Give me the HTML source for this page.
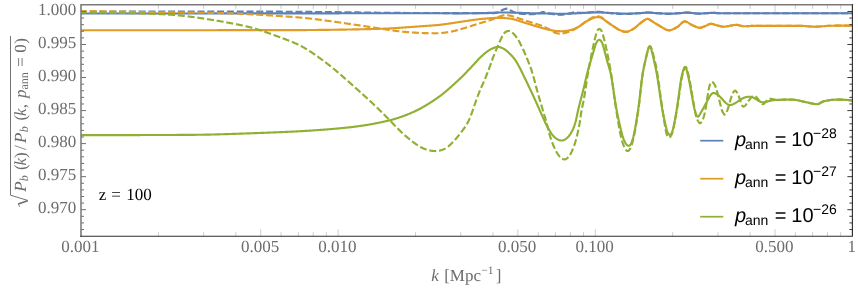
<!DOCTYPE html>
<html><head><meta charset="utf-8"><title>plot</title>
<style>html,body{margin:0;padding:0;background:#fff;}body{width:858px;height:288px;position:relative;overflow:hidden;font-family:"Liberation Sans",sans-serif;}</style>
</head><body>
<svg width="858" height="288" viewBox="0 0 858 288" style="position:absolute;left:0;top:0;will-change:transform;text-rendering:geometricPrecision">
<rect x="0" y="0" width="858" height="288" fill="#fff"/>
<defs><clipPath id="c"><rect x="81.0" y="4.75" width="771.4" height="231.55"/></clipPath></defs>
<g clip-path="url(#c)" fill="none" stroke-linejoin="round">
<path d="M81.00,13.45 L81.50,13.45 L82.00,13.45 L82.50,13.45 L83.00,13.45 L83.50,13.45 L84.00,13.45 L84.50,13.45 L85.00,13.45 L85.50,13.45 L86.00,13.45 L86.50,13.45 L87.00,13.45 L87.50,13.45 L88.00,13.45 L88.50,13.45 L89.00,13.45 L89.50,13.45 L90.00,13.45 L90.50,13.45 L91.00,13.45 L91.50,13.45 L92.00,13.46 L92.50,13.46 L93.00,13.46 L93.50,13.46 L94.00,13.46 L94.50,13.46 L95.00,13.46 L95.50,13.46 L96.00,13.46 L96.50,13.46 L97.00,13.46 L97.50,13.46 L98.00,13.46 L98.50,13.46 L99.00,13.46 L99.50,13.46 L100.00,13.46 L100.50,13.46 L101.00,13.46 L101.50,13.46 L102.00,13.46 L102.50,13.46 L103.00,13.46 L103.50,13.46 L104.00,13.46 L104.50,13.46 L105.00,13.46 L105.50,13.46 L106.00,13.46 L106.50,13.46 L107.00,13.46 L107.50,13.46 L108.00,13.46 L108.50,13.46 L109.00,13.46 L109.50,13.46 L110.00,13.46 L110.50,13.46 L111.00,13.46 L111.50,13.46 L112.00,13.46 L112.50,13.46 L113.00,13.46 L113.50,13.46 L114.00,13.46 L114.50,13.46 L115.00,13.46 L115.50,13.46 L116.00,13.46 L116.50,13.46 L117.00,13.46 L117.50,13.46 L118.00,13.46 L118.50,13.46 L119.00,13.46 L119.50,13.46 L120.00,13.46 L120.50,13.46 L121.00,13.46 L121.50,13.46 L122.00,13.46 L122.50,13.47 L123.00,13.47 L123.50,13.47 L124.00,13.47 L124.50,13.47 L125.00,13.47 L125.50,13.47 L126.00,13.47 L126.50,13.47 L127.00,13.47 L127.50,13.47 L128.00,13.47 L128.50,13.47 L129.00,13.47 L129.50,13.47 L130.00,13.47 L130.50,13.47 L131.00,13.47 L131.50,13.47 L132.00,13.47 L132.50,13.47 L133.00,13.47 L133.50,13.47 L134.00,13.47 L134.50,13.47 L135.00,13.47 L135.50,13.47 L136.00,13.47 L136.50,13.47 L137.00,13.47 L137.50,13.47 L138.00,13.47 L138.50,13.47 L139.00,13.47 L139.50,13.47 L140.00,13.47 L140.50,13.47 L141.00,13.47 L141.50,13.47 L142.00,13.47 L142.50,13.47 L143.00,13.47 L143.50,13.47 L144.00,13.47 L144.50,13.47 L145.00,13.47 L145.50,13.47 L146.00,13.47 L146.50,13.47 L147.00,13.47 L147.50,13.47 L148.00,13.47 L148.50,13.47 L149.00,13.47 L149.50,13.47 L150.00,13.47 L150.50,13.47 L151.00,13.47 L151.50,13.47 L152.00,13.47 L152.50,13.47 L153.00,13.47 L153.50,13.47 L154.00,13.47 L154.50,13.47 L155.00,13.47 L155.50,13.47 L156.00,13.47 L156.50,13.47 L157.00,13.47 L157.50,13.47 L158.00,13.47 L158.50,13.47 L159.00,13.47 L159.50,13.47 L160.00,13.47 L160.50,13.47 L161.00,13.47 L161.50,13.47 L162.00,13.47 L162.50,13.47 L163.00,13.47 L163.50,13.47 L164.00,13.47 L164.50,13.47 L165.00,13.47 L165.50,13.47 L166.00,13.47 L166.50,13.46 L167.00,13.46 L167.50,13.46 L168.00,13.46 L168.50,13.46 L169.00,13.46 L169.50,13.46 L170.00,13.46 L170.50,13.46 L171.00,13.46 L171.50,13.46 L172.00,13.46 L172.50,13.46 L173.00,13.46 L173.50,13.46 L174.00,13.46 L174.50,13.46 L175.00,13.46 L175.50,13.46 L176.00,13.46 L176.50,13.46 L177.00,13.46 L177.50,13.46 L178.00,13.46 L178.50,13.46 L179.00,13.46 L179.50,13.46 L180.00,13.46 L180.50,13.46 L181.00,13.46 L181.50,13.46 L182.00,13.46 L182.50,13.46 L183.00,13.46 L183.50,13.46 L184.00,13.46 L184.50,13.46 L185.00,13.46 L185.50,13.46 L186.00,13.46 L186.50,13.46 L187.00,13.46 L187.50,13.46 L188.00,13.46 L188.50,13.46 L189.00,13.46 L189.50,13.46 L190.00,13.46 L190.50,13.46 L191.00,13.46 L191.50,13.46 L192.00,13.45 L192.50,13.45 L193.00,13.45 L193.50,13.45 L194.00,13.45 L194.50,13.45 L195.00,13.45 L195.50,13.45 L196.00,13.45 L196.50,13.45 L197.00,13.45 L197.50,13.45 L198.00,13.45 L198.50,13.45 L199.00,13.45 L199.50,13.45 L200.00,13.45 L200.50,13.45 L201.00,13.45 L201.50,13.45 L202.00,13.45 L202.50,13.45 L203.00,13.45 L203.50,13.45 L204.00,13.45 L204.50,13.45 L205.00,13.45 L205.50,13.45 L206.00,13.45 L206.50,13.45 L207.00,13.45 L207.50,13.44 L208.00,13.44 L208.50,13.44 L209.00,13.44 L209.50,13.44 L210.00,13.44 L210.50,13.44 L211.00,13.44 L211.50,13.44 L212.00,13.44 L212.50,13.44 L213.00,13.44 L213.50,13.44 L214.00,13.44 L214.50,13.44 L215.00,13.44 L215.50,13.44 L216.00,13.44 L216.50,13.44 L217.00,13.44 L217.50,13.44 L218.00,13.44 L218.50,13.44 L219.00,13.44 L219.50,13.44 L220.00,13.43 L220.50,13.43 L221.00,13.43 L221.50,13.43 L222.00,13.43 L222.50,13.43 L223.00,13.43 L223.50,13.43 L224.00,13.43 L224.50,13.43 L225.00,13.43 L225.50,13.43 L226.00,13.43 L226.50,13.43 L227.00,13.43 L227.50,13.43 L228.00,13.43 L228.50,13.43 L229.00,13.43 L229.50,13.43 L230.00,13.43 L230.50,13.43 L231.00,13.42 L231.50,13.42 L232.00,13.42 L232.50,13.42 L233.00,13.42 L233.50,13.42 L234.00,13.42 L234.50,13.42 L235.00,13.42 L235.50,13.42 L236.00,13.42 L236.50,13.42 L237.00,13.42 L237.50,13.42 L238.00,13.42 L238.50,13.42 L239.00,13.42 L239.50,13.42 L240.00,13.42 L240.50,13.42 L241.00,13.41 L241.50,13.41 L242.00,13.41 L242.50,13.41 L243.00,13.41 L243.50,13.41 L244.00,13.41 L244.50,13.41 L245.00,13.41 L245.50,13.41 L246.00,13.41 L246.50,13.41 L247.00,13.41 L247.50,13.41 L248.00,13.41 L248.50,13.41 L249.00,13.41 L249.50,13.41 L250.00,13.41 L250.50,13.41 L251.00,13.40 L251.50,13.40 L252.00,13.40 L252.50,13.40 L253.00,13.40 L253.50,13.40 L254.00,13.40 L254.50,13.40 L255.00,13.40 L255.50,13.40 L256.00,13.40 L256.50,13.40 L257.00,13.40 L257.50,13.40 L258.00,13.40 L258.50,13.40 L259.00,13.40 L259.50,13.40 L260.00,13.39 L260.50,13.39 L261.00,13.39 L261.50,13.39 L262.00,13.39 L262.50,13.39 L263.00,13.39 L263.50,13.39 L264.00,13.39 L264.50,13.39 L265.00,13.39 L265.50,13.39 L266.00,13.39 L266.50,13.39 L267.00,13.39 L267.50,13.39 L268.00,13.39 L268.50,13.39 L269.00,13.38 L269.50,13.38 L270.00,13.38 L270.50,13.38 L271.00,13.38 L271.50,13.38 L272.00,13.38 L272.50,13.38 L273.00,13.38 L273.50,13.38 L274.00,13.38 L274.50,13.38 L275.00,13.38 L275.50,13.38 L276.00,13.38 L276.50,13.38 L277.00,13.38 L277.50,13.38 L278.00,13.37 L278.50,13.37 L279.00,13.37 L279.50,13.37 L280.00,13.37 L280.50,13.37 L281.00,13.37 L281.50,13.37 L282.00,13.37 L282.50,13.37 L283.00,13.37 L283.50,13.37 L284.00,13.37 L284.50,13.37 L285.00,13.37 L285.50,13.37 L286.00,13.37 L286.50,13.37 L287.00,13.36 L287.50,13.36 L288.00,13.36 L288.50,13.36 L289.00,13.36 L289.50,13.36 L290.00,13.36 L290.50,13.36 L291.00,13.36 L291.50,13.36 L292.00,13.36 L292.50,13.36 L293.00,13.36 L293.50,13.36 L294.00,13.36 L294.50,13.36 L295.00,13.36 L295.50,13.36 L296.00,13.35 L296.50,13.35 L297.00,13.35 L297.50,13.35 L298.00,13.35 L298.50,13.35 L299.00,13.35 L299.50,13.35 L300.00,13.35 L300.50,13.35 L301.00,13.35 L301.50,13.35 L302.00,13.35 L302.50,13.35 L303.00,13.35 L303.50,13.35 L304.00,13.35 L304.50,13.34 L305.00,13.34 L305.50,13.34 L306.00,13.34 L306.50,13.34 L307.00,13.34 L307.50,13.34 L308.00,13.34 L308.50,13.34 L309.00,13.34 L309.50,13.34 L310.00,13.34 L310.50,13.34 L311.00,13.34 L311.50,13.34 L312.00,13.34 L312.50,13.33 L313.00,13.33 L313.50,13.33 L314.00,13.33 L314.50,13.33 L315.00,13.33 L315.50,13.33 L316.00,13.33 L316.50,13.33 L317.00,13.33 L317.50,13.33 L318.00,13.33 L318.50,13.33 L319.00,13.33 L319.50,13.33 L320.00,13.32 L320.50,13.32 L321.00,13.32 L321.50,13.32 L322.00,13.32 L322.50,13.32 L323.00,13.32 L323.50,13.32 L324.00,13.32 L324.50,13.32 L325.00,13.32 L325.50,13.32 L326.00,13.32 L326.50,13.32 L327.00,13.31 L327.50,13.31 L328.00,13.31 L328.50,13.31 L329.00,13.31 L329.50,13.31 L330.00,13.31 L330.50,13.31 L331.00,13.31 L331.50,13.31 L332.00,13.31 L332.50,13.31 L333.00,13.31 L333.50,13.30 L334.00,13.30 L334.50,13.30 L335.00,13.30 L335.50,13.30 L336.00,13.30 L336.50,13.30 L337.00,13.30 L337.50,13.30 L338.00,13.30 L338.50,13.30 L339.00,13.30 L339.50,13.30 L340.00,13.29 L340.50,13.29 L341.00,13.29 L341.50,13.29 L342.00,13.29 L342.50,13.29 L343.00,13.29 L343.50,13.29 L344.00,13.29 L344.50,13.29 L345.00,13.29 L345.50,13.29 L346.00,13.28 L346.50,13.28 L347.00,13.28 L347.50,13.28 L348.00,13.28 L348.50,13.28 L349.00,13.28 L349.50,13.28 L350.00,13.28 L350.50,13.28 L351.00,13.28 L351.50,13.28 L352.00,13.28 L352.50,13.27 L353.00,13.27 L353.50,13.27 L354.00,13.27 L354.50,13.27 L355.00,13.27 L355.50,13.27 L356.00,13.27 L356.50,13.27 L357.00,13.27 L357.50,13.27 L358.00,13.27 L358.50,13.26 L359.00,13.26 L359.50,13.26 L360.00,13.26 L360.50,13.26 L361.00,13.26 L361.50,13.26 L362.00,13.26 L362.50,13.26 L363.00,13.26 L363.50,13.26 L364.00,13.26 L364.50,13.25 L365.00,13.25 L365.50,13.25 L366.00,13.25 L366.50,13.25 L367.00,13.25 L367.50,13.25 L368.00,13.25 L368.50,13.25 L369.00,13.25 L369.50,13.25 L370.00,13.25 L370.50,13.24 L371.00,13.24 L371.50,13.24 L372.00,13.24 L372.50,13.24 L373.00,13.24 L373.50,13.24 L374.00,13.24 L374.50,13.24 L375.00,13.24 L375.50,13.24 L376.00,13.24 L376.50,13.24 L377.00,13.23 L377.50,13.23 L378.00,13.23 L378.50,13.23 L379.00,13.23 L379.50,13.23 L380.00,13.23 L380.50,13.23 L381.00,13.23 L381.50,13.23 L382.00,13.23 L382.50,13.23 L383.00,13.23 L383.50,13.22 L384.00,13.22 L384.50,13.22 L385.00,13.22 L385.50,13.22 L386.00,13.22 L386.50,13.22 L387.00,13.22 L387.50,13.22 L388.00,13.22 L388.50,13.22 L389.00,13.22 L389.50,13.22 L390.00,13.21 L390.50,13.21 L391.00,13.21 L391.50,13.21 L392.00,13.21 L392.50,13.21 L393.00,13.21 L393.50,13.21 L394.00,13.21 L394.50,13.21 L395.00,13.21 L395.50,13.21 L396.00,13.21 L396.50,13.20 L397.00,13.20 L397.50,13.20 L398.00,13.20 L398.50,13.20 L399.00,13.20 L399.50,13.20 L400.00,13.20 L400.50,13.20 L401.00,13.20 L401.50,13.20 L402.00,13.20 L402.50,13.20 L403.00,13.20 L403.50,13.20 L404.00,13.20 L404.50,13.20 L405.00,13.20 L405.50,13.20 L406.00,13.20 L406.50,13.20 L407.00,13.20 L407.50,13.20 L408.00,13.20 L408.50,13.20 L409.00,13.20 L409.50,13.20 L410.00,13.20 L410.50,13.20 L411.00,13.20 L411.50,13.20 L412.00,13.20 L412.50,13.20 L413.00,13.20 L413.50,13.20 L414.00,13.20 L414.50,13.20 L415.00,13.20 L415.50,13.21 L416.00,13.21 L416.50,13.21 L417.00,13.21 L417.50,13.21 L418.00,13.21 L418.50,13.21 L419.00,13.21 L419.50,13.21 L420.00,13.21 L420.50,13.22 L421.00,13.22 L421.50,13.22 L422.00,13.22 L422.50,13.22 L423.00,13.22 L423.50,13.22 L424.00,13.22 L424.50,13.23 L425.00,13.23 L425.50,13.23 L426.00,13.23 L426.50,13.23 L427.00,13.23 L427.50,13.23 L428.00,13.23 L428.50,13.24 L429.00,13.24 L429.50,13.24 L430.00,13.24 L430.50,13.24 L431.00,13.24 L431.50,13.24 L432.00,13.25 L432.50,13.25 L433.00,13.25 L433.50,13.25 L434.00,13.25 L434.50,13.25 L435.00,13.25 L435.50,13.26 L436.00,13.26 L436.50,13.26 L437.00,13.26 L437.50,13.26 L438.00,13.26 L438.50,13.26 L439.00,13.27 L439.50,13.27 L440.00,13.27 L440.50,13.27 L441.00,13.27 L441.50,13.27 L442.00,13.27 L442.50,13.28 L443.00,13.28 L443.50,13.28 L444.00,13.28 L444.50,13.28 L445.00,13.28 L445.50,13.28 L446.00,13.28 L446.50,13.28 L447.00,13.29 L447.50,13.29 L448.00,13.29 L448.50,13.29 L449.00,13.29 L449.50,13.29 L450.00,13.29 L450.50,13.29 L451.00,13.29 L451.50,13.29 L452.00,13.29 L452.50,13.30 L453.00,13.30 L453.50,13.30 L454.00,13.30 L454.50,13.30 L455.00,13.30 L455.50,13.30 L456.00,13.30 L456.50,13.30 L457.00,13.30 L457.50,13.30 L458.00,13.30 L458.50,13.30 L459.00,13.30 L459.50,13.30 L460.00,13.30 L460.50,13.30 L461.00,13.30 L461.50,13.30 L462.00,13.30 L462.50,13.30 L463.00,13.29 L463.50,13.29 L464.00,13.29 L464.50,13.29 L465.00,13.28 L465.50,13.28 L466.00,13.28 L466.50,13.27 L467.00,13.27 L467.50,13.26 L468.00,13.26 L468.50,13.25 L469.00,13.25 L469.50,13.24 L470.00,13.24 L470.50,13.23 L471.00,13.22 L471.50,13.22 L472.00,13.21 L472.50,13.20 L473.00,13.20 L473.50,13.19 L474.00,13.18 L474.50,13.18 L475.00,13.17 L475.50,13.16 L476.00,13.15 L476.50,13.14 L477.00,13.14 L477.50,13.13 L478.00,13.12 L478.50,13.11 L479.00,13.10 L479.50,13.09 L480.00,13.09 L480.50,13.08 L481.00,13.07 L481.50,13.06 L482.00,13.05 L482.50,13.04 L483.00,13.03 L483.50,13.03 L484.00,13.02 L484.50,13.01 L485.00,13.00 L485.50,12.99 L486.00,12.98 L486.50,12.97 L487.00,12.95 L487.50,12.94 L488.00,12.92 L488.50,12.90 L489.00,12.89 L489.50,12.87 L490.00,12.85 L490.50,12.83 L491.00,12.81 L491.50,12.79 L492.00,12.77 L492.50,12.74 L493.00,12.72 L493.50,12.70 L494.00,12.68 L494.50,12.66 L495.00,12.64 L495.50,12.62 L496.00,12.60 L496.50,12.59 L497.00,12.57 L497.50,12.56 L498.00,12.54 L498.50,12.53 L499.00,12.52 L499.50,12.51 L500.00,12.50 L500.50,12.49 L501.00,12.49 L501.50,12.48 L502.00,12.48 L502.50,12.48 L503.00,12.48 L503.50,12.48 L504.00,12.48 L504.50,12.48 L505.00,12.48 L505.50,12.48 L506.00,12.49 L506.50,12.49 L507.00,12.50 L507.50,12.51 L508.00,12.51 L508.50,12.52 L509.00,12.53 L509.50,12.54 L510.00,12.55 L510.50,12.56 L511.00,12.57 L511.50,12.59 L512.00,12.60 L512.50,12.61 L513.00,12.63 L513.50,12.64 L514.00,12.66 L514.50,12.68 L515.00,12.69 L515.50,12.71 L516.00,12.73 L516.50,12.74 L517.00,12.76 L517.50,12.78 L518.00,12.80 L518.50,12.82 L519.00,12.84 L519.50,12.86 L520.00,12.87 L520.50,12.89 L521.00,12.91 L521.50,12.93 L522.00,12.95 L522.50,12.97 L523.00,12.99 L523.50,13.01 L524.00,13.02 L524.50,13.04 L525.00,13.06 L525.50,13.07 L526.00,13.09 L526.50,13.11 L527.00,13.12 L527.50,13.14 L528.00,13.15 L528.50,13.16 L529.00,13.18 L529.50,13.19 L530.00,13.20 L530.50,13.21 L531.00,13.22 L531.50,13.23 L532.00,13.24 L532.50,13.25 L533.00,13.26 L533.50,13.27 L534.00,13.28 L534.50,13.29 L535.00,13.31 L535.50,13.32 L536.00,13.33 L536.50,13.34 L537.00,13.35 L537.50,13.36 L538.00,13.37 L538.50,13.38 L539.00,13.39 L539.50,13.40 L540.00,13.41 L540.50,13.42 L541.00,13.43 L541.50,13.44 L542.00,13.45 L542.50,13.45 L543.00,13.46 L543.50,13.47 L544.00,13.48 L544.50,13.49 L545.00,13.50 L545.50,13.51 L546.00,13.52 L546.50,13.53 L547.00,13.54 L547.50,13.55 L548.00,13.56 L548.50,13.57 L549.00,13.58 L549.50,13.59 L550.00,13.60 L550.50,13.61 L551.00,13.62 L551.50,13.63 L552.00,13.64 L552.50,13.65 L553.00,13.66 L553.50,13.67 L554.00,13.68 L554.50,13.69 L555.00,13.70 L555.50,13.70 L556.00,13.71 L556.50,13.72 L557.00,13.73 L557.50,13.74 L558.00,13.75 L558.50,13.75 L559.00,13.76 L559.50,13.77 L560.00,13.78 L560.50,13.78 L561.00,13.79 L561.50,13.79 L562.00,13.80 L562.50,13.80 L563.00,13.81 L563.50,13.80 L564.00,13.80 L564.50,13.80 L565.00,13.79 L565.50,13.78 L566.00,13.77 L566.50,13.76 L567.00,13.74 L567.50,13.73 L568.00,13.71 L568.50,13.70 L569.00,13.68 L569.50,13.66 L570.00,13.64 L570.50,13.61 L571.00,13.59 L571.50,13.57 L572.00,13.55 L572.50,13.52 L573.00,13.50 L573.50,13.47 L574.00,13.45 L574.50,13.42 L575.00,13.40 L575.50,13.38 L576.00,13.35 L576.50,13.33 L577.00,13.30 L577.50,13.28 L578.00,13.25 L578.50,13.22 L579.00,13.20 L579.50,13.17 L580.00,13.14 L580.50,13.12 L581.00,13.09 L581.50,13.06 L582.00,13.04 L582.50,13.01 L583.00,12.98 L583.50,12.96 L584.00,12.93 L584.50,12.90 L585.00,12.88 L585.50,12.85 L586.00,12.82 L586.50,12.80 L587.00,12.77 L587.50,12.75 L588.00,12.72 L588.50,12.69 L589.00,12.67 L589.50,12.64 L590.00,12.61 L590.50,12.58 L591.00,12.55 L591.50,12.52 L592.00,12.49 L592.50,12.46 L593.00,12.44 L593.50,12.41 L594.00,12.39 L594.50,12.37 L595.00,12.35 L595.50,12.34 L596.00,12.32 L596.50,12.32 L597.00,12.32 L597.50,12.32 L598.00,12.32 L598.50,12.34 L599.00,12.35 L599.50,12.37 L600.00,12.39 L600.50,12.41 L601.00,12.44 L601.50,12.47 L602.00,12.50 L602.50,12.53 L603.00,12.56 L603.50,12.60 L604.00,12.63 L604.50,12.66 L605.00,12.70 L605.50,12.73 L606.00,12.76 L606.50,12.80 L607.00,12.83 L607.50,12.85 L608.00,12.88 L608.50,12.91 L609.00,12.93 L609.50,12.96 L610.00,12.98 L610.50,13.01 L611.00,13.04 L611.50,13.06 L612.00,13.09 L612.50,13.12 L613.00,13.14 L613.50,13.17 L614.00,13.20 L614.50,13.22 L615.00,13.25 L615.50,13.28 L616.00,13.30 L616.50,13.33 L617.00,13.35 L617.50,13.38 L618.00,13.40 L618.50,13.43 L619.00,13.45 L619.50,13.47 L620.00,13.50 L620.50,13.52 L621.00,13.54 L621.50,13.56 L622.00,13.58 L622.50,13.60 L623.00,13.61 L623.50,13.63 L624.00,13.64 L624.50,13.66 L625.00,13.67 L625.50,13.68 L626.00,13.69 L626.50,13.70 L627.00,13.70 L627.50,13.70 L628.00,13.69 L628.50,13.68 L629.00,13.67 L629.50,13.66 L630.00,13.64 L630.50,13.63 L631.00,13.61 L631.50,13.59 L632.00,13.56 L632.50,13.54 L633.00,13.51 L633.50,13.49 L634.00,13.46 L634.50,13.43 L635.00,13.40 L635.50,13.37 L636.00,13.34 L636.50,13.31 L637.00,13.28 L637.50,13.25 L638.00,13.22 L638.50,13.20 L639.00,13.17 L639.50,13.14 L640.00,13.12 L640.50,13.09 L641.00,13.06 L641.50,13.02 L642.00,12.98 L642.50,12.94 L643.00,12.89 L643.50,12.85 L644.00,12.81 L644.50,12.76 L645.00,12.73 L645.50,12.69 L646.00,12.67 L646.50,12.65 L647.00,12.64 L647.50,12.63 L648.00,12.64 L648.50,12.65 L649.00,12.67 L649.50,12.69 L650.00,12.72 L650.50,12.74 L651.00,12.77 L651.50,12.79 L652.00,12.82 L652.50,12.85 L653.00,12.88 L653.50,12.92 L654.00,12.95 L654.50,12.98 L655.00,13.01 L655.50,13.04 L656.00,13.07 L656.50,13.09 L657.00,13.12 L657.50,13.15 L658.00,13.17 L658.50,13.20 L659.00,13.23 L659.50,13.26 L660.00,13.28 L660.50,13.31 L661.00,13.34 L661.50,13.37 L662.00,13.40 L662.50,13.43 L663.00,13.45 L663.50,13.48 L664.00,13.51 L664.50,13.53 L665.00,13.55 L665.50,13.58 L666.00,13.60 L666.50,13.62 L667.00,13.63 L667.50,13.65 L668.00,13.66 L668.50,13.67 L669.00,13.68 L669.50,13.68 L670.00,13.68 L670.50,13.68 L671.00,13.67 L671.50,13.65 L672.00,13.63 L672.50,13.61 L673.00,13.59 L673.50,13.56 L674.00,13.53 L674.50,13.50 L675.00,13.46 L675.50,13.43 L676.00,13.39 L676.50,13.36 L677.00,13.32 L677.50,13.28 L678.00,13.25 L678.50,13.21 L679.00,13.18 L679.50,13.15 L680.00,13.12 L680.50,13.09 L681.00,13.05 L681.50,13.01 L682.00,12.96 L682.50,12.91 L683.00,12.86 L683.50,12.81 L684.00,12.77 L684.50,12.73 L685.00,12.69 L685.50,12.66 L686.00,12.64 L686.50,12.63 L687.00,12.63 L687.50,12.64 L688.00,12.66 L688.50,12.69 L689.00,12.73 L689.50,12.77 L690.00,12.81 L690.50,12.86 L691.00,12.91 L691.50,12.96 L692.00,13.01 L692.50,13.06 L693.00,13.11 L693.50,13.16 L694.00,13.20 L694.50,13.25 L695.00,13.30 L695.50,13.35 L696.00,13.40 L696.50,13.45 L697.00,13.50 L697.50,13.54 L698.00,13.57 L698.50,13.59 L699.00,13.60 L699.50,13.59 L700.00,13.58 L700.50,13.56 L701.00,13.54 L701.50,13.51 L702.00,13.48 L702.50,13.44 L703.00,13.41 L703.50,13.37 L704.00,13.33 L704.50,13.30 L705.00,13.26 L705.50,13.23 L706.00,13.20 L706.50,13.17 L707.00,13.14 L707.50,13.12 L708.00,13.09 L708.50,13.06 L709.00,13.03 L709.50,13.01 L710.00,12.98 L710.50,12.95 L711.00,12.93 L711.50,12.90 L712.00,12.88 L712.50,12.86 L713.00,12.86 L713.50,12.87 L714.00,12.89 L714.50,12.91 L715.00,12.94 L715.50,12.98 L716.00,13.02 L716.50,13.06 L717.00,13.10 L717.50,13.14 L718.00,13.18 L718.50,13.21 L719.00,13.23 L719.50,13.24 L720.00,13.25 L720.50,13.25 L721.00,13.25 L721.50,13.25 L722.00,13.25 L722.50,13.25 L723.00,13.25 L723.50,13.25 L724.00,13.25 L724.50,13.25 L725.00,13.25 L725.50,13.25 L726.00,13.25 L726.50,13.25 L727.00,13.25 L727.50,13.25 L728.00,13.25 L728.50,13.25 L729.00,13.25 L729.50,13.25 L730.00,13.25 L730.50,13.25 L731.00,13.25 L731.50,13.25 L732.00,13.25 L732.50,13.25 L733.00,13.25 L733.50,13.25 L734.00,13.25 L734.50,13.25 L735.00,13.25 L735.50,13.25 L736.00,13.25 L736.50,13.25 L737.00,13.25 L737.50,13.25 L738.00,13.25 L738.50,13.25 L739.00,13.25 L739.50,13.25 L740.00,13.25 L740.50,13.25 L741.00,13.25 L741.50,13.25 L742.00,13.25 L742.50,13.25 L743.00,13.25 L743.50,13.25 L744.00,13.25 L744.50,13.25 L745.00,13.25 L745.50,13.25 L746.00,13.25 L746.50,13.25 L747.00,13.25 L747.50,13.25 L748.00,13.25 L748.50,13.25 L749.00,13.25 L749.50,13.25 L750.00,13.25 L750.50,13.25 L751.00,13.25 L751.50,13.25 L752.00,13.25 L752.50,13.25 L753.00,13.25 L753.50,13.25 L754.00,13.25 L754.50,13.25 L755.00,13.25 L755.50,13.25 L756.00,13.25 L756.50,13.25 L757.00,13.25 L757.50,13.25 L758.00,13.25 L758.50,13.25 L759.00,13.25 L759.50,13.25 L760.00,13.25 L760.50,13.25 L761.00,13.25 L761.50,13.25 L762.00,13.25 L762.50,13.25 L763.00,13.25 L763.50,13.25 L764.00,13.25 L764.50,13.25 L765.00,13.25 L765.50,13.25 L766.00,13.25 L766.50,13.25 L767.00,13.25 L767.50,13.25 L768.00,13.25 L768.50,13.25 L769.00,13.25 L769.50,13.25 L770.00,13.25 L770.50,13.25 L771.00,13.25 L771.50,13.25 L772.00,13.25 L772.50,13.25 L773.00,13.25 L773.50,13.25 L774.00,13.25 L774.50,13.25 L775.00,13.25 L775.50,13.25 L776.00,13.25 L776.50,13.25 L777.00,13.25 L777.50,13.25 L778.00,13.25 L778.50,13.25 L779.00,13.25 L779.50,13.25 L780.00,13.25 L780.50,13.25 L781.00,13.25 L781.50,13.25 L782.00,13.25 L782.50,13.25 L783.00,13.25 L783.50,13.25 L784.00,13.25 L784.50,13.25 L785.00,13.25 L785.50,13.25 L786.00,13.25 L786.50,13.25 L787.00,13.25 L787.50,13.25 L788.00,13.25 L788.50,13.25 L789.00,13.25 L789.50,13.25 L790.00,13.25 L790.50,13.25 L791.00,13.25 L791.50,13.25 L792.00,13.25 L792.50,13.25 L793.00,13.25 L793.50,13.25 L794.00,13.25 L794.50,13.25 L795.00,13.25 L795.50,13.25 L796.00,13.25 L796.50,13.25 L797.00,13.25 L797.50,13.25 L798.00,13.25 L798.50,13.25 L799.00,13.25 L799.50,13.25 L800.00,13.25 L800.50,13.25 L801.00,13.25 L801.50,13.25 L802.00,13.25 L802.50,13.25 L803.00,13.25 L803.50,13.25 L804.00,13.25 L804.50,13.25 L805.00,13.25 L805.50,13.25 L806.00,13.25 L806.50,13.25 L807.00,13.25 L807.50,13.25 L808.00,13.25 L808.50,13.25 L809.00,13.25 L809.50,13.25 L810.00,13.25 L810.50,13.25 L811.00,13.25 L811.50,13.25 L812.00,13.25 L812.50,13.25 L813.00,13.25 L813.50,13.25 L814.00,13.25 L814.50,13.25 L815.00,13.25 L815.50,13.25 L816.00,13.25 L816.50,13.25 L817.00,13.25 L817.50,13.25 L818.00,13.25 L818.50,13.25 L819.00,13.25 L819.50,13.25 L820.00,13.25 L820.50,13.25 L821.00,13.25 L821.50,13.25 L822.00,13.25 L822.50,13.25 L823.00,13.25 L823.50,13.25 L824.00,13.25 L824.50,13.25 L825.00,13.25 L825.50,13.25 L826.00,13.25 L826.50,13.25 L827.00,13.25 L827.50,13.25 L828.00,13.25 L828.50,13.25 L829.00,13.25 L829.50,13.25 L830.00,13.25 L830.50,13.25 L831.00,13.25 L831.50,13.25 L832.00,13.25 L832.50,13.25 L833.00,13.25 L833.50,13.25 L834.00,13.25 L834.50,13.25 L835.00,13.25 L835.50,13.25 L836.00,13.25 L836.50,13.25 L837.00,13.25 L837.50,13.25 L838.00,13.25 L838.50,13.25 L839.00,13.25 L839.50,13.25 L840.00,13.25 L840.50,13.25 L841.00,13.25 L841.50,13.25 L842.00,13.25 L842.50,13.25 L843.00,13.25 L843.50,13.25 L844.00,13.25 L844.50,13.25 L845.00,13.25 L845.50,13.25 L846.00,13.25 L846.50,13.25 L847.00,13.25 L847.50,13.25 L848.00,13.25 L848.50,13.25 L849.00,13.25 L849.50,13.25 L850.00,13.25 L850.50,13.25 L851.00,13.25 L851.50,13.25 L852.00,13.25 L852.50,13.25" stroke="#5E81B5" stroke-width="2.15"/>
<path d="M81.00,30.20 L81.50,30.20 L82.00,30.20 L82.50,30.20 L83.00,30.20 L83.50,30.20 L84.00,30.20 L84.50,30.20 L85.00,30.20 L85.50,30.20 L86.00,30.20 L86.50,30.20 L87.00,30.20 L87.50,30.20 L88.00,30.20 L88.50,30.20 L89.00,30.20 L89.50,30.20 L90.00,30.20 L90.50,30.20 L91.00,30.20 L91.50,30.20 L92.00,30.20 L92.50,30.21 L93.00,30.21 L93.50,30.21 L94.00,30.21 L94.50,30.21 L95.00,30.21 L95.50,30.21 L96.00,30.21 L96.50,30.21 L97.00,30.21 L97.50,30.21 L98.00,30.21 L98.50,30.21 L99.00,30.21 L99.50,30.21 L100.00,30.21 L100.50,30.21 L101.00,30.21 L101.50,30.21 L102.00,30.21 L102.50,30.21 L103.00,30.21 L103.50,30.21 L104.00,30.21 L104.50,30.21 L105.00,30.21 L105.50,30.21 L106.00,30.21 L106.50,30.21 L107.00,30.21 L107.50,30.21 L108.00,30.21 L108.50,30.21 L109.00,30.21 L109.50,30.21 L110.00,30.21 L110.50,30.21 L111.00,30.21 L111.50,30.21 L112.00,30.21 L112.50,30.21 L113.00,30.21 L113.50,30.21 L114.00,30.21 L114.50,30.21 L115.00,30.21 L115.50,30.21 L116.00,30.21 L116.50,30.21 L117.00,30.21 L117.50,30.21 L118.00,30.21 L118.50,30.21 L119.00,30.21 L119.50,30.21 L120.00,30.21 L120.50,30.21 L121.00,30.21 L121.50,30.21 L122.00,30.21 L122.50,30.21 L123.00,30.21 L123.50,30.21 L124.00,30.21 L124.50,30.21 L125.00,30.21 L125.50,30.21 L126.00,30.21 L126.50,30.21 L127.00,30.21 L127.50,30.21 L128.00,30.21 L128.50,30.21 L129.00,30.21 L129.50,30.21 L130.00,30.21 L130.50,30.21 L131.00,30.21 L131.50,30.21 L132.00,30.21 L132.50,30.21 L133.00,30.21 L133.50,30.21 L134.00,30.21 L134.50,30.21 L135.00,30.21 L135.50,30.21 L136.00,30.21 L136.50,30.21 L137.00,30.21 L137.50,30.21 L138.00,30.21 L138.50,30.21 L139.00,30.21 L139.50,30.21 L140.00,30.21 L140.50,30.21 L141.00,30.21 L141.50,30.21 L142.00,30.21 L142.50,30.21 L143.00,30.21 L143.50,30.21 L144.00,30.21 L144.50,30.21 L145.00,30.21 L145.50,30.21 L146.00,30.21 L146.50,30.21 L147.00,30.21 L147.50,30.21 L148.00,30.21 L148.50,30.21 L149.00,30.21 L149.50,30.21 L150.00,30.21 L150.50,30.21 L151.00,30.21 L151.50,30.21 L152.00,30.21 L152.50,30.21 L153.00,30.21 L153.50,30.21 L154.00,30.21 L154.50,30.21 L155.00,30.21 L155.50,30.21 L156.00,30.21 L156.50,30.21 L157.00,30.21 L157.50,30.21 L158.00,30.21 L158.50,30.21 L159.00,30.21 L159.50,30.21 L160.00,30.21 L160.50,30.21 L161.00,30.21 L161.50,30.21 L162.00,30.21 L162.50,30.21 L163.00,30.21 L163.50,30.21 L164.00,30.21 L164.50,30.21 L165.00,30.21 L165.50,30.21 L166.00,30.21 L166.50,30.21 L167.00,30.21 L167.50,30.21 L168.00,30.21 L168.50,30.21 L169.00,30.21 L169.50,30.21 L170.00,30.21 L170.50,30.20 L171.00,30.20 L171.50,30.20 L172.00,30.20 L172.50,30.20 L173.00,30.20 L173.50,30.20 L174.00,30.20 L174.50,30.20 L175.00,30.20 L175.50,30.20 L176.00,30.20 L176.50,30.20 L177.00,30.20 L177.50,30.20 L178.00,30.20 L178.50,30.20 L179.00,30.20 L179.50,30.20 L180.00,30.20 L180.50,30.20 L181.00,30.20 L181.50,30.20 L182.00,30.20 L182.50,30.20 L183.00,30.20 L183.50,30.20 L184.00,30.20 L184.50,30.20 L185.00,30.20 L185.50,30.20 L186.00,30.20 L186.50,30.20 L187.00,30.20 L187.50,30.20 L188.00,30.20 L188.50,30.20 L189.00,30.20 L189.50,30.20 L190.00,30.20 L190.50,30.20 L191.00,30.20 L191.50,30.20 L192.00,30.20 L192.50,30.20 L193.00,30.20 L193.50,30.20 L194.00,30.20 L194.50,30.20 L195.00,30.20 L195.50,30.20 L196.00,30.20 L196.50,30.20 L197.00,30.20 L197.50,30.20 L198.00,30.20 L198.50,30.20 L199.00,30.20 L199.50,30.20 L200.00,30.20 L200.50,30.20 L201.00,30.20 L201.50,30.20 L202.00,30.20 L202.50,30.20 L203.00,30.20 L203.50,30.20 L204.00,30.20 L204.50,30.20 L205.00,30.20 L205.50,30.20 L206.00,30.20 L206.50,30.20 L207.00,30.20 L207.50,30.20 L208.00,30.20 L208.50,30.20 L209.00,30.20 L209.50,30.20 L210.00,30.20 L210.50,30.20 L211.00,30.20 L211.50,30.20 L212.00,30.20 L212.50,30.20 L213.00,30.20 L213.50,30.20 L214.00,30.20 L214.50,30.20 L215.00,30.20 L215.50,30.20 L216.00,30.20 L216.50,30.20 L217.00,30.20 L217.50,30.19 L218.00,30.19 L218.50,30.19 L219.00,30.19 L219.50,30.19 L220.00,30.19 L220.50,30.19 L221.00,30.19 L221.50,30.19 L222.00,30.19 L222.50,30.19 L223.00,30.19 L223.50,30.19 L224.00,30.19 L224.50,30.19 L225.00,30.19 L225.50,30.19 L226.00,30.19 L226.50,30.19 L227.00,30.19 L227.50,30.19 L228.00,30.19 L228.50,30.19 L229.00,30.19 L229.50,30.19 L230.00,30.19 L230.50,30.19 L231.00,30.19 L231.50,30.19 L232.00,30.19 L232.50,30.19 L233.00,30.19 L233.50,30.19 L234.00,30.18 L234.50,30.18 L235.00,30.18 L235.50,30.18 L236.00,30.18 L236.50,30.18 L237.00,30.18 L237.50,30.18 L238.00,30.18 L238.50,30.18 L239.00,30.18 L239.50,30.18 L240.00,30.18 L240.50,30.18 L241.00,30.18 L241.50,30.18 L242.00,30.18 L242.50,30.18 L243.00,30.18 L243.50,30.18 L244.00,30.18 L244.50,30.18 L245.00,30.18 L245.50,30.17 L246.00,30.17 L246.50,30.17 L247.00,30.17 L247.50,30.17 L248.00,30.17 L248.50,30.17 L249.00,30.17 L249.50,30.17 L250.00,30.17 L250.50,30.17 L251.00,30.17 L251.50,30.17 L252.00,30.17 L252.50,30.17 L253.00,30.17 L253.50,30.17 L254.00,30.17 L254.50,30.16 L255.00,30.16 L255.50,30.16 L256.00,30.16 L256.50,30.16 L257.00,30.16 L257.50,30.16 L258.00,30.16 L258.50,30.16 L259.00,30.16 L259.50,30.16 L260.00,30.16 L260.50,30.16 L261.00,30.16 L261.50,30.16 L262.00,30.16 L262.50,30.15 L263.00,30.15 L263.50,30.15 L264.00,30.15 L264.50,30.15 L265.00,30.15 L265.50,30.15 L266.00,30.15 L266.50,30.15 L267.00,30.15 L267.50,30.15 L268.00,30.15 L268.50,30.15 L269.00,30.15 L269.50,30.15 L270.00,30.14 L270.50,30.14 L271.00,30.14 L271.50,30.14 L272.00,30.14 L272.50,30.14 L273.00,30.14 L273.50,30.14 L274.00,30.14 L274.50,30.14 L275.00,30.14 L275.50,30.14 L276.00,30.14 L276.50,30.13 L277.00,30.13 L277.50,30.13 L278.00,30.13 L278.50,30.13 L279.00,30.13 L279.50,30.13 L280.00,30.13 L280.50,30.13 L281.00,30.13 L281.50,30.13 L282.00,30.13 L282.50,30.12 L283.00,30.12 L283.50,30.12 L284.00,30.12 L284.50,30.12 L285.00,30.12 L285.50,30.12 L286.00,30.12 L286.50,30.12 L287.00,30.12 L287.50,30.12 L288.00,30.12 L288.50,30.11 L289.00,30.11 L289.50,30.11 L290.00,30.11 L290.50,30.11 L291.00,30.11 L291.50,30.11 L292.00,30.11 L292.50,30.11 L293.00,30.11 L293.50,30.10 L294.00,30.10 L294.50,30.10 L295.00,30.10 L295.50,30.10 L296.00,30.10 L296.50,30.10 L297.00,30.10 L297.50,30.10 L298.00,30.09 L298.50,30.09 L299.00,30.09 L299.50,30.09 L300.00,30.09 L300.50,30.09 L301.00,30.08 L301.50,30.08 L302.00,30.08 L302.50,30.08 L303.00,30.07 L303.50,30.07 L304.00,30.07 L304.50,30.06 L305.00,30.06 L305.50,30.06 L306.00,30.05 L306.50,30.05 L307.00,30.05 L307.50,30.04 L308.00,30.04 L308.50,30.03 L309.00,30.03 L309.50,30.03 L310.00,30.02 L310.50,30.02 L311.00,30.01 L311.50,30.01 L312.00,30.00 L312.50,30.00 L313.00,29.99 L313.50,29.99 L314.00,29.98 L314.50,29.98 L315.00,29.97 L315.50,29.97 L316.00,29.96 L316.50,29.96 L317.00,29.95 L317.50,29.95 L318.00,29.94 L318.50,29.94 L319.00,29.93 L319.50,29.93 L320.00,29.92 L320.50,29.91 L321.00,29.91 L321.50,29.90 L322.00,29.90 L322.50,29.89 L323.00,29.89 L323.50,29.88 L324.00,29.87 L324.50,29.87 L325.00,29.86 L325.50,29.86 L326.00,29.85 L326.50,29.84 L327.00,29.84 L327.50,29.83 L328.00,29.82 L328.50,29.82 L329.00,29.81 L329.50,29.81 L330.00,29.80 L330.50,29.79 L331.00,29.79 L331.50,29.78 L332.00,29.77 L332.50,29.77 L333.00,29.76 L333.50,29.75 L334.00,29.75 L334.50,29.74 L335.00,29.73 L335.50,29.73 L336.00,29.72 L336.50,29.71 L337.00,29.70 L337.50,29.70 L338.00,29.69 L338.50,29.68 L339.00,29.67 L339.50,29.67 L340.00,29.66 L340.50,29.65 L341.00,29.64 L341.50,29.63 L342.00,29.63 L342.50,29.62 L343.00,29.61 L343.50,29.60 L344.00,29.59 L344.50,29.58 L345.00,29.57 L345.50,29.57 L346.00,29.56 L346.50,29.55 L347.00,29.54 L347.50,29.53 L348.00,29.52 L348.50,29.51 L349.00,29.50 L349.50,29.50 L350.00,29.49 L350.50,29.48 L351.00,29.47 L351.50,29.46 L352.00,29.45 L352.50,29.44 L353.00,29.43 L353.50,29.42 L354.00,29.41 L354.50,29.40 L355.00,29.39 L355.50,29.39 L356.00,29.38 L356.50,29.37 L357.00,29.36 L357.50,29.35 L358.00,29.34 L358.50,29.33 L359.00,29.32 L359.50,29.31 L360.00,29.30 L360.50,29.29 L361.00,29.28 L361.50,29.27 L362.00,29.26 L362.50,29.25 L363.00,29.24 L363.50,29.23 L364.00,29.22 L364.50,29.21 L365.00,29.20 L365.50,29.19 L366.00,29.18 L366.50,29.16 L367.00,29.15 L367.50,29.14 L368.00,29.13 L368.50,29.12 L369.00,29.10 L369.50,29.09 L370.00,29.08 L370.50,29.07 L371.00,29.05 L371.50,29.04 L372.00,29.03 L372.50,29.01 L373.00,29.00 L373.50,28.99 L374.00,28.97 L374.50,28.96 L375.00,28.95 L375.50,28.93 L376.00,28.92 L376.50,28.90 L377.00,28.89 L377.50,28.87 L378.00,28.86 L378.50,28.84 L379.00,28.83 L379.50,28.81 L380.00,28.80 L380.50,28.78 L381.00,28.77 L381.50,28.75 L382.00,28.73 L382.50,28.72 L383.00,28.70 L383.50,28.68 L384.00,28.67 L384.50,28.65 L385.00,28.63 L385.50,28.61 L386.00,28.59 L386.50,28.57 L387.00,28.55 L387.50,28.53 L388.00,28.50 L388.50,28.48 L389.00,28.46 L389.50,28.43 L390.00,28.41 L390.50,28.39 L391.00,28.36 L391.50,28.33 L392.00,28.31 L392.50,28.28 L393.00,28.25 L393.50,28.22 L394.00,28.19 L394.50,28.16 L395.00,28.13 L395.50,28.10 L396.00,28.07 L396.50,28.03 L397.00,28.00 L397.50,27.97 L398.00,27.93 L398.50,27.90 L399.00,27.86 L399.50,27.83 L400.00,27.79 L400.50,27.76 L401.00,27.72 L401.50,27.69 L402.00,27.65 L402.50,27.62 L403.00,27.58 L403.50,27.55 L404.00,27.51 L404.50,27.48 L405.00,27.44 L405.50,27.41 L406.00,27.37 L406.50,27.33 L407.00,27.30 L407.50,27.26 L408.00,27.23 L408.50,27.19 L409.00,27.15 L409.50,27.12 L410.00,27.08 L410.50,27.05 L411.00,27.01 L411.50,26.97 L412.00,26.94 L412.50,26.90 L413.00,26.86 L413.50,26.83 L414.00,26.79 L414.50,26.75 L415.00,26.72 L415.50,26.68 L416.00,26.64 L416.50,26.60 L417.00,26.57 L417.50,26.53 L418.00,26.49 L418.50,26.46 L419.00,26.42 L419.50,26.38 L420.00,26.35 L420.50,26.31 L421.00,26.27 L421.50,26.24 L422.00,26.20 L422.50,26.16 L423.00,26.13 L423.50,26.09 L424.00,26.06 L424.50,26.02 L425.00,25.99 L425.50,25.96 L426.00,25.92 L426.50,25.89 L427.00,25.85 L427.50,25.82 L428.00,25.79 L428.50,25.75 L429.00,25.72 L429.50,25.69 L430.00,25.65 L430.50,25.62 L431.00,25.58 L431.50,25.55 L432.00,25.51 L432.50,25.47 L433.00,25.44 L433.50,25.40 L434.00,25.36 L434.50,25.32 L435.00,25.28 L435.50,25.23 L436.00,25.19 L436.50,25.15 L437.00,25.10 L437.50,25.06 L438.00,25.01 L438.50,24.96 L439.00,24.91 L439.50,24.85 L440.00,24.80 L440.50,24.74 L441.00,24.69 L441.50,24.63 L442.00,24.57 L442.50,24.50 L443.00,24.44 L443.50,24.37 L444.00,24.31 L444.50,24.24 L445.00,24.17 L445.50,24.10 L446.00,24.03 L446.50,23.96 L447.00,23.88 L447.50,23.81 L448.00,23.74 L448.50,23.66 L449.00,23.59 L449.50,23.51 L450.00,23.43 L450.50,23.36 L451.00,23.28 L451.50,23.20 L452.00,23.13 L452.50,23.05 L453.00,22.97 L453.50,22.90 L454.00,22.82 L454.50,22.74 L455.00,22.67 L455.50,22.59 L456.00,22.52 L456.50,22.44 L457.00,22.37 L457.50,22.30 L458.00,22.22 L458.50,22.15 L459.00,22.08 L459.50,22.00 L460.00,21.93 L460.50,21.85 L461.00,21.78 L461.50,21.70 L462.00,21.63 L462.50,21.55 L463.00,21.48 L463.50,21.40 L464.00,21.33 L464.50,21.25 L465.00,21.18 L465.50,21.10 L466.00,21.02 L466.50,20.95 L467.00,20.87 L467.50,20.80 L468.00,20.72 L468.50,20.65 L469.00,20.58 L469.50,20.50 L470.00,20.43 L470.50,20.35 L471.00,20.28 L471.50,20.21 L472.00,20.13 L472.50,20.06 L473.00,19.99 L473.50,19.91 L474.00,19.84 L474.50,19.77 L475.00,19.71 L475.50,19.64 L476.00,19.58 L476.50,19.51 L477.00,19.45 L477.50,19.40 L478.00,19.34 L478.50,19.28 L479.00,19.23 L479.50,19.17 L480.00,19.12 L480.50,19.07 L481.00,19.02 L481.50,18.97 L482.00,18.93 L482.50,18.88 L483.00,18.83 L483.50,18.79 L484.00,18.74 L484.50,18.70 L485.00,18.66 L485.50,18.61 L486.00,18.57 L486.50,18.53 L487.00,18.49 L487.50,18.44 L488.00,18.40 L488.50,18.36 L489.00,18.32 L489.50,18.28 L490.00,18.23 L490.50,18.19 L491.00,18.15 L491.50,18.11 L492.00,18.07 L492.50,18.04 L493.00,18.01 L493.50,17.98 L494.00,17.95 L494.50,17.92 L495.00,17.90 L495.50,17.88 L496.00,17.86 L496.50,17.84 L497.00,17.83 L497.50,17.82 L498.00,17.81 L498.50,17.80 L499.00,17.80 L499.50,17.80 L500.00,17.81 L500.50,17.82 L501.00,17.84 L501.50,17.86 L502.00,17.89 L502.50,17.92 L503.00,17.96 L503.50,17.99 L504.00,18.03 L504.50,18.07 L505.00,18.12 L505.50,18.16 L506.00,18.21 L506.50,18.25 L507.00,18.30 L507.50,18.35 L508.00,18.39 L508.50,18.43 L509.00,18.48 L509.50,18.53 L510.00,18.58 L510.50,18.64 L511.00,18.71 L511.50,18.79 L512.00,18.87 L512.50,18.97 L513.00,19.09 L513.50,19.21 L514.00,19.36 L514.50,19.51 L515.00,19.66 L515.50,19.81 L516.00,19.97 L516.50,20.12 L517.00,20.28 L517.50,20.44 L518.00,20.60 L518.50,20.76 L519.00,20.92 L519.50,21.09 L520.00,21.25 L520.50,21.41 L521.00,21.57 L521.50,21.74 L522.00,21.90 L522.50,22.06 L523.00,22.22 L523.50,22.39 L524.00,22.55 L524.50,22.71 L525.00,22.86 L525.50,23.02 L526.00,23.18 L526.50,23.33 L527.00,23.48 L527.50,23.64 L528.00,23.79 L528.50,23.94 L529.00,24.10 L529.50,24.25 L530.00,24.40 L530.50,24.56 L531.00,24.71 L531.50,24.86 L532.00,25.01 L532.50,25.17 L533.00,25.32 L533.50,25.47 L534.00,25.62 L534.50,25.77 L535.00,25.92 L535.50,26.08 L536.00,26.23 L536.50,26.38 L537.00,26.53 L537.50,26.68 L538.00,26.83 L538.50,26.98 L539.00,27.13 L539.50,27.28 L540.00,27.42 L540.50,27.57 L541.00,27.71 L541.50,27.85 L542.00,27.98 L542.50,28.12 L543.00,28.25 L543.50,28.38 L544.00,28.51 L544.50,28.64 L545.00,28.77 L545.50,28.89 L546.00,29.02 L546.50,29.14 L547.00,29.26 L547.50,29.38 L548.00,29.50 L548.50,29.61 L549.00,29.73 L549.50,29.85 L550.00,29.96 L550.50,30.07 L551.00,30.19 L551.50,30.30 L552.00,30.41 L552.50,30.51 L553.00,30.60 L553.50,30.68 L554.00,30.75 L554.50,30.81 L555.00,30.87 L555.50,30.93 L556.00,30.97 L556.50,31.01 L557.00,31.05 L557.50,31.08 L558.00,31.11 L558.50,31.14 L559.00,31.16 L559.50,31.18 L560.00,31.20 L560.50,31.21 L561.00,31.22 L561.50,31.22 L562.00,31.21 L562.50,31.20 L563.00,31.18 L563.50,31.15 L564.00,31.11 L564.50,31.07 L565.00,31.02 L565.50,30.97 L566.00,30.91 L566.50,30.84 L567.00,30.77 L567.50,30.69 L568.00,30.60 L568.50,30.51 L569.00,30.41 L569.50,30.31 L570.00,30.20 L570.50,30.08 L571.00,29.96 L571.50,29.82 L572.00,29.68 L572.50,29.52 L573.00,29.36 L573.50,29.19 L574.00,29.00 L574.50,28.80 L575.00,28.60 L575.50,28.38 L576.00,28.15 L576.50,27.91 L577.00,27.66 L577.50,27.40 L578.00,27.13 L578.50,26.84 L579.00,26.54 L579.50,26.23 L580.00,25.90 L580.50,25.56 L581.00,25.22 L581.50,24.86 L582.00,24.50 L582.50,24.14 L583.00,23.78 L583.50,23.42 L584.00,23.06 L584.50,22.71 L585.00,22.36 L585.50,22.02 L586.00,21.70 L586.50,21.38 L587.00,21.08 L587.50,20.79 L588.00,20.51 L588.50,20.23 L589.00,19.97 L589.50,19.71 L590.00,19.46 L590.50,19.21 L591.00,18.97 L591.50,18.73 L592.00,18.50 L592.50,18.28 L593.00,18.08 L593.50,17.90 L594.00,17.73 L594.50,17.59 L595.00,17.46 L595.50,17.35 L596.00,17.26 L596.50,17.19 L597.00,17.14 L597.50,17.11 L598.00,17.10 L598.50,17.11 L599.00,17.17 L599.50,17.25 L600.00,17.37 L600.50,17.52 L601.00,17.70 L601.50,17.92 L602.00,18.18 L602.50,18.47 L603.00,18.80 L603.50,19.16 L604.00,19.54 L604.50,19.94 L605.00,20.34 L605.50,20.74 L606.00,21.13 L606.50,21.51 L607.00,21.87 L607.50,22.22 L608.00,22.57 L608.50,22.92 L609.00,23.26 L609.50,23.60 L610.00,23.94 L610.50,24.28 L611.00,24.62 L611.50,24.95 L612.00,25.28 L612.50,25.61 L613.00,25.94 L613.50,26.27 L614.00,26.59 L614.50,26.91 L615.00,27.23 L615.50,27.55 L616.00,27.87 L616.50,28.19 L617.00,28.50 L617.50,28.81 L618.00,29.10 L618.50,29.38 L619.00,29.65 L619.50,29.90 L620.00,30.13 L620.50,30.35 L621.00,30.56 L621.50,30.75 L622.00,30.92 L622.50,31.07 L623.00,31.21 L623.50,31.33 L624.00,31.43 L624.50,31.51 L625.00,31.57 L625.50,31.61 L626.00,31.62 L626.50,31.59 L627.00,31.54 L627.50,31.45 L628.00,31.33 L628.50,31.19 L629.00,31.03 L629.50,30.84 L630.00,30.62 L630.50,30.39 L631.00,30.14 L631.50,29.88 L632.00,29.60 L632.50,29.31 L633.00,29.00 L633.50,28.69 L634.00,28.37 L634.50,28.03 L635.00,27.66 L635.50,27.28 L636.00,26.88 L636.50,26.47 L637.00,26.04 L637.50,25.61 L638.00,25.18 L638.50,24.75 L639.00,24.31 L639.50,23.89 L640.00,23.47 L640.50,23.06 L641.00,22.67 L641.50,22.29 L642.00,21.94 L642.50,21.59 L643.00,21.24 L643.50,20.87 L644.00,20.51 L644.50,20.16 L645.00,19.84 L645.50,19.55 L646.00,19.30 L646.50,19.11 L647.00,18.99 L647.50,18.94 L648.00,18.98 L648.50,19.11 L649.00,19.36 L649.50,19.64 L650.00,19.94 L650.50,20.25 L651.00,20.56 L651.50,20.88 L652.00,21.20 L652.50,21.52 L653.00,21.85 L653.50,22.18 L654.00,22.50 L654.50,22.82 L655.00,23.13 L655.50,23.44 L656.00,23.74 L656.50,24.04 L657.00,24.34 L657.50,24.64 L658.00,24.94 L658.50,25.24 L659.00,25.54 L659.50,25.84 L660.00,26.14 L660.50,26.44 L661.00,26.74 L661.50,27.03 L662.00,27.33 L662.50,27.62 L663.00,27.92 L663.50,28.21 L664.00,28.50 L664.50,28.78 L665.00,29.05 L665.50,29.29 L666.00,29.51 L666.50,29.70 L667.00,29.87 L667.50,30.01 L668.00,30.11 L668.50,30.19 L669.00,30.23 L669.50,30.23 L670.00,30.19 L670.50,30.11 L671.00,30.00 L671.50,29.86 L672.00,29.69 L672.50,29.49 L673.00,29.28 L673.50,29.04 L674.00,28.79 L674.50,28.52 L675.00,28.25 L675.50,27.97 L676.00,27.68 L676.50,27.40 L677.00,27.12 L677.50,26.84 L678.00,26.52 L678.50,26.14 L679.00,25.71 L679.50,25.24 L680.00,24.75 L680.50,24.26 L681.00,23.76 L681.50,23.28 L682.00,22.84 L682.50,22.43 L683.00,22.08 L683.50,21.80 L684.00,21.60 L684.50,21.50 L685.00,21.50 L685.50,21.59 L686.00,21.72 L686.50,21.90 L687.00,22.12 L687.50,22.37 L688.00,22.64 L688.50,22.93 L689.00,23.23 L689.50,23.54 L690.00,23.85 L690.50,24.15 L691.00,24.45 L691.50,24.72 L692.00,24.98 L692.50,25.20 L693.00,25.41 L693.50,25.64 L694.00,25.88 L694.50,26.12 L695.00,26.35 L695.50,26.59 L696.00,26.81 L696.50,27.02 L697.00,27.21 L697.50,27.37 L698.00,27.51 L698.50,27.62 L699.00,27.68 L699.50,27.71 L700.00,27.69 L700.50,27.63 L701.00,27.53 L701.50,27.41 L702.00,27.26 L702.50,27.09 L703.00,26.92 L703.50,26.73 L704.00,26.55 L704.50,26.37 L705.00,26.20 L705.50,26.02 L706.00,25.80 L706.50,25.56 L707.00,25.30 L707.50,25.04 L708.00,24.78 L708.50,24.54 L709.00,24.32 L709.50,24.13 L710.00,24.00 L710.50,23.92 L711.00,23.90 L711.50,23.94 L712.00,24.00 L712.50,24.09 L713.00,24.20 L713.50,24.32 L714.00,24.46 L714.50,24.61 L715.00,24.76 L715.50,24.92 L716.00,25.07 L716.50,25.22 L717.00,25.36 L717.50,25.49 L718.00,25.60 L718.50,25.71 L719.00,25.83 L719.50,25.95 L720.00,26.08 L720.50,26.21 L721.00,26.33 L721.50,26.44 L722.00,26.54 L722.50,26.62 L723.00,26.67 L723.50,26.70 L724.00,26.70 L724.50,26.67 L725.00,26.63 L725.50,26.57 L726.00,26.51 L726.50,26.43 L727.00,26.35 L727.50,26.26 L728.00,26.16 L728.50,26.07 L729.00,25.98 L729.50,25.89 L730.00,25.80 L730.50,25.71 L731.00,25.62 L731.50,25.53 L732.00,25.43 L732.50,25.33 L733.00,25.24 L733.50,25.14 L734.00,25.05 L734.50,24.97 L735.00,24.90 L735.50,24.85 L736.00,24.84 L736.50,24.86 L737.00,24.91 L737.50,24.98 L738.00,25.08 L738.50,25.19 L739.00,25.31 L739.50,25.44 L740.00,25.58 L740.50,25.71 L741.00,25.84 L741.50,25.96 L742.00,26.07 L742.50,26.16 L743.00,26.24 L743.50,26.28 L744.00,26.30 L744.50,26.29 L745.00,26.28 L745.50,26.26 L746.00,26.24 L746.50,26.21 L747.00,26.18 L747.50,26.15 L748.00,26.12 L748.50,26.09 L749.00,26.06 L749.50,26.03 L750.00,25.99 L750.50,25.96 L751.00,25.93 L751.50,25.91 L752.00,25.88 L752.50,25.86 L753.00,25.84 L753.50,25.82 L754.00,25.81 L754.50,25.80 L755.00,25.80 L755.50,25.80 L756.00,25.80 L756.50,25.80 L757.00,25.80 L757.50,25.80 L758.00,25.80 L758.50,25.80 L759.00,25.80 L759.50,25.80 L760.00,25.80 L760.50,25.80 L761.00,25.80 L761.50,25.80 L762.00,25.80 L762.50,25.80 L763.00,25.80 L763.50,25.80 L764.00,25.80 L764.50,25.80 L765.00,25.80 L765.50,25.80 L766.00,25.80 L766.50,25.80 L767.00,25.80 L767.50,25.80 L768.00,25.80 L768.50,25.80 L769.00,25.80 L769.50,25.80 L770.00,25.80 L770.50,25.80 L771.00,25.80 L771.50,25.80 L772.00,25.80 L772.50,25.80 L773.00,25.80 L773.50,25.80 L774.00,25.80 L774.50,25.80 L775.00,25.80 L775.50,25.80 L776.00,25.80 L776.50,25.80 L777.00,25.80 L777.50,25.80 L778.00,25.80 L778.50,25.80 L779.00,25.80 L779.50,25.80 L780.00,25.80 L780.50,25.80 L781.00,25.80 L781.50,25.80 L782.00,25.80 L782.50,25.80 L783.00,25.80 L783.50,25.80 L784.00,25.80 L784.50,25.80 L785.00,25.80 L785.50,25.80 L786.00,25.80 L786.50,25.80 L787.00,25.80 L787.50,25.80 L788.00,25.80 L788.50,25.80 L789.00,25.80 L789.50,25.80 L790.00,25.80 L790.50,25.80 L791.00,25.80 L791.50,25.80 L792.00,25.80 L792.50,25.80 L793.00,25.80 L793.50,25.80 L794.00,25.80 L794.50,25.80 L795.00,25.80 L795.50,25.80 L796.00,25.80 L796.50,25.80 L797.00,25.80 L797.50,25.80 L798.00,25.80 L798.50,25.80 L799.00,25.80 L799.50,25.80 L800.00,25.80 L800.50,25.80 L801.00,25.81 L801.50,25.83 L802.00,25.84 L802.50,25.87 L803.00,25.90 L803.50,25.93 L804.00,25.96 L804.50,26.00 L805.00,26.04 L805.50,26.08 L806.00,26.12 L806.50,26.17 L807.00,26.21 L807.50,26.26 L808.00,26.30 L808.50,26.35 L809.00,26.39 L809.50,26.44 L810.00,26.48 L810.50,26.52 L811.00,26.55 L811.50,26.59 L812.00,26.62 L812.50,26.64 L813.00,26.66 L813.50,26.68 L814.00,26.69 L814.50,26.70 L815.00,26.70 L815.50,26.70 L816.00,26.69 L816.50,26.67 L817.00,26.65 L817.50,26.63 L818.00,26.61 L818.50,26.58 L819.00,26.55 L819.50,26.52 L820.00,26.48 L820.50,26.45 L821.00,26.41 L821.50,26.37 L822.00,26.33 L822.50,26.29 L823.00,26.24 L823.50,26.20 L824.00,26.16 L824.50,26.12 L825.00,26.08 L825.50,26.04 L826.00,26.01 L826.50,25.97 L827.00,25.94 L827.50,25.91 L828.00,25.88 L828.50,25.85 L829.00,25.83 L829.50,25.81 L830.00,25.80 L830.50,25.79 L831.00,25.78 L831.50,25.76 L832.00,25.75 L832.50,25.74 L833.00,25.73 L833.50,25.72 L834.00,25.71 L834.50,25.70 L835.00,25.69 L835.50,25.68 L836.00,25.67 L836.50,25.66 L837.00,25.65 L837.50,25.64 L838.00,25.63 L838.50,25.62 L839.00,25.62 L839.50,25.61 L840.00,25.60 L840.50,25.59 L841.00,25.59 L841.50,25.58 L842.00,25.58 L842.50,25.57 L843.00,25.57 L843.50,25.56 L844.00,25.56 L844.50,25.56 L845.00,25.56 L845.50,25.55 L846.00,25.55 L846.50,25.55 L847.00,25.55 L847.50,25.55 L848.00,25.56 L848.50,25.56 L849.00,25.56 L849.50,25.56 L850.00,25.57 L850.50,25.57 L851.00,25.58 L851.50,25.58 L852.00,25.59 L852.50,25.60" stroke="#E19C24" stroke-width="2.15"/>
<path d="M81.00,135.10 L81.50,135.10 L82.00,135.10 L82.50,135.10 L83.00,135.10 L83.50,135.10 L84.00,135.10 L84.50,135.10 L85.00,135.10 L85.50,135.10 L86.00,135.10 L86.50,135.11 L87.00,135.11 L87.50,135.11 L88.00,135.11 L88.50,135.11 L89.00,135.11 L89.50,135.11 L90.00,135.11 L90.50,135.11 L91.00,135.11 L91.50,135.11 L92.00,135.11 L92.50,135.11 L93.00,135.11 L93.50,135.11 L94.00,135.11 L94.50,135.11 L95.00,135.11 L95.50,135.11 L96.00,135.11 L96.50,135.11 L97.00,135.11 L97.50,135.11 L98.00,135.11 L98.50,135.11 L99.00,135.11 L99.50,135.11 L100.00,135.11 L100.50,135.11 L101.00,135.11 L101.50,135.11 L102.00,135.11 L102.50,135.11 L103.00,135.10 L103.50,135.10 L104.00,135.10 L104.50,135.10 L105.00,135.10 L105.50,135.10 L106.00,135.10 L106.50,135.10 L107.00,135.10 L107.50,135.10 L108.00,135.10 L108.50,135.10 L109.00,135.10 L109.50,135.10 L110.00,135.10 L110.50,135.10 L111.00,135.10 L111.50,135.10 L112.00,135.10 L112.50,135.10 L113.00,135.10 L113.50,135.09 L114.00,135.09 L114.50,135.09 L115.00,135.09 L115.50,135.09 L116.00,135.09 L116.50,135.09 L117.00,135.09 L117.50,135.09 L118.00,135.09 L118.50,135.09 L119.00,135.09 L119.50,135.09 L120.00,135.08 L120.50,135.08 L121.00,135.08 L121.50,135.08 L122.00,135.08 L122.50,135.08 L123.00,135.08 L123.50,135.08 L124.00,135.08 L124.50,135.08 L125.00,135.08 L125.50,135.08 L126.00,135.07 L126.50,135.07 L127.00,135.07 L127.50,135.07 L128.00,135.07 L128.50,135.07 L129.00,135.07 L129.50,135.07 L130.00,135.07 L130.50,135.07 L131.00,135.06 L131.50,135.06 L132.00,135.06 L132.50,135.06 L133.00,135.06 L133.50,135.06 L134.00,135.06 L134.50,135.06 L135.00,135.06 L135.50,135.06 L136.00,135.05 L136.50,135.05 L137.00,135.05 L137.50,135.05 L138.00,135.05 L138.50,135.05 L139.00,135.05 L139.50,135.05 L140.00,135.05 L140.50,135.04 L141.00,135.04 L141.50,135.04 L142.00,135.04 L142.50,135.04 L143.00,135.04 L143.50,135.04 L144.00,135.04 L144.50,135.04 L145.00,135.03 L145.50,135.03 L146.00,135.03 L146.50,135.03 L147.00,135.03 L147.50,135.03 L148.00,135.03 L148.50,135.03 L149.00,135.02 L149.50,135.02 L150.00,135.02 L150.50,135.02 L151.00,135.02 L151.50,135.02 L152.00,135.02 L152.50,135.02 L153.00,135.02 L153.50,135.01 L154.00,135.01 L154.50,135.01 L155.00,135.01 L155.50,135.01 L156.00,135.01 L156.50,135.01 L157.00,135.01 L157.50,135.01 L158.00,135.00 L158.50,135.00 L159.00,135.00 L159.50,135.00 L160.00,135.00 L160.50,135.00 L161.00,135.00 L161.50,135.00 L162.00,135.00 L162.50,134.99 L163.00,134.99 L163.50,134.99 L164.00,134.99 L164.50,134.99 L165.00,134.99 L165.50,134.99 L166.00,134.99 L166.50,134.98 L167.00,134.98 L167.50,134.98 L168.00,134.98 L168.50,134.98 L169.00,134.98 L169.50,134.97 L170.00,134.97 L170.50,134.97 L171.00,134.97 L171.50,134.97 L172.00,134.97 L172.50,134.96 L173.00,134.96 L173.50,134.96 L174.00,134.96 L174.50,134.96 L175.00,134.95 L175.50,134.95 L176.00,134.95 L176.50,134.95 L177.00,134.94 L177.50,134.94 L178.00,134.94 L178.50,134.94 L179.00,134.93 L179.50,134.93 L180.00,134.93 L180.50,134.93 L181.00,134.92 L181.50,134.92 L182.00,134.92 L182.50,134.91 L183.00,134.91 L183.50,134.91 L184.00,134.90 L184.50,134.90 L185.00,134.90 L185.50,134.89 L186.00,134.89 L186.50,134.89 L187.00,134.88 L187.50,134.88 L188.00,134.87 L188.50,134.87 L189.00,134.87 L189.50,134.86 L190.00,134.86 L190.50,134.85 L191.00,134.85 L191.50,134.84 L192.00,134.84 L192.50,134.83 L193.00,134.83 L193.50,134.82 L194.00,134.82 L194.50,134.81 L195.00,134.81 L195.50,134.80 L196.00,134.80 L196.50,134.79 L197.00,134.79 L197.50,134.78 L198.00,134.77 L198.50,134.77 L199.00,134.76 L199.50,134.76 L200.00,134.75 L200.50,134.74 L201.00,134.74 L201.50,134.73 L202.00,134.72 L202.50,134.71 L203.00,134.71 L203.50,134.70 L204.00,134.69 L204.50,134.68 L205.00,134.67 L205.50,134.66 L206.00,134.65 L206.50,134.65 L207.00,134.64 L207.50,134.63 L208.00,134.62 L208.50,134.60 L209.00,134.59 L209.50,134.58 L210.00,134.57 L210.50,134.56 L211.00,134.55 L211.50,134.54 L212.00,134.53 L212.50,134.52 L213.00,134.50 L213.50,134.49 L214.00,134.48 L214.50,134.47 L215.00,134.45 L215.50,134.44 L216.00,134.43 L216.50,134.41 L217.00,134.40 L217.50,134.39 L218.00,134.37 L218.50,134.36 L219.00,134.34 L219.50,134.33 L220.00,134.32 L220.50,134.30 L221.00,134.29 L221.50,134.27 L222.00,134.26 L222.50,134.24 L223.00,134.23 L223.50,134.21 L224.00,134.20 L224.50,134.18 L225.00,134.17 L225.50,134.15 L226.00,134.14 L226.50,134.12 L227.00,134.10 L227.50,134.09 L228.00,134.07 L228.50,134.06 L229.00,134.04 L229.50,134.02 L230.00,134.01 L230.50,133.99 L231.00,133.97 L231.50,133.96 L232.00,133.94 L232.50,133.92 L233.00,133.91 L233.50,133.89 L234.00,133.87 L234.50,133.86 L235.00,133.84 L235.50,133.82 L236.00,133.81 L236.50,133.79 L237.00,133.77 L237.50,133.75 L238.00,133.74 L238.50,133.72 L239.00,133.70 L239.50,133.69 L240.00,133.67 L240.50,133.65 L241.00,133.63 L241.50,133.62 L242.00,133.60 L242.50,133.58 L243.00,133.57 L243.50,133.55 L244.00,133.53 L244.50,133.51 L245.00,133.50 L245.50,133.48 L246.00,133.46 L246.50,133.44 L247.00,133.43 L247.50,133.41 L248.00,133.39 L248.50,133.37 L249.00,133.36 L249.50,133.34 L250.00,133.32 L250.50,133.30 L251.00,133.28 L251.50,133.27 L252.00,133.25 L252.50,133.23 L253.00,133.21 L253.50,133.19 L254.00,133.18 L254.50,133.16 L255.00,133.14 L255.50,133.12 L256.00,133.10 L256.50,133.08 L257.00,133.07 L257.50,133.05 L258.00,133.03 L258.50,133.01 L259.00,132.99 L259.50,132.97 L260.00,132.95 L260.50,132.94 L261.00,132.92 L261.50,132.90 L262.00,132.88 L262.50,132.86 L263.00,132.84 L263.50,132.82 L264.00,132.80 L264.50,132.78 L265.00,132.76 L265.50,132.74 L266.00,132.73 L266.50,132.71 L267.00,132.69 L267.50,132.67 L268.00,132.65 L268.50,132.63 L269.00,132.61 L269.50,132.59 L270.00,132.57 L270.50,132.55 L271.00,132.53 L271.50,132.51 L272.00,132.49 L272.50,132.47 L273.00,132.45 L273.50,132.43 L274.00,132.41 L274.50,132.39 L275.00,132.37 L275.50,132.35 L276.00,132.33 L276.50,132.31 L277.00,132.29 L277.50,132.27 L278.00,132.25 L278.50,132.23 L279.00,132.21 L279.50,132.18 L280.00,132.16 L280.50,132.14 L281.00,132.12 L281.50,132.10 L282.00,132.08 L282.50,132.06 L283.00,132.04 L283.50,132.02 L284.00,132.00 L284.50,131.97 L285.00,131.95 L285.50,131.93 L286.00,131.91 L286.50,131.89 L287.00,131.86 L287.50,131.84 L288.00,131.82 L288.50,131.80 L289.00,131.77 L289.50,131.75 L290.00,131.73 L290.50,131.70 L291.00,131.68 L291.50,131.66 L292.00,131.63 L292.50,131.61 L293.00,131.58 L293.50,131.56 L294.00,131.53 L294.50,131.51 L295.00,131.48 L295.50,131.46 L296.00,131.43 L296.50,131.41 L297.00,131.38 L297.50,131.35 L298.00,131.33 L298.50,131.30 L299.00,131.27 L299.50,131.25 L300.00,131.22 L300.50,131.19 L301.00,131.17 L301.50,131.14 L302.00,131.11 L302.50,131.08 L303.00,131.06 L303.50,131.03 L304.00,131.00 L304.50,130.97 L305.00,130.94 L305.50,130.92 L306.00,130.89 L306.50,130.86 L307.00,130.83 L307.50,130.80 L308.00,130.77 L308.50,130.74 L309.00,130.70 L309.50,130.67 L310.00,130.64 L310.50,130.61 L311.00,130.58 L311.50,130.54 L312.00,130.51 L312.50,130.48 L313.00,130.44 L313.50,130.41 L314.00,130.37 L314.50,130.34 L315.00,130.30 L315.50,130.27 L316.00,130.23 L316.50,130.20 L317.00,130.16 L317.50,130.13 L318.00,130.09 L318.50,130.05 L319.00,130.02 L319.50,129.98 L320.00,129.94 L320.50,129.91 L321.00,129.87 L321.50,129.83 L322.00,129.80 L322.50,129.76 L323.00,129.72 L323.50,129.68 L324.00,129.64 L324.50,129.61 L325.00,129.57 L325.50,129.53 L326.00,129.49 L326.50,129.45 L327.00,129.42 L327.50,129.38 L328.00,129.34 L328.50,129.30 L329.00,129.26 L329.50,129.21 L330.00,129.17 L330.50,129.13 L331.00,129.09 L331.50,129.05 L332.00,129.00 L332.50,128.96 L333.00,128.92 L333.50,128.87 L334.00,128.83 L334.50,128.79 L335.00,128.74 L335.50,128.70 L336.00,128.65 L336.50,128.60 L337.00,128.56 L337.50,128.51 L338.00,128.46 L338.50,128.42 L339.00,128.37 L339.50,128.32 L340.00,128.27 L340.50,128.23 L341.00,128.18 L341.50,128.13 L342.00,128.08 L342.50,128.03 L343.00,127.98 L343.50,127.93 L344.00,127.88 L344.50,127.83 L345.00,127.78 L345.50,127.73 L346.00,127.68 L346.50,127.63 L347.00,127.58 L347.50,127.53 L348.00,127.48 L348.50,127.42 L349.00,127.37 L349.50,127.31 L350.00,127.26 L350.50,127.20 L351.00,127.14 L351.50,127.09 L352.00,127.03 L352.50,126.97 L353.00,126.91 L353.50,126.85 L354.00,126.79 L354.50,126.72 L355.00,126.66 L355.50,126.60 L356.00,126.53 L356.50,126.47 L357.00,126.40 L357.50,126.34 L358.00,126.27 L358.50,126.20 L359.00,126.13 L359.50,126.06 L360.00,125.99 L360.50,125.92 L361.00,125.85 L361.50,125.78 L362.00,125.71 L362.50,125.63 L363.00,125.56 L363.50,125.48 L364.00,125.41 L364.50,125.33 L365.00,125.26 L365.50,125.18 L366.00,125.10 L366.50,125.02 L367.00,124.94 L367.50,124.86 L368.00,124.78 L368.50,124.69 L369.00,124.61 L369.50,124.52 L370.00,124.43 L370.50,124.34 L371.00,124.25 L371.50,124.16 L372.00,124.07 L372.50,123.98 L373.00,123.88 L373.50,123.79 L374.00,123.69 L374.50,123.60 L375.00,123.50 L375.50,123.40 L376.00,123.30 L376.50,123.21 L377.00,123.11 L377.50,123.01 L378.00,122.91 L378.50,122.80 L379.00,122.70 L379.50,122.60 L380.00,122.50 L380.50,122.40 L381.00,122.29 L381.50,122.19 L382.00,122.08 L382.50,121.97 L383.00,121.87 L383.50,121.76 L384.00,121.64 L384.50,121.53 L385.00,121.42 L385.50,121.30 L386.00,121.19 L386.50,121.07 L387.00,120.95 L387.50,120.84 L388.00,120.72 L388.50,120.59 L389.00,120.47 L389.50,120.35 L390.00,120.23 L390.50,120.10 L391.00,119.97 L391.50,119.84 L392.00,119.71 L392.50,119.57 L393.00,119.44 L393.50,119.30 L394.00,119.15 L394.50,119.01 L395.00,118.86 L395.50,118.71 L396.00,118.56 L396.50,118.40 L397.00,118.25 L397.50,118.09 L398.00,117.93 L398.50,117.77 L399.00,117.60 L399.50,117.44 L400.00,117.27 L400.50,117.10 L401.00,116.93 L401.50,116.76 L402.00,116.58 L402.50,116.41 L403.00,116.22 L403.50,116.04 L404.00,115.86 L404.50,115.67 L405.00,115.48 L405.50,115.28 L406.00,115.09 L406.50,114.89 L407.00,114.69 L407.50,114.49 L408.00,114.28 L408.50,114.08 L409.00,113.87 L409.50,113.66 L410.00,113.45 L410.50,113.23 L411.00,113.02 L411.50,112.80 L412.00,112.58 L412.50,112.36 L413.00,112.13 L413.50,111.91 L414.00,111.68 L414.50,111.45 L415.00,111.21 L415.50,110.97 L416.00,110.73 L416.50,110.49 L417.00,110.24 L417.50,109.99 L418.00,109.74 L418.50,109.49 L419.00,109.23 L419.50,108.97 L420.00,108.71 L420.50,108.45 L421.00,108.18 L421.50,107.91 L422.00,107.64 L422.50,107.36 L423.00,107.08 L423.50,106.80 L424.00,106.51 L424.50,106.22 L425.00,105.93 L425.50,105.63 L426.00,105.33 L426.50,105.03 L427.00,104.73 L427.50,104.42 L428.00,104.11 L428.50,103.80 L429.00,103.49 L429.50,103.17 L430.00,102.86 L430.50,102.54 L431.00,102.21 L431.50,101.89 L432.00,101.57 L432.50,101.24 L433.00,100.91 L433.50,100.58 L434.00,100.25 L434.50,99.91 L435.00,99.57 L435.50,99.23 L436.00,98.89 L436.50,98.54 L437.00,98.19 L437.50,97.84 L438.00,97.48 L438.50,97.12 L439.00,96.76 L439.50,96.39 L440.00,96.02 L440.50,95.64 L441.00,95.27 L441.50,94.88 L442.00,94.49 L442.50,94.10 L443.00,93.70 L443.50,93.30 L444.00,92.90 L444.50,92.49 L445.00,92.08 L445.50,91.66 L446.00,91.24 L446.50,90.82 L447.00,90.40 L447.50,89.97 L448.00,89.54 L448.50,89.11 L449.00,88.67 L449.50,88.24 L450.00,87.80 L450.50,87.35 L451.00,86.91 L451.50,86.46 L452.00,86.01 L452.50,85.56 L453.00,85.11 L453.50,84.66 L454.00,84.20 L454.50,83.75 L455.00,83.29 L455.50,82.83 L456.00,82.37 L456.50,81.91 L457.00,81.45 L457.50,80.99 L458.00,80.52 L458.50,80.05 L459.00,79.58 L459.50,79.11 L460.00,78.63 L460.50,78.15 L461.00,77.67 L461.50,77.18 L462.00,76.69 L462.50,76.20 L463.00,75.70 L463.50,75.20 L464.00,74.69 L464.50,74.19 L465.00,73.68 L465.50,73.17 L466.00,72.65 L466.50,72.13 L467.00,71.62 L467.50,71.10 L468.00,70.57 L468.50,70.05 L469.00,69.52 L469.50,69.00 L470.00,68.47 L470.50,67.94 L471.00,67.41 L471.50,66.88 L472.00,66.35 L472.50,65.81 L473.00,65.28 L473.50,64.74 L474.00,64.19 L474.50,63.63 L475.00,63.08 L475.50,62.52 L476.00,61.97 L476.50,61.41 L477.00,60.86 L477.50,60.32 L478.00,59.79 L478.50,59.27 L479.00,58.75 L479.50,58.25 L480.00,57.76 L480.50,57.28 L481.00,56.80 L481.50,56.34 L482.00,55.88 L482.50,55.42 L483.00,54.97 L483.50,54.53 L484.00,54.09 L484.50,53.65 L485.00,53.23 L485.50,52.83 L486.00,52.44 L486.50,52.06 L487.00,51.69 L487.50,51.33 L488.00,50.98 L488.50,50.64 L489.00,50.30 L489.50,49.99 L490.00,49.69 L490.50,49.41 L491.00,49.15 L491.50,48.90 L492.00,48.66 L492.50,48.42 L493.00,48.20 L493.50,47.99 L494.00,47.79 L494.50,47.62 L495.00,47.46 L495.50,47.33 L496.00,47.22 L496.50,47.13 L497.00,47.06 L497.50,47.02 L498.00,47.00 L498.50,47.01 L499.00,47.05 L499.50,47.12 L500.00,47.23 L500.50,47.36 L501.00,47.52 L501.50,47.70 L502.00,47.91 L502.50,48.14 L503.00,48.40 L503.50,48.67 L504.00,48.96 L504.50,49.27 L505.00,49.60 L505.50,49.96 L506.00,50.34 L506.50,50.75 L507.00,51.18 L507.50,51.62 L508.00,52.08 L508.50,52.54 L509.00,53.02 L509.50,53.51 L510.00,54.00 L510.50,54.50 L511.00,55.00 L511.50,55.51 L512.00,56.04 L512.50,56.59 L513.00,57.16 L513.50,57.75 L514.00,58.37 L514.50,59.03 L515.00,59.71 L515.50,60.44 L516.00,61.20 L516.50,62.00 L517.00,62.82 L517.50,63.68 L518.00,64.56 L518.50,65.46 L519.00,66.39 L519.50,67.34 L520.00,68.31 L520.50,69.29 L521.00,70.28 L521.50,71.29 L522.00,72.31 L522.50,73.33 L523.00,74.35 L523.50,75.37 L524.00,76.40 L524.50,77.43 L525.00,78.46 L525.50,79.49 L526.00,80.52 L526.50,81.56 L527.00,82.60 L527.50,83.64 L528.00,84.69 L528.50,85.74 L529.00,86.79 L529.50,87.84 L530.00,88.90 L530.50,89.96 L531.00,91.02 L531.50,92.09 L532.00,93.16 L532.50,94.23 L533.00,95.31 L533.50,96.40 L534.00,97.50 L534.50,98.60 L535.00,99.71 L535.50,100.82 L536.00,101.93 L536.50,103.05 L537.00,104.18 L537.50,105.30 L538.00,106.43 L538.50,107.55 L539.00,108.68 L539.50,109.81 L540.00,110.93 L540.50,112.05 L541.00,113.17 L541.50,114.29 L542.00,115.40 L542.50,116.51 L543.00,117.61 L543.50,118.71 L544.00,119.80 L544.50,120.87 L545.00,121.92 L545.50,122.95 L546.00,123.96 L546.50,124.94 L547.00,125.91 L547.50,126.85 L548.00,127.77 L548.50,128.68 L549.00,129.56 L549.50,130.43 L550.00,131.28 L550.50,132.11 L551.00,132.92 L551.50,133.67 L552.00,134.37 L552.50,135.00 L553.00,135.58 L553.50,136.12 L554.00,136.62 L554.50,137.08 L555.00,137.51 L555.50,137.91 L556.00,138.30 L556.50,138.66 L557.00,138.99 L557.50,139.29 L558.00,139.55 L558.50,139.78 L559.00,139.98 L559.50,140.15 L560.00,140.28 L560.50,140.38 L561.00,140.45 L561.50,140.49 L562.00,140.50 L562.50,140.44 L563.00,140.33 L563.50,140.18 L564.00,139.97 L564.50,139.73 L565.00,139.44 L565.50,139.12 L566.00,138.77 L566.50,138.40 L567.00,138.00 L567.50,137.56 L568.00,137.06 L568.50,136.51 L569.00,135.90 L569.50,135.24 L570.00,134.52 L570.50,133.75 L571.00,132.93 L571.50,132.07 L572.00,131.16 L572.50,130.20 L573.00,129.17 L573.50,128.02 L574.00,126.73 L574.50,125.29 L575.00,123.70 L575.50,121.94 L576.00,120.00 L576.50,117.83 L577.00,115.45 L577.50,113.00 L578.00,110.61 L578.50,108.41 L579.00,106.41 L579.50,104.45 L580.00,102.53 L580.50,100.62 L581.00,98.72 L581.50,96.82 L582.00,94.92 L582.50,93.01 L583.00,91.07 L583.50,89.11 L584.00,87.10 L584.50,85.01 L585.00,82.83 L585.50,80.60 L586.00,78.37 L586.50,76.19 L587.00,74.11 L587.50,72.17 L588.00,70.36 L588.50,68.60 L589.00,66.86 L589.50,65.13 L590.00,63.42 L590.50,61.72 L591.00,60.00 L591.50,58.28 L592.00,56.58 L592.50,54.88 L593.00,53.19 L593.50,51.51 L594.00,49.83 L594.50,48.16 L595.00,46.50 L595.50,44.96 L596.00,43.64 L596.50,42.55 L597.00,41.66 L597.50,40.96 L598.00,40.45 L598.50,40.11 L599.00,39.93 L599.50,39.91 L600.00,40.05 L600.50,40.39 L601.00,40.94 L601.50,41.70 L602.00,42.67 L602.50,43.88 L603.00,45.32 L603.50,47.00 L604.00,48.85 L604.50,50.75 L605.00,52.70 L605.50,54.65 L606.00,56.60 L606.50,58.51 L607.00,60.36 L607.50,62.12 L608.00,63.80 L608.50,65.45 L609.00,67.11 L609.50,68.83 L610.00,70.64 L610.50,72.62 L611.00,74.96 L611.50,77.63 L612.00,80.59 L612.50,83.76 L613.00,87.08 L613.50,90.50 L614.00,93.94 L614.50,97.34 L615.00,100.65 L615.50,103.79 L616.00,106.71 L616.50,109.39 L617.00,111.97 L617.50,114.48 L618.00,116.93 L618.50,119.30 L619.00,121.60 L619.50,123.84 L620.00,126.00 L620.50,128.10 L621.00,130.14 L621.50,132.10 L622.00,134.00 L622.50,135.78 L623.00,137.41 L623.50,138.87 L624.00,140.18 L624.50,141.34 L625.00,142.35 L625.50,143.23 L626.00,143.97 L626.50,144.58 L627.00,145.06 L627.50,145.41 L628.00,145.65 L628.50,145.78 L629.00,145.78 L629.50,145.59 L630.00,145.19 L630.50,144.58 L631.00,143.75 L631.50,142.71 L632.00,141.44 L632.50,139.94 L633.00,138.20 L633.50,136.22 L634.00,134.00 L634.50,131.58 L635.00,129.00 L635.50,126.28 L636.00,123.43 L636.50,120.44 L637.00,117.33 L637.50,114.10 L638.00,110.75 L638.50,107.29 L639.00,103.52 L639.50,99.42 L640.00,95.11 L640.50,90.73 L641.00,86.38 L641.50,82.19 L642.00,78.29 L642.50,74.78 L643.00,71.80 L643.50,69.21 L644.00,66.78 L644.50,64.46 L645.00,62.21 L645.50,60.00 L646.00,57.81 L646.50,55.66 L647.00,53.56 L647.50,51.50 L648.00,49.54 L648.50,47.99 L649.00,46.95 L649.50,46.45 L650.00,46.50 L650.50,47.12 L651.00,48.26 L651.50,49.91 L652.00,51.91 L652.50,53.96 L653.00,56.06 L653.50,58.22 L654.00,60.45 L654.50,62.71 L655.00,65.01 L655.50,67.36 L656.00,69.79 L656.50,72.32 L657.00,75.07 L657.50,78.05 L658.00,81.22 L658.50,84.53 L659.00,87.94 L659.50,91.40 L660.00,94.86 L660.50,98.27 L661.00,101.60 L661.50,104.79 L662.00,107.80 L662.50,110.63 L663.00,113.31 L663.50,115.86 L664.00,118.29 L664.50,120.61 L665.00,122.82 L665.50,124.95 L666.00,127.00 L666.50,128.88 L667.00,130.50 L667.50,131.87 L668.00,132.98 L668.50,133.83 L669.00,134.43 L669.50,134.79 L670.00,134.90 L670.50,134.73 L671.00,134.24 L671.50,133.44 L672.00,132.32 L672.50,130.88 L673.00,129.11 L673.50,127.00 L674.00,124.66 L674.50,122.19 L675.00,119.60 L675.50,116.88 L676.00,114.04 L676.50,111.08 L677.00,108.00 L677.50,104.71 L678.00,101.20 L678.50,97.53 L679.00,93.80 L679.50,90.10 L680.00,86.51 L680.50,83.11 L681.00,80.00 L681.50,77.30 L682.00,75.02 L682.50,73.05 L683.00,71.28 L683.50,69.64 L684.00,68.27 L684.50,67.34 L685.00,67.00 L685.50,67.30 L686.00,68.16 L686.50,69.54 L687.00,71.37 L687.50,73.37 L688.00,75.49 L688.50,77.70 L689.00,80.00 L689.50,82.44 L690.00,85.05 L690.50,87.79 L691.00,90.61 L691.50,93.47 L692.00,96.32 L692.50,99.14 L693.00,101.87 L693.50,104.46 L694.00,106.89 L694.50,109.10 L695.00,111.06 L695.50,112.76 L696.00,114.18 L696.50,115.30 L697.00,116.10 L697.50,116.57 L698.00,116.69 L698.50,116.44 L699.00,115.80 L699.50,114.96 L700.00,114.11 L700.50,113.26 L701.00,112.39 L701.50,111.52 L702.00,110.63 L702.50,109.74 L703.00,108.85 L703.50,107.94 L704.00,107.03 L704.50,106.12 L705.00,105.19 L705.50,104.26 L706.00,103.32 L706.50,102.38 L707.00,101.44 L707.50,100.50 L708.00,99.57 L708.50,98.64 L709.00,97.72 L709.50,96.82 L710.00,95.99 L710.50,95.24 L711.00,94.60 L711.50,94.06 L712.00,93.62 L712.50,93.29 L713.00,93.08 L713.50,92.98 L714.00,93.00 L714.50,93.11 L715.00,93.26 L715.50,93.46 L716.00,93.70 L716.50,93.97 L717.00,94.28 L717.50,94.62 L718.00,94.99 L718.50,95.39 L719.00,95.81 L719.50,96.26 L720.00,96.72 L720.50,97.19 L721.00,97.71 L721.50,98.25 L722.00,98.81 L722.50,99.39 L723.00,99.96 L723.50,100.54 L724.00,101.09 L724.50,101.63 L725.00,102.13 L725.50,102.59 L726.00,103.02 L726.50,103.43 L727.00,103.81 L727.50,104.15 L728.00,104.45 L728.50,104.69 L729.00,104.87 L729.50,104.99 L730.00,105.03 L730.50,104.99 L731.00,104.89 L731.50,104.77 L732.00,104.62 L732.50,104.45 L733.00,104.25 L733.50,104.03 L734.00,103.79 L734.50,103.53 L735.00,103.26 L735.50,102.98 L736.00,102.68 L736.50,102.38 L737.00,102.05 L737.50,101.71 L738.00,101.35 L738.50,100.99 L739.00,100.63 L739.50,100.28 L740.00,99.93 L740.50,99.59 L741.00,99.28 L741.50,98.99 L742.00,98.71 L742.50,98.46 L743.00,98.22 L743.50,97.99 L744.00,97.79 L744.50,97.60 L745.00,97.43 L745.50,97.28 L746.00,97.15 L746.50,97.03 L747.00,96.93 L747.50,96.86 L748.00,96.80 L748.50,96.76 L749.00,96.75 L749.50,96.77 L750.00,96.80 L750.50,96.86 L751.00,96.95 L751.50,97.05 L752.00,97.19 L752.50,97.34 L753.00,97.52 L753.50,97.72 L754.00,97.95 L754.50,98.19 L755.00,98.47 L755.50,98.78 L756.00,99.13 L756.50,99.49 L757.00,99.85 L757.50,100.19 L758.00,100.52 L758.50,100.80 L759.00,101.05 L759.50,101.29 L760.00,101.51 L760.50,101.72 L761.00,101.90 L761.50,102.06 L762.00,102.19 L762.50,102.27 L763.00,102.30 L763.50,102.29 L764.00,102.26 L764.50,102.20 L765.00,102.11 L765.50,102.00 L766.00,101.87 L766.50,101.74 L767.00,101.60 L767.50,101.46 L768.00,101.33 L768.50,101.20 L769.00,101.08 L769.50,100.95 L770.00,100.83 L770.50,100.72 L771.00,100.60 L771.50,100.50 L772.00,100.40 L772.50,100.31 L773.00,100.24 L773.50,100.18 L774.00,100.12 L774.50,100.08 L775.00,100.04 L775.50,100.01 L776.00,99.98 L776.50,99.96 L777.00,99.94 L777.50,99.92 L778.00,99.90 L778.50,99.88 L779.00,99.86 L779.50,99.83 L780.00,99.81 L780.50,99.79 L781.00,99.76 L781.50,99.74 L782.00,99.72 L782.50,99.70 L783.00,99.67 L783.50,99.65 L784.00,99.63 L784.50,99.62 L785.00,99.60 L785.50,99.59 L786.00,99.57 L786.50,99.56 L787.00,99.56 L787.50,99.55 L788.00,99.55 L788.50,99.55 L789.00,99.55 L789.50,99.56 L790.00,99.57 L790.50,99.58 L791.00,99.60 L791.50,99.62 L792.00,99.65 L792.50,99.68 L793.00,99.71 L793.50,99.75 L794.00,99.80 L794.50,99.85 L795.00,99.90 L795.50,99.97 L796.00,100.03 L796.50,100.10 L797.00,100.18 L797.50,100.27 L798.00,100.36 L798.50,100.45 L799.00,100.55 L799.50,100.66 L800.00,100.77 L800.50,100.88 L801.00,100.99 L801.50,101.11 L802.00,101.23 L802.50,101.35 L803.00,101.47 L803.50,101.59 L804.00,101.71 L804.50,101.83 L805.00,101.96 L805.50,102.08 L806.00,102.19 L806.50,102.31 L807.00,102.42 L807.50,102.54 L808.00,102.64 L808.50,102.75 L809.00,102.86 L809.50,102.97 L810.00,103.08 L810.50,103.18 L811.00,103.29 L811.50,103.39 L812.00,103.49 L812.50,103.59 L813.00,103.69 L813.50,103.78 L814.00,103.86 L814.50,103.95 L815.00,104.02 L815.50,104.09 L816.00,104.15 L816.50,104.21 L817.00,104.21 L817.50,104.14 L818.00,104.01 L818.50,103.82 L819.00,103.60 L819.50,103.35 L820.00,103.07 L820.50,102.78 L821.00,102.49 L821.50,102.21 L822.00,101.94 L822.50,101.71 L823.00,101.50 L823.50,101.35 L824.00,101.24 L824.50,101.13 L825.00,101.03 L825.50,100.92 L826.00,100.82 L826.50,100.73 L827.00,100.63 L827.50,100.54 L828.00,100.45 L828.50,100.36 L829.00,100.28 L829.50,100.20 L830.00,100.12 L830.50,100.05 L831.00,99.99 L831.50,99.93 L832.00,99.87 L832.50,99.82 L833.00,99.78 L833.50,99.75 L834.00,99.72 L834.50,99.70 L835.00,99.68 L835.50,99.66 L836.00,99.65 L836.50,99.64 L837.00,99.63 L837.50,99.62 L838.00,99.62 L838.50,99.61 L839.00,99.61 L839.50,99.62 L840.00,99.62 L840.50,99.63 L841.00,99.64 L841.50,99.65 L842.00,99.67 L842.50,99.68 L843.00,99.70 L843.50,99.73 L844.00,99.75 L844.50,99.78 L845.00,99.81 L845.50,99.84 L846.00,99.88 L846.50,99.92 L847.00,99.96 L847.50,100.00 L848.00,100.05 L848.50,100.10 L849.00,100.15 L849.50,100.21 L850.00,100.26 L850.50,100.33 L851.00,100.39 L851.50,100.46 L852.00,100.53 L852.50,100.60" stroke="#8FB032" stroke-width="2.15"/>
<path d="M81.00,11.45 L81.50,11.45 L82.00,11.45 L82.50,11.45 L83.00,11.45 L83.50,11.45 L84.00,11.45 L84.50,11.45 L85.00,11.45 L85.50,11.45 L86.00,11.45 L86.50,11.45 L87.00,11.45 L87.50,11.45 L88.00,11.45 L88.50,11.45 L89.00,11.46 L89.50,11.46 L90.00,11.46 L90.50,11.46 L91.00,11.46 L91.50,11.46 L92.00,11.46 L92.50,11.46 L93.00,11.46 L93.50,11.46 L94.00,11.46 L94.50,11.46 L95.00,11.46 L95.50,11.46 L96.00,11.46 L96.50,11.46 L97.00,11.46 L97.50,11.46 L98.00,11.46 L98.50,11.46 L99.00,11.46 L99.50,11.46 L100.00,11.46 L100.50,11.46 L101.00,11.46 L101.50,11.46 L102.00,11.46 L102.50,11.46 L103.00,11.46 L103.50,11.46 L104.00,11.47 L104.50,11.47 L105.00,11.47 L105.50,11.47 L106.00,11.47 L106.50,11.47 L107.00,11.47 L107.50,11.47 L108.00,11.47 L108.50,11.47 L109.00,11.47 L109.50,11.47 L110.00,11.47 L110.50,11.47 L111.00,11.47 L111.50,11.47 L112.00,11.47 L112.50,11.47 L113.00,11.47 L113.50,11.47 L114.00,11.47 L114.50,11.47 L115.00,11.47 L115.50,11.47 L116.00,11.47 L116.50,11.47 L117.00,11.47 L117.50,11.47 L118.00,11.47 L118.50,11.47 L119.00,11.47 L119.50,11.47 L120.00,11.48 L120.50,11.48 L121.00,11.48 L121.50,11.48 L122.00,11.48 L122.50,11.48 L123.00,11.48 L123.50,11.48 L124.00,11.48 L124.50,11.48 L125.00,11.48 L125.50,11.48 L126.00,11.48 L126.50,11.48 L127.00,11.48 L127.50,11.48 L128.00,11.48 L128.50,11.48 L129.00,11.48 L129.50,11.48 L130.00,11.48 L130.50,11.48 L131.00,11.48 L131.50,11.48 L132.00,11.48 L132.50,11.48 L133.00,11.48 L133.50,11.48 L134.00,11.48 L134.50,11.48 L135.00,11.48 L135.50,11.48 L136.00,11.49 L136.50,11.49 L137.00,11.49 L137.50,11.49 L138.00,11.49 L138.50,11.49 L139.00,11.49 L139.50,11.49 L140.00,11.49 L140.50,11.49 L141.00,11.49 L141.50,11.49 L142.00,11.49 L142.50,11.49 L143.00,11.49 L143.50,11.49 L144.00,11.49 L144.50,11.49 L145.00,11.49 L145.50,11.49 L146.00,11.49 L146.50,11.49 L147.00,11.49 L147.50,11.49 L148.00,11.49 L148.50,11.49 L149.00,11.49 L149.50,11.49 L150.00,11.49 L150.50,11.49 L151.00,11.49 L151.50,11.49 L152.00,11.49 L152.50,11.50 L153.00,11.50 L153.50,11.50 L154.00,11.50 L154.50,11.50 L155.00,11.50 L155.50,11.50 L156.00,11.50 L156.50,11.50 L157.00,11.50 L157.50,11.50 L158.00,11.50 L158.50,11.50 L159.00,11.50 L159.50,11.50 L160.00,11.50 L160.50,11.50 L161.00,11.50 L161.50,11.50 L162.00,11.50 L162.50,11.50 L163.00,11.50 L163.50,11.50 L164.00,11.50 L164.50,11.50 L165.00,11.50 L165.50,11.50 L166.00,11.50 L166.50,11.50 L167.00,11.50 L167.50,11.50 L168.00,11.50 L168.50,11.51 L169.00,11.51 L169.50,11.51 L170.00,11.51 L170.50,11.51 L171.00,11.51 L171.50,11.51 L172.00,11.51 L172.50,11.51 L173.00,11.51 L173.50,11.51 L174.00,11.51 L174.50,11.51 L175.00,11.51 L175.50,11.51 L176.00,11.51 L176.50,11.51 L177.00,11.51 L177.50,11.51 L178.00,11.51 L178.50,11.51 L179.00,11.51 L179.50,11.51 L180.00,11.51 L180.50,11.51 L181.00,11.51 L181.50,11.51 L182.00,11.51 L182.50,11.51 L183.00,11.51 L183.50,11.51 L184.00,11.51 L184.50,11.51 L185.00,11.51 L185.50,11.51 L186.00,11.51 L186.50,11.52 L187.00,11.52 L187.50,11.52 L188.00,11.52 L188.50,11.52 L189.00,11.52 L189.50,11.52 L190.00,11.52 L190.50,11.52 L191.00,11.52 L191.50,11.52 L192.00,11.52 L192.50,11.52 L193.00,11.52 L193.50,11.52 L194.00,11.52 L194.50,11.52 L195.00,11.52 L195.50,11.52 L196.00,11.52 L196.50,11.52 L197.00,11.52 L197.50,11.52 L198.00,11.52 L198.50,11.52 L199.00,11.52 L199.50,11.52 L200.00,11.52 L200.50,11.52 L201.00,11.52 L201.50,11.52 L202.00,11.52 L202.50,11.52 L203.00,11.52 L203.50,11.52 L204.00,11.52 L204.50,11.52 L205.00,11.52 L205.50,11.52 L206.00,11.53 L206.50,11.53 L207.00,11.53 L207.50,11.53 L208.00,11.53 L208.50,11.53 L209.00,11.53 L209.50,11.53 L210.00,11.53 L210.50,11.53 L211.00,11.53 L211.50,11.53 L212.00,11.53 L212.50,11.53 L213.00,11.53 L213.50,11.53 L214.00,11.53 L214.50,11.53 L215.00,11.53 L215.50,11.53 L216.00,11.53 L216.50,11.53 L217.00,11.53 L217.50,11.53 L218.00,11.53 L218.50,11.53 L219.00,11.53 L219.50,11.53 L220.00,11.53 L220.50,11.53 L221.00,11.53 L221.50,11.53 L222.00,11.53 L222.50,11.53 L223.00,11.53 L223.50,11.53 L224.00,11.53 L224.50,11.53 L225.00,11.54 L225.50,11.54 L226.00,11.54 L226.50,11.54 L227.00,11.54 L227.50,11.54 L228.00,11.54 L228.50,11.54 L229.00,11.54 L229.50,11.54 L230.00,11.54 L230.50,11.54 L231.00,11.54 L231.50,11.54 L232.00,11.54 L232.50,11.54 L233.00,11.54 L233.50,11.54 L234.00,11.54 L234.50,11.54 L235.00,11.54 L235.50,11.54 L236.00,11.54 L236.50,11.54 L237.00,11.54 L237.50,11.54 L238.00,11.54 L238.50,11.54 L239.00,11.54 L239.50,11.54 L240.00,11.54 L240.50,11.54 L241.00,11.54 L241.50,11.54 L242.00,11.54 L242.50,11.55 L243.00,11.55 L243.50,11.55 L244.00,11.55 L244.50,11.55 L245.00,11.55 L245.50,11.55 L246.00,11.55 L246.50,11.55 L247.00,11.55 L247.50,11.55 L248.00,11.55 L248.50,11.55 L249.00,11.55 L249.50,11.55 L250.00,11.55 L250.50,11.55 L251.00,11.55 L251.50,11.55 L252.00,11.55 L252.50,11.55 L253.00,11.55 L253.50,11.55 L254.00,11.56 L254.50,11.56 L255.00,11.56 L255.50,11.56 L256.00,11.56 L256.50,11.56 L257.00,11.56 L257.50,11.56 L258.00,11.56 L258.50,11.57 L259.00,11.57 L259.50,11.57 L260.00,11.57 L260.50,11.57 L261.00,11.58 L261.50,11.58 L262.00,11.58 L262.50,11.58 L263.00,11.58 L263.50,11.59 L264.00,11.59 L264.50,11.59 L265.00,11.59 L265.50,11.59 L266.00,11.60 L266.50,11.60 L267.00,11.60 L267.50,11.60 L268.00,11.61 L268.50,11.61 L269.00,11.61 L269.50,11.61 L270.00,11.62 L270.50,11.62 L271.00,11.62 L271.50,11.63 L272.00,11.63 L272.50,11.63 L273.00,11.64 L273.50,11.64 L274.00,11.64 L274.50,11.64 L275.00,11.65 L275.50,11.65 L276.00,11.65 L276.50,11.66 L277.00,11.66 L277.50,11.66 L278.00,11.67 L278.50,11.67 L279.00,11.67 L279.50,11.68 L280.00,11.68 L280.50,11.68 L281.00,11.69 L281.50,11.69 L282.00,11.70 L282.50,11.70 L283.00,11.70 L283.50,11.71 L284.00,11.71 L284.50,11.71 L285.00,11.72 L285.50,11.72 L286.00,11.72 L286.50,11.73 L287.00,11.73 L287.50,11.74 L288.00,11.74 L288.50,11.74 L289.00,11.75 L289.50,11.75 L290.00,11.75 L290.50,11.76 L291.00,11.76 L291.50,11.77 L292.00,11.77 L292.50,11.77 L293.00,11.78 L293.50,11.78 L294.00,11.78 L294.50,11.79 L295.00,11.79 L295.50,11.80 L296.00,11.80 L296.50,11.80 L297.00,11.81 L297.50,11.81 L298.00,11.82 L298.50,11.82 L299.00,11.82 L299.50,11.83 L300.00,11.83 L300.50,11.84 L301.00,11.84 L301.50,11.84 L302.00,11.85 L302.50,11.85 L303.00,11.86 L303.50,11.86 L304.00,11.86 L304.50,11.87 L305.00,11.87 L305.50,11.88 L306.00,11.88 L306.50,11.88 L307.00,11.89 L307.50,11.89 L308.00,11.90 L308.50,11.90 L309.00,11.91 L309.50,11.91 L310.00,11.91 L310.50,11.92 L311.00,11.92 L311.50,11.93 L312.00,11.93 L312.50,11.94 L313.00,11.94 L313.50,11.95 L314.00,11.95 L314.50,11.95 L315.00,11.96 L315.50,11.96 L316.00,11.97 L316.50,11.97 L317.00,11.98 L317.50,11.98 L318.00,11.99 L318.50,11.99 L319.00,12.00 L319.50,12.00 L320.00,12.00 L320.50,12.01 L321.00,12.01 L321.50,12.02 L322.00,12.02 L322.50,12.03 L323.00,12.03 L323.50,12.04 L324.00,12.04 L324.50,12.05 L325.00,12.05 L325.50,12.06 L326.00,12.06 L326.50,12.07 L327.00,12.07 L327.50,12.08 L328.00,12.08 L328.50,12.09 L329.00,12.09 L329.50,12.10 L330.00,12.10 L330.50,12.11 L331.00,12.11 L331.50,12.12 L332.00,12.12 L332.50,12.13 L333.00,12.13 L333.50,12.14 L334.00,12.14 L334.50,12.14 L335.00,12.15 L335.50,12.15 L336.00,12.16 L336.50,12.16 L337.00,12.17 L337.50,12.17 L338.00,12.18 L338.50,12.18 L339.00,12.19 L339.50,12.19 L340.00,12.20 L340.50,12.21 L341.00,12.21 L341.50,12.22 L342.00,12.22 L342.50,12.23 L343.00,12.23 L343.50,12.24 L344.00,12.24 L344.50,12.25 L345.00,12.25 L345.50,12.26 L346.00,12.27 L346.50,12.27 L347.00,12.28 L347.50,12.29 L348.00,12.29 L348.50,12.30 L349.00,12.30 L349.50,12.31 L350.00,12.32 L350.50,12.32 L351.00,12.33 L351.50,12.34 L352.00,12.34 L352.50,12.35 L353.00,12.36 L353.50,12.37 L354.00,12.37 L354.50,12.38 L355.00,12.39 L355.50,12.39 L356.00,12.40 L356.50,12.41 L357.00,12.41 L357.50,12.42 L358.00,12.43 L358.50,12.44 L359.00,12.44 L359.50,12.45 L360.00,12.46 L360.50,12.47 L361.00,12.47 L361.50,12.48 L362.00,12.49 L362.50,12.50 L363.00,12.50 L363.50,12.51 L364.00,12.52 L364.50,12.52 L365.00,12.53 L365.50,12.54 L366.00,12.55 L366.50,12.55 L367.00,12.56 L367.50,12.57 L368.00,12.58 L368.50,12.58 L369.00,12.59 L369.50,12.60 L370.00,12.61 L370.50,12.61 L371.00,12.62 L371.50,12.63 L372.00,12.63 L372.50,12.64 L373.00,12.65 L373.50,12.66 L374.00,12.66 L374.50,12.67 L375.00,12.68 L375.50,12.68 L376.00,12.69 L376.50,12.70 L377.00,12.70 L377.50,12.71 L378.00,12.72 L378.50,12.72 L379.00,12.73 L379.50,12.74 L380.00,12.74 L380.50,12.75 L381.00,12.76 L381.50,12.76 L382.00,12.77 L382.50,12.77 L383.00,12.78 L383.50,12.79 L384.00,12.79 L384.50,12.80 L385.00,12.80 L385.50,12.81 L386.00,12.81 L386.50,12.82 L387.00,12.82 L387.50,12.83 L388.00,12.83 L388.50,12.84 L389.00,12.84 L389.50,12.85 L390.00,12.85 L390.50,12.86 L391.00,12.86 L391.50,12.87 L392.00,12.87 L392.50,12.87 L393.00,12.88 L393.50,12.88 L394.00,12.89 L394.50,12.89 L395.00,12.89 L395.50,12.90 L396.00,12.90 L396.50,12.90 L397.00,12.91 L397.50,12.91 L398.00,12.91 L398.50,12.91 L399.00,12.92 L399.50,12.92 L400.00,12.92 L400.50,12.93 L401.00,12.93 L401.50,12.93 L402.00,12.93 L402.50,12.93 L403.00,12.94 L403.50,12.94 L404.00,12.94 L404.50,12.94 L405.00,12.95 L405.50,12.95 L406.00,12.95 L406.50,12.95 L407.00,12.95 L407.50,12.96 L408.00,12.96 L408.50,12.96 L409.00,12.96 L409.50,12.96 L410.00,12.96 L410.50,12.96 L411.00,12.97 L411.50,12.97 L412.00,12.97 L412.50,12.97 L413.00,12.97 L413.50,12.97 L414.00,12.98 L414.50,12.98 L415.00,12.98 L415.50,12.98 L416.00,12.98 L416.50,12.98 L417.00,12.98 L417.50,12.98 L418.00,12.99 L418.50,12.99 L419.00,12.99 L419.50,12.99 L420.00,12.99 L420.50,12.99 L421.00,12.99 L421.50,12.99 L422.00,12.99 L422.50,13.00 L423.00,13.00 L423.50,13.00 L424.00,13.00 L424.50,13.00 L425.00,13.00 L425.50,13.00 L426.00,13.00 L426.50,13.01 L427.00,13.01 L427.50,13.01 L428.00,13.01 L428.50,13.01 L429.00,13.01 L429.50,13.01 L430.00,13.01 L430.50,13.02 L431.00,13.02 L431.50,13.02 L432.00,13.02 L432.50,13.02 L433.00,13.02 L433.50,13.03 L434.00,13.03 L434.50,13.03 L435.00,13.03 L435.50,13.03 L436.00,13.03 L436.50,13.04 L437.00,13.04 L437.50,13.04 L438.00,13.04 L438.50,13.04 L439.00,13.05 L439.50,13.05 L440.00,13.05 L440.50,13.05 L441.00,13.05 L441.50,13.06 L442.00,13.06 L442.50,13.06 L443.00,13.06 L443.50,13.07 L444.00,13.07 L444.50,13.07 L445.00,13.07 L445.50,13.08 L446.00,13.08 L446.50,13.08 L447.00,13.08 L447.50,13.09 L448.00,13.09 L448.50,13.09 L449.00,13.09 L449.50,13.10 L450.00,13.10 L450.50,13.10 L451.00,13.10 L451.50,13.11 L452.00,13.11 L452.50,13.11 L453.00,13.11 L453.50,13.12 L454.00,13.12 L454.50,13.12 L455.00,13.12 L455.50,13.13 L456.00,13.13 L456.50,13.13 L457.00,13.13 L457.50,13.14 L458.00,13.14 L458.50,13.14 L459.00,13.14 L459.50,13.15 L460.00,13.15 L460.50,13.15 L461.00,13.15 L461.50,13.16 L462.00,13.16 L462.50,13.16 L463.00,13.16 L463.50,13.17 L464.00,13.17 L464.50,13.17 L465.00,13.17 L465.50,13.18 L466.00,13.18 L466.50,13.18 L467.00,13.19 L467.50,13.19 L468.00,13.19 L468.50,13.19 L469.00,13.20 L469.50,13.20 L470.00,13.20 L470.50,13.20 L471.00,13.20 L471.50,13.21 L472.00,13.21 L472.50,13.21 L473.00,13.21 L473.50,13.21 L474.00,13.21 L474.50,13.21 L475.00,13.21 L475.50,13.22 L476.00,13.22 L476.50,13.22 L477.00,13.22 L477.50,13.22 L478.00,13.22 L478.50,13.22 L479.00,13.22 L479.50,13.22 L480.00,13.22 L480.50,13.21 L481.00,13.21 L481.50,13.21 L482.00,13.21 L482.50,13.21 L483.00,13.21 L483.50,13.21 L484.00,13.21 L484.50,13.21 L485.00,13.21 L485.50,13.21 L486.00,13.21 L486.50,13.21 L487.00,13.20 L487.50,13.20 L488.00,13.20 L488.50,13.20 L489.00,13.20 L489.50,13.20 L490.00,13.20 L490.50,13.20 L491.00,13.21 L491.50,13.21 L492.00,13.21 L492.50,13.21 L493.00,13.20 L493.50,13.18 L494.00,13.15 L494.50,13.11 L495.00,13.05 L495.50,12.97 L496.00,12.87 L496.50,12.75 L497.00,12.60 L497.50,12.42 L498.00,12.22 L498.50,11.99 L499.00,11.76 L499.50,11.51 L500.00,11.27 L500.50,11.03 L501.00,10.80 L501.50,10.57 L502.00,10.33 L502.50,10.08 L503.00,9.83 L503.50,9.59 L504.00,9.36 L504.50,9.16 L505.00,8.98 L505.50,8.83 L506.00,8.73 L506.50,8.68 L507.00,8.72 L507.50,8.84 L508.00,9.03 L508.50,9.26 L509.00,9.52 L509.50,9.80 L510.00,10.08 L510.50,10.35 L511.00,10.60 L511.50,10.84 L512.00,11.09 L512.50,11.35 L513.00,11.62 L513.50,11.89 L514.00,12.15 L514.50,12.39 L515.00,12.62 L515.50,12.83 L516.00,13.00 L516.50,13.15 L517.00,13.27 L517.50,13.38 L518.00,13.48 L518.50,13.56 L519.00,13.62 L519.50,13.67 L520.00,13.72 L520.50,13.75 L521.00,13.78 L521.50,13.81 L522.00,13.83 L522.50,13.84 L523.00,13.86 L523.50,13.88 L524.00,13.90 L524.50,13.92 L525.00,13.95 L525.50,13.97 L526.00,14.00 L526.50,14.02 L527.00,14.04 L527.50,14.06 L528.00,14.08 L528.50,14.10 L529.00,14.11 L529.50,14.13 L530.00,14.14 L530.50,14.14 L531.00,14.15 L531.50,14.15 L532.00,14.14 L532.50,14.13 L533.00,14.12 L533.50,14.10 L534.00,14.07 L534.50,14.04 L535.00,14.00 L535.50,13.95 L536.00,13.88 L536.50,13.80 L537.00,13.70 L537.50,13.60 L538.00,13.48 L538.50,13.36 L539.00,13.24 L539.50,13.12 L540.00,13.00 L540.50,12.84 L541.00,12.61 L541.50,12.37 L542.00,12.15 L542.50,12.02 L543.00,12.00 L543.50,12.08 L544.00,12.19 L544.50,12.32 L545.00,12.45 L545.50,12.59 L546.00,12.70 L546.50,12.80 L547.00,12.91 L547.50,13.01 L548.00,13.11 L548.50,13.21 L549.00,13.31 L549.50,13.42 L550.00,13.51 L550.50,13.61 L551.00,13.71 L551.50,13.81 L552.00,13.90 L552.50,13.99 L553.00,14.08 L553.50,14.17 L554.00,14.25 L554.50,14.33 L555.00,14.41 L555.50,14.48 L556.00,14.55 L556.50,14.60 L557.00,14.66 L557.50,14.70 L558.00,14.74 L558.50,14.77 L559.00,14.79 L559.50,14.80 L560.00,14.80 L560.50,14.80 L561.00,14.78 L561.50,14.74 L562.00,14.70 L562.50,14.65 L563.00,14.58 L563.50,14.52 L564.00,14.44 L564.50,14.36 L565.00,14.28 L565.50,14.19 L566.00,14.10 L566.50,14.00 L567.00,13.90 L567.50,13.80 L568.00,13.70 L568.50,13.60 L569.00,13.50 L569.50,13.40 L570.00,13.30 L570.50,13.19 L571.00,13.07 L571.50,12.95 L572.00,12.82 L572.50,12.70 L573.00,12.58 L573.50,12.48 L574.00,12.40 L574.50,12.35 L575.00,12.34 L575.50,12.37 L576.00,12.42 L576.50,12.50 L577.00,12.58 L577.50,12.67 L578.00,12.75 L578.50,12.82 L579.00,12.88 L579.50,12.90 L580.00,12.90 L580.50,12.88 L581.00,12.85 L581.50,12.83 L582.00,12.80 L582.50,12.78 L583.00,12.75 L583.50,12.73 L584.00,12.70 L584.50,12.68 L585.00,12.65 L585.50,12.62 L586.00,12.59 L586.50,12.57 L587.00,12.54 L587.50,12.51 L588.00,12.48 L588.50,12.45 L589.00,12.42 L589.50,12.38 L590.00,12.35 L590.50,12.31 L591.00,12.27 L591.50,12.23 L592.00,12.19 L592.50,12.15 L593.00,12.11 L593.50,12.07 L594.00,12.04 L594.50,12.00 L595.00,11.97 L595.50,11.94 L596.00,11.91 L596.50,11.89 L597.00,11.86 L597.50,11.85 L598.00,11.83 L598.50,11.84 L599.00,11.85 L599.50,11.88 L600.00,11.91 L600.50,11.96 L601.00,12.01 L601.50,12.07 L602.00,12.14 L602.50,12.21 L603.00,12.28 L603.50,12.36 L604.00,12.44 L604.50,12.52 L605.00,12.59 L605.50,12.67 L606.00,12.74 L606.50,12.80 L607.00,12.86 L607.50,12.92 L608.00,12.96 L608.50,13.00 L609.00,13.04 L609.50,13.08 L610.00,13.13 L610.50,13.17 L611.00,13.22 L611.50,13.26 L612.00,13.31 L612.50,13.35 L613.00,13.40 L613.50,13.44 L614.00,13.49 L614.50,13.53 L615.00,13.57 L615.50,13.61 L616.00,13.65 L616.50,13.69 L617.00,13.73 L617.50,13.77 L618.00,13.80 L618.50,13.84 L619.00,13.87 L619.50,13.89 L620.00,13.92 L620.50,13.94 L621.00,13.96 L621.50,13.98 L622.00,14.00 L622.50,14.01 L623.00,14.01 L623.50,14.02 L624.00,14.02 L624.50,14.02 L625.00,14.01 L625.50,14.00 L626.00,13.98 L626.50,13.97 L627.00,13.95 L627.50,13.93 L628.00,13.91 L628.50,13.88 L629.00,13.86 L629.50,13.83 L630.00,13.81 L630.50,13.78 L631.00,13.75 L631.50,13.72 L632.00,13.68 L632.50,13.65 L633.00,13.62 L633.50,13.58 L634.00,13.55 L634.50,13.51 L635.00,13.48 L635.50,13.44 L636.00,13.41 L636.50,13.37 L637.00,13.33 L637.50,13.30 L638.00,13.26 L638.50,13.23 L639.00,13.19 L639.50,13.15 L640.00,13.12 L640.50,13.08 L641.00,13.04 L641.50,13.00 L642.00,12.95 L642.50,12.90 L643.00,12.85 L643.50,12.79 L644.00,12.74 L644.50,12.69 L645.00,12.65 L645.50,12.61 L646.00,12.57 L646.50,12.54 L647.00,12.51 L647.50,12.49 L648.00,12.48 L648.50,12.48 L649.00,12.49 L649.50,12.51 L650.00,12.53 L650.50,12.57 L651.00,12.61 L651.50,12.65 L652.00,12.70 L652.50,12.75 L653.00,12.81 L653.50,12.86 L654.00,12.92 L654.50,12.97 L655.00,13.03 L655.50,13.08 L656.00,13.12 L656.50,13.16 L657.00,13.20 L657.50,13.23 L658.00,13.27 L658.50,13.31 L659.00,13.35 L659.50,13.39 L660.00,13.43 L660.50,13.47 L661.00,13.51 L661.50,13.55 L662.00,13.59 L662.50,13.63 L663.00,13.67 L663.50,13.70 L664.00,13.74 L664.50,13.77 L665.00,13.79 L665.50,13.82 L666.00,13.84 L666.50,13.85 L667.00,13.86 L667.50,13.86 L668.00,13.86 L668.50,13.85 L669.00,13.84 L669.50,13.82 L670.00,13.80 L670.50,13.78 L671.00,13.75 L671.50,13.72 L672.00,13.69 L672.50,13.66 L673.00,13.63 L673.50,13.60 L674.00,13.56 L674.50,13.53 L675.00,13.49 L675.50,13.45 L676.00,13.42 L676.50,13.38 L677.00,13.34 L677.50,13.30 L678.00,13.27 L678.50,13.23 L679.00,13.19 L679.50,13.16 L680.00,13.12 L680.50,13.08 L681.00,13.03 L681.50,12.98 L682.00,12.92 L682.50,12.86 L683.00,12.80 L683.50,12.75 L684.00,12.69 L684.50,12.64 L685.00,12.60 L685.50,12.56 L686.00,12.54 L686.50,12.53 L687.00,12.54 L687.50,12.56 L688.00,12.59 L688.50,12.63 L689.00,12.68 L689.50,12.72 L690.00,12.77 L690.50,12.82 L691.00,12.88 L691.50,12.93 L692.00,12.99 L692.50,13.04 L693.00,13.10 L693.50,13.15 L694.00,13.20 L694.50,13.25 L695.00,13.31 L695.50,13.37 L696.00,13.44 L696.50,13.50 L697.00,13.56 L697.50,13.60 L698.00,13.64 L698.50,13.67 L699.00,13.68 L699.50,13.68 L700.00,13.66 L700.50,13.64 L701.00,13.62 L701.50,13.58 L702.00,13.54 L702.50,13.50 L703.00,13.46 L703.50,13.41 L704.00,13.37 L704.50,13.32 L705.00,13.28 L705.50,13.24 L706.00,13.20 L706.50,13.17 L707.00,13.13 L707.50,13.10 L708.00,13.06 L708.50,13.03 L709.00,13.00 L709.50,12.96 L710.00,12.93 L710.50,12.90 L711.00,12.86 L711.50,12.83 L712.00,12.80 L712.50,12.78 L713.00,12.77 L713.50,12.78 L714.00,12.80 L714.50,12.83 L715.00,12.87 L715.50,12.91 L716.00,12.96 L716.50,13.01 L717.00,13.06 L717.50,13.11 L718.00,13.16 L718.50,13.19 L719.00,13.22 L719.50,13.24 L720.00,13.25 L720.50,13.25 L721.00,13.25 L721.50,13.25 L722.00,13.25 L722.50,13.25 L723.00,13.25 L723.50,13.25 L724.00,13.25 L724.50,13.25 L725.00,13.25 L725.50,13.25 L726.00,13.25 L726.50,13.25 L727.00,13.25 L727.50,13.25 L728.00,13.25 L728.50,13.25 L729.00,13.25 L729.50,13.25 L730.00,13.25 L730.50,13.25 L731.00,13.25 L731.50,13.25 L732.00,13.25 L732.50,13.25 L733.00,13.25 L733.50,13.25 L734.00,13.25 L734.50,13.25 L735.00,13.25 L735.50,13.25 L736.00,13.25 L736.50,13.25 L737.00,13.25 L737.50,13.25 L738.00,13.25 L738.50,13.25 L739.00,13.25 L739.50,13.25 L740.00,13.25 L740.50,13.25 L741.00,13.25 L741.50,13.25 L742.00,13.25 L742.50,13.25 L743.00,13.25 L743.50,13.25 L744.00,13.25 L744.50,13.25 L745.00,13.25 L745.50,13.25 L746.00,13.25 L746.50,13.25 L747.00,13.25 L747.50,13.25 L748.00,13.25 L748.50,13.25 L749.00,13.25 L749.50,13.25 L750.00,13.25 L750.50,13.25 L751.00,13.25 L751.50,13.25 L752.00,13.25 L752.50,13.25 L753.00,13.25 L753.50,13.25 L754.00,13.25 L754.50,13.25 L755.00,13.25 L755.50,13.25 L756.00,13.25 L756.50,13.25 L757.00,13.25 L757.50,13.25 L758.00,13.25 L758.50,13.25 L759.00,13.25 L759.50,13.25 L760.00,13.25 L760.50,13.25 L761.00,13.25 L761.50,13.25 L762.00,13.25 L762.50,13.25 L763.00,13.25 L763.50,13.25 L764.00,13.25 L764.50,13.25 L765.00,13.25 L765.50,13.25 L766.00,13.25 L766.50,13.25 L767.00,13.25 L767.50,13.25 L768.00,13.25 L768.50,13.25 L769.00,13.25 L769.50,13.25 L770.00,13.25 L770.50,13.25 L771.00,13.25 L771.50,13.25 L772.00,13.25 L772.50,13.25 L773.00,13.25 L773.50,13.25 L774.00,13.25 L774.50,13.25 L775.00,13.25 L775.50,13.25 L776.00,13.25 L776.50,13.25 L777.00,13.25 L777.50,13.25 L778.00,13.25 L778.50,13.25 L779.00,13.25 L779.50,13.25 L780.00,13.25 L780.50,13.25 L781.00,13.25 L781.50,13.25 L782.00,13.25 L782.50,13.25 L783.00,13.25 L783.50,13.25 L784.00,13.25 L784.50,13.25 L785.00,13.25 L785.50,13.25 L786.00,13.25 L786.50,13.25 L787.00,13.25 L787.50,13.25 L788.00,13.25 L788.50,13.25 L789.00,13.25 L789.50,13.25 L790.00,13.25 L790.50,13.25 L791.00,13.25 L791.50,13.25 L792.00,13.25 L792.50,13.25 L793.00,13.25 L793.50,13.25 L794.00,13.25 L794.50,13.25 L795.00,13.25 L795.50,13.25 L796.00,13.25 L796.50,13.25 L797.00,13.25 L797.50,13.25 L798.00,13.25 L798.50,13.25 L799.00,13.25 L799.50,13.25 L800.00,13.25 L800.50,13.25 L801.00,13.25 L801.50,13.25 L802.00,13.25 L802.50,13.25 L803.00,13.25 L803.50,13.25 L804.00,13.25 L804.50,13.25 L805.00,13.25 L805.50,13.25 L806.00,13.25 L806.50,13.25 L807.00,13.25 L807.50,13.25 L808.00,13.25 L808.50,13.25 L809.00,13.25 L809.50,13.25 L810.00,13.25 L810.50,13.25 L811.00,13.25 L811.50,13.25 L812.00,13.25 L812.50,13.25 L813.00,13.25 L813.50,13.25 L814.00,13.25 L814.50,13.25 L815.00,13.25 L815.50,13.25 L816.00,13.25 L816.50,13.25 L817.00,13.25 L817.50,13.25 L818.00,13.25 L818.50,13.25 L819.00,13.25 L819.50,13.25 L820.00,13.25 L820.50,13.25 L821.00,13.25 L821.50,13.25 L822.00,13.25 L822.50,13.25 L823.00,13.25 L823.50,13.25 L824.00,13.25 L824.50,13.25 L825.00,13.25 L825.50,13.25 L826.00,13.25 L826.50,13.25 L827.00,13.25 L827.50,13.25 L828.00,13.25 L828.50,13.25 L829.00,13.25 L829.50,13.25 L830.00,13.25 L830.50,13.25 L831.00,13.25 L831.50,13.25 L832.00,13.25 L832.50,13.25 L833.00,13.25 L833.50,13.25 L834.00,13.25 L834.50,13.25 L835.00,13.25 L835.50,13.25 L836.00,13.25 L836.50,13.25 L837.00,13.25 L837.50,13.25 L838.00,13.25 L838.50,13.25 L839.00,13.25 L839.50,13.25 L840.00,13.25 L840.50,13.25 L841.00,13.25 L841.50,13.25 L842.00,13.25 L842.50,13.25 L843.00,13.25 L843.50,13.25 L844.00,13.25 L844.50,13.25 L845.00,13.25 L845.50,13.25 L846.00,13.25 L846.50,13.25 L847.00,13.25 L847.50,13.25 L848.00,13.25 L848.50,13.25 L849.00,13.25 L849.50,13.25 L850.00,13.25 L850.50,13.25 L851.00,13.25 L851.50,13.25 L852.00,13.25 L852.50,13.25" stroke="#5E81B5" stroke-width="2.15" stroke-dasharray="7 2.8" stroke-dashoffset="1.1"/>
<path d="M81.00,11.40 L81.50,11.40 L82.00,11.40 L82.50,11.40 L83.00,11.40 L83.50,11.40 L84.00,11.40 L84.50,11.40 L85.00,11.40 L85.50,11.40 L86.00,11.40 L86.50,11.40 L87.00,11.40 L87.50,11.40 L88.00,11.40 L88.50,11.40 L89.00,11.40 L89.50,11.40 L90.00,11.40 L90.50,11.40 L91.00,11.40 L91.50,11.40 L92.00,11.40 L92.50,11.41 L93.00,11.41 L93.50,11.41 L94.00,11.41 L94.50,11.41 L95.00,11.41 L95.50,11.41 L96.00,11.41 L96.50,11.42 L97.00,11.42 L97.50,11.42 L98.00,11.42 L98.50,11.42 L99.00,11.43 L99.50,11.43 L100.00,11.43 L100.50,11.43 L101.00,11.43 L101.50,11.44 L102.00,11.44 L102.50,11.44 L103.00,11.45 L103.50,11.45 L104.00,11.45 L104.50,11.45 L105.00,11.46 L105.50,11.46 L106.00,11.46 L106.50,11.47 L107.00,11.47 L107.50,11.47 L108.00,11.48 L108.50,11.48 L109.00,11.49 L109.50,11.49 L110.00,11.49 L110.50,11.50 L111.00,11.50 L111.50,11.51 L112.00,11.51 L112.50,11.52 L113.00,11.52 L113.50,11.53 L114.00,11.53 L114.50,11.54 L115.00,11.54 L115.50,11.55 L116.00,11.55 L116.50,11.56 L117.00,11.56 L117.50,11.57 L118.00,11.58 L118.50,11.58 L119.00,11.59 L119.50,11.59 L120.00,11.60 L120.50,11.61 L121.00,11.61 L121.50,11.62 L122.00,11.63 L122.50,11.63 L123.00,11.64 L123.50,11.65 L124.00,11.66 L124.50,11.66 L125.00,11.67 L125.50,11.68 L126.00,11.69 L126.50,11.70 L127.00,11.70 L127.50,11.71 L128.00,11.72 L128.50,11.73 L129.00,11.74 L129.50,11.75 L130.00,11.76 L130.50,11.76 L131.00,11.77 L131.50,11.78 L132.00,11.79 L132.50,11.80 L133.00,11.81 L133.50,11.82 L134.00,11.83 L134.50,11.84 L135.00,11.85 L135.50,11.86 L136.00,11.87 L136.50,11.88 L137.00,11.89 L137.50,11.90 L138.00,11.91 L138.50,11.92 L139.00,11.93 L139.50,11.94 L140.00,11.95 L140.50,11.96 L141.00,11.96 L141.50,11.97 L142.00,11.98 L142.50,11.99 L143.00,12.00 L143.50,12.01 L144.00,12.02 L144.50,12.03 L145.00,12.04 L145.50,12.05 L146.00,12.06 L146.50,12.07 L147.00,12.08 L147.50,12.09 L148.00,12.10 L148.50,12.11 L149.00,12.12 L149.50,12.13 L150.00,12.14 L150.50,12.15 L151.00,12.16 L151.50,12.16 L152.00,12.17 L152.50,12.18 L153.00,12.19 L153.50,12.20 L154.00,12.21 L154.50,12.22 L155.00,12.22 L155.50,12.23 L156.00,12.24 L156.50,12.25 L157.00,12.26 L157.50,12.26 L158.00,12.27 L158.50,12.28 L159.00,12.29 L159.50,12.29 L160.00,12.30 L160.50,12.31 L161.00,12.31 L161.50,12.32 L162.00,12.33 L162.50,12.33 L163.00,12.34 L163.50,12.35 L164.00,12.35 L164.50,12.36 L165.00,12.36 L165.50,12.37 L166.00,12.37 L166.50,12.38 L167.00,12.39 L167.50,12.39 L168.00,12.40 L168.50,12.40 L169.00,12.41 L169.50,12.41 L170.00,12.42 L170.50,12.42 L171.00,12.43 L171.50,12.43 L172.00,12.44 L172.50,12.44 L173.00,12.44 L173.50,12.45 L174.00,12.45 L174.50,12.46 L175.00,12.46 L175.50,12.47 L176.00,12.47 L176.50,12.48 L177.00,12.48 L177.50,12.48 L178.00,12.49 L178.50,12.49 L179.00,12.50 L179.50,12.50 L180.00,12.50 L180.50,12.51 L181.00,12.51 L181.50,12.52 L182.00,12.52 L182.50,12.53 L183.00,12.53 L183.50,12.53 L184.00,12.54 L184.50,12.54 L185.00,12.55 L185.50,12.55 L186.00,12.56 L186.50,12.56 L187.00,12.56 L187.50,12.57 L188.00,12.57 L188.50,12.58 L189.00,12.58 L189.50,12.59 L190.00,12.59 L190.50,12.60 L191.00,12.60 L191.50,12.61 L192.00,12.61 L192.50,12.62 L193.00,12.62 L193.50,12.63 L194.00,12.63 L194.50,12.64 L195.00,12.64 L195.50,12.65 L196.00,12.65 L196.50,12.66 L197.00,12.66 L197.50,12.67 L198.00,12.68 L198.50,12.68 L199.00,12.69 L199.50,12.69 L200.00,12.70 L200.50,12.71 L201.00,12.71 L201.50,12.72 L202.00,12.73 L202.50,12.73 L203.00,12.74 L203.50,12.75 L204.00,12.75 L204.50,12.76 L205.00,12.77 L205.50,12.78 L206.00,12.79 L206.50,12.79 L207.00,12.80 L207.50,12.81 L208.00,12.82 L208.50,12.83 L209.00,12.84 L209.50,12.84 L210.00,12.85 L210.50,12.86 L211.00,12.87 L211.50,12.88 L212.00,12.89 L212.50,12.90 L213.00,12.91 L213.50,12.92 L214.00,12.93 L214.50,12.94 L215.00,12.95 L215.50,12.96 L216.00,12.97 L216.50,12.98 L217.00,13.00 L217.50,13.01 L218.00,13.02 L218.50,13.03 L219.00,13.04 L219.50,13.06 L220.00,13.07 L220.50,13.08 L221.00,13.09 L221.50,13.11 L222.00,13.12 L222.50,13.13 L223.00,13.15 L223.50,13.16 L224.00,13.18 L224.50,13.19 L225.00,13.20 L225.50,13.22 L226.00,13.23 L226.50,13.25 L227.00,13.27 L227.50,13.28 L228.00,13.30 L228.50,13.31 L229.00,13.33 L229.50,13.35 L230.00,13.36 L230.50,13.38 L231.00,13.40 L231.50,13.42 L232.00,13.44 L232.50,13.45 L233.00,13.47 L233.50,13.49 L234.00,13.51 L234.50,13.53 L235.00,13.55 L235.50,13.57 L236.00,13.59 L236.50,13.61 L237.00,13.64 L237.50,13.66 L238.00,13.68 L238.50,13.70 L239.00,13.72 L239.50,13.75 L240.00,13.77 L240.50,13.79 L241.00,13.81 L241.50,13.84 L242.00,13.86 L242.50,13.89 L243.00,13.91 L243.50,13.93 L244.00,13.96 L244.50,13.98 L245.00,14.01 L245.50,14.03 L246.00,14.06 L246.50,14.08 L247.00,14.11 L247.50,14.14 L248.00,14.16 L248.50,14.19 L249.00,14.22 L249.50,14.24 L250.00,14.27 L250.50,14.30 L251.00,14.32 L251.50,14.35 L252.00,14.38 L252.50,14.40 L253.00,14.43 L253.50,14.46 L254.00,14.49 L254.50,14.52 L255.00,14.54 L255.50,14.57 L256.00,14.60 L256.50,14.63 L257.00,14.66 L257.50,14.69 L258.00,14.71 L258.50,14.74 L259.00,14.77 L259.50,14.80 L260.00,14.83 L260.50,14.86 L261.00,14.89 L261.50,14.92 L262.00,14.95 L262.50,14.98 L263.00,15.01 L263.50,15.04 L264.00,15.07 L264.50,15.10 L265.00,15.13 L265.50,15.16 L266.00,15.19 L266.50,15.22 L267.00,15.25 L267.50,15.28 L268.00,15.31 L268.50,15.34 L269.00,15.37 L269.50,15.40 L270.00,15.43 L270.50,15.46 L271.00,15.49 L271.50,15.52 L272.00,15.55 L272.50,15.58 L273.00,15.61 L273.50,15.64 L274.00,15.68 L274.50,15.71 L275.00,15.74 L275.50,15.77 L276.00,15.80 L276.50,15.83 L277.00,15.86 L277.50,15.89 L278.00,15.93 L278.50,15.96 L279.00,15.99 L279.50,16.02 L280.00,16.05 L280.50,16.09 L281.00,16.12 L281.50,16.15 L282.00,16.19 L282.50,16.22 L283.00,16.25 L283.50,16.29 L284.00,16.32 L284.50,16.35 L285.00,16.39 L285.50,16.42 L286.00,16.46 L286.50,16.49 L287.00,16.53 L287.50,16.56 L288.00,16.60 L288.50,16.64 L289.00,16.67 L289.50,16.71 L290.00,16.74 L290.50,16.78 L291.00,16.82 L291.50,16.85 L292.00,16.89 L292.50,16.93 L293.00,16.97 L293.50,17.01 L294.00,17.04 L294.50,17.08 L295.00,17.12 L295.50,17.16 L296.00,17.20 L296.50,17.24 L297.00,17.28 L297.50,17.32 L298.00,17.36 L298.50,17.41 L299.00,17.45 L299.50,17.49 L300.00,17.54 L300.50,17.58 L301.00,17.63 L301.50,17.67 L302.00,17.72 L302.50,17.77 L303.00,17.81 L303.50,17.86 L304.00,17.91 L304.50,17.96 L305.00,18.01 L305.50,18.06 L306.00,18.11 L306.50,18.17 L307.00,18.22 L307.50,18.27 L308.00,18.32 L308.50,18.38 L309.00,18.43 L309.50,18.49 L310.00,18.54 L310.50,18.60 L311.00,18.66 L311.50,18.71 L312.00,18.77 L312.50,18.83 L313.00,18.89 L313.50,18.95 L314.00,19.01 L314.50,19.07 L315.00,19.13 L315.50,19.19 L316.00,19.25 L316.50,19.32 L317.00,19.38 L317.50,19.44 L318.00,19.51 L318.50,19.57 L319.00,19.64 L319.50,19.70 L320.00,19.77 L320.50,19.83 L321.00,19.90 L321.50,19.97 L322.00,20.03 L322.50,20.10 L323.00,20.17 L323.50,20.24 L324.00,20.30 L324.50,20.37 L325.00,20.44 L325.50,20.51 L326.00,20.57 L326.50,20.64 L327.00,20.71 L327.50,20.78 L328.00,20.85 L328.50,20.92 L329.00,20.98 L329.50,21.05 L330.00,21.12 L330.50,21.19 L331.00,21.26 L331.50,21.33 L332.00,21.40 L332.50,21.47 L333.00,21.54 L333.50,21.61 L334.00,21.68 L334.50,21.75 L335.00,21.82 L335.50,21.89 L336.00,21.96 L336.50,22.03 L337.00,22.10 L337.50,22.17 L338.00,22.24 L338.50,22.31 L339.00,22.38 L339.50,22.46 L340.00,22.53 L340.50,22.60 L341.00,22.67 L341.50,22.74 L342.00,22.82 L342.50,22.89 L343.00,22.96 L343.50,23.03 L344.00,23.11 L344.50,23.18 L345.00,23.25 L345.50,23.33 L346.00,23.40 L346.50,23.47 L347.00,23.55 L347.50,23.62 L348.00,23.69 L348.50,23.77 L349.00,23.84 L349.50,23.92 L350.00,23.99 L350.50,24.06 L351.00,24.14 L351.50,24.21 L352.00,24.28 L352.50,24.36 L353.00,24.43 L353.50,24.51 L354.00,24.58 L354.50,24.65 L355.00,24.73 L355.50,24.80 L356.00,24.88 L356.50,24.95 L357.00,25.02 L357.50,25.10 L358.00,25.17 L358.50,25.25 L359.00,25.32 L359.50,25.40 L360.00,25.47 L360.50,25.54 L361.00,25.62 L361.50,25.69 L362.00,25.77 L362.50,25.84 L363.00,25.92 L363.50,25.99 L364.00,26.07 L364.50,26.14 L365.00,26.22 L365.50,26.29 L366.00,26.37 L366.50,26.44 L367.00,26.52 L367.50,26.59 L368.00,26.67 L368.50,26.74 L369.00,26.82 L369.50,26.90 L370.00,26.97 L370.50,27.05 L371.00,27.12 L371.50,27.20 L372.00,27.28 L372.50,27.35 L373.00,27.43 L373.50,27.51 L374.00,27.59 L374.50,27.66 L375.00,27.74 L375.50,27.82 L376.00,27.90 L376.50,27.98 L377.00,28.06 L377.50,28.14 L378.00,28.21 L378.50,28.29 L379.00,28.37 L379.50,28.45 L380.00,28.53 L380.50,28.61 L381.00,28.69 L381.50,28.77 L382.00,28.84 L382.50,28.92 L383.00,29.00 L383.50,29.08 L384.00,29.15 L384.50,29.23 L385.00,29.31 L385.50,29.38 L386.00,29.46 L386.50,29.54 L387.00,29.61 L387.50,29.69 L388.00,29.76 L388.50,29.83 L389.00,29.91 L389.50,29.98 L390.00,30.06 L390.50,30.13 L391.00,30.20 L391.50,30.27 L392.00,30.34 L392.50,30.42 L393.00,30.49 L393.50,30.56 L394.00,30.63 L394.50,30.70 L395.00,30.77 L395.50,30.84 L396.00,30.90 L396.50,30.97 L397.00,31.04 L397.50,31.11 L398.00,31.17 L398.50,31.23 L399.00,31.29 L399.50,31.35 L400.00,31.41 L400.50,31.46 L401.00,31.52 L401.50,31.57 L402.00,31.62 L402.50,31.67 L403.00,31.72 L403.50,31.76 L404.00,31.81 L404.50,31.86 L405.00,31.90 L405.50,31.94 L406.00,31.99 L406.50,32.03 L407.00,32.07 L407.50,32.11 L408.00,32.15 L408.50,32.19 L409.00,32.22 L409.50,32.26 L410.00,32.30 L410.50,32.34 L411.00,32.37 L411.50,32.41 L412.00,32.44 L412.50,32.48 L413.00,32.51 L413.50,32.54 L414.00,32.57 L414.50,32.60 L415.00,32.63 L415.50,32.66 L416.00,32.69 L416.50,32.72 L417.00,32.75 L417.50,32.78 L418.00,32.80 L418.50,32.83 L419.00,32.86 L419.50,32.88 L420.00,32.91 L420.50,32.93 L421.00,32.96 L421.50,32.98 L422.00,33.00 L422.50,33.03 L423.00,33.05 L423.50,33.07 L424.00,33.09 L424.50,33.11 L425.00,33.13 L425.50,33.14 L426.00,33.16 L426.50,33.18 L427.00,33.19 L427.50,33.20 L428.00,33.21 L428.50,33.23 L429.00,33.24 L429.50,33.25 L430.00,33.25 L430.50,33.26 L431.00,33.27 L431.50,33.28 L432.00,33.28 L432.50,33.29 L433.00,33.29 L433.50,33.29 L434.00,33.30 L434.50,33.30 L435.00,33.30 L435.50,33.30 L436.00,33.29 L436.50,33.28 L437.00,33.26 L437.50,33.25 L438.00,33.23 L438.50,33.20 L439.00,33.17 L439.50,33.14 L440.00,33.11 L440.50,33.07 L441.00,33.03 L441.50,32.98 L442.00,32.94 L442.50,32.89 L443.00,32.84 L443.50,32.78 L444.00,32.72 L444.50,32.66 L445.00,32.60 L445.50,32.53 L446.00,32.47 L446.50,32.40 L447.00,32.33 L447.50,32.25 L448.00,32.17 L448.50,32.09 L449.00,32.01 L449.50,31.93 L450.00,31.84 L450.50,31.75 L451.00,31.65 L451.50,31.56 L452.00,31.45 L452.50,31.35 L453.00,31.24 L453.50,31.13 L454.00,31.02 L454.50,30.90 L455.00,30.77 L455.50,30.65 L456.00,30.52 L456.50,30.38 L457.00,30.24 L457.50,30.10 L458.00,29.96 L458.50,29.82 L459.00,29.68 L459.50,29.54 L460.00,29.40 L460.50,29.25 L461.00,29.11 L461.50,28.96 L462.00,28.81 L462.50,28.66 L463.00,28.51 L463.50,28.36 L464.00,28.21 L464.50,28.06 L465.00,27.90 L465.50,27.74 L466.00,27.59 L466.50,27.43 L467.00,27.27 L467.50,27.11 L468.00,26.96 L468.50,26.80 L469.00,26.64 L469.50,26.48 L470.00,26.33 L470.50,26.17 L471.00,26.01 L471.50,25.86 L472.00,25.70 L472.50,25.54 L473.00,25.39 L473.50,25.23 L474.00,25.08 L474.50,24.92 L475.00,24.77 L475.50,24.61 L476.00,24.45 L476.50,24.30 L477.00,24.15 L477.50,23.99 L478.00,23.84 L478.50,23.68 L479.00,23.53 L479.50,23.37 L480.00,23.22 L480.50,23.06 L481.00,22.91 L481.50,22.75 L482.00,22.60 L482.50,22.45 L483.00,22.29 L483.50,22.14 L484.00,21.99 L484.50,21.85 L485.00,21.70 L485.50,21.55 L486.00,21.40 L486.50,21.26 L487.00,21.11 L487.50,20.96 L488.00,20.82 L488.50,20.67 L489.00,20.52 L489.50,20.37 L490.00,20.22 L490.50,20.07 L491.00,19.91 L491.50,19.74 L492.00,19.55 L492.50,19.36 L493.00,19.16 L493.50,18.96 L494.00,18.75 L494.50,18.53 L495.00,18.32 L495.50,18.10 L496.00,17.89 L496.50,17.68 L497.00,17.47 L497.50,17.26 L498.00,17.06 L498.50,16.87 L499.00,16.69 L499.50,16.51 L500.00,16.34 L500.50,16.16 L501.00,16.00 L501.50,15.85 L502.00,15.70 L502.50,15.57 L503.00,15.45 L503.50,15.35 L504.00,15.26 L504.50,15.19 L505.00,15.13 L505.50,15.10 L506.00,15.09 L506.50,15.11 L507.00,15.14 L507.50,15.19 L508.00,15.25 L508.50,15.32 L509.00,15.41 L509.50,15.51 L510.00,15.61 L510.50,15.73 L511.00,15.86 L511.50,16.00 L512.00,16.14 L512.50,16.29 L513.00,16.44 L513.50,16.60 L514.00,16.77 L514.50,16.93 L515.00,17.10 L515.50,17.26 L516.00,17.43 L516.50,17.60 L517.00,17.76 L517.50,17.93 L518.00,18.10 L518.50,18.27 L519.00,18.44 L519.50,18.61 L520.00,18.78 L520.50,18.94 L521.00,19.11 L521.50,19.28 L522.00,19.45 L522.50,19.62 L523.00,19.78 L523.50,19.95 L524.00,20.12 L524.50,20.28 L525.00,20.45 L525.50,20.61 L526.00,20.77 L526.50,20.93 L527.00,21.09 L527.50,21.25 L528.00,21.41 L528.50,21.57 L529.00,21.72 L529.50,21.88 L530.00,22.03 L530.50,22.19 L531.00,22.34 L531.50,22.49 L532.00,22.65 L532.50,22.80 L533.00,22.96 L533.50,23.11 L534.00,23.26 L534.50,23.42 L535.00,23.57 L535.50,23.73 L536.00,23.88 L536.50,24.04 L537.00,24.19 L537.50,24.35 L538.00,24.51 L538.50,24.67 L539.00,24.83 L539.50,25.00 L540.00,25.18 L540.50,25.36 L541.00,25.55 L541.50,25.74 L542.00,25.95 L542.50,26.15 L543.00,26.36 L543.50,26.58 L544.00,26.79 L544.50,27.01 L545.00,27.23 L545.50,27.46 L546.00,27.68 L546.50,27.90 L547.00,28.13 L547.50,28.39 L548.00,28.66 L548.50,28.95 L549.00,29.24 L549.50,29.55 L550.00,29.86 L550.50,30.18 L551.00,30.49 L551.50,30.81 L552.00,31.11 L552.50,31.41 L553.00,31.69 L553.50,31.95 L554.00,32.20 L554.50,32.43 L555.00,32.63 L555.50,32.82 L556.00,32.99 L556.50,33.13 L557.00,33.26 L557.50,33.37 L558.00,33.46 L558.50,33.52 L559.00,33.57 L559.50,33.60 L560.00,33.61 L560.50,33.59 L561.00,33.57 L561.50,33.53 L562.00,33.48 L562.50,33.42 L563.00,33.35 L563.50,33.27 L564.00,33.17 L564.50,33.07 L565.00,32.96 L565.50,32.83 L566.00,32.70 L566.50,32.55 L567.00,32.40 L567.50,32.23 L568.00,32.06 L568.50,31.89 L569.00,31.72 L569.50,31.54 L570.00,31.35 L570.50,31.16 L571.00,30.97 L571.50,30.76 L572.00,30.55 L572.50,30.32 L573.00,30.08 L573.50,29.83 L574.00,29.57 L574.50,29.29 L575.00,29.00 L575.50,28.70 L576.00,28.40 L576.50,28.10 L577.00,27.79 L577.50,27.47 L578.00,27.14 L578.50,26.82 L579.00,26.48 L579.50,26.14 L580.00,25.80 L580.50,25.45 L581.00,25.09 L581.50,24.73 L582.00,24.36 L582.50,23.98 L583.00,23.61 L583.50,23.23 L584.00,22.85 L584.50,22.47 L585.00,22.10 L585.50,21.73 L586.00,21.37 L586.50,21.01 L587.00,20.66 L587.50,20.33 L588.00,20.01 L588.50,19.70 L589.00,19.41 L589.50,19.13 L590.00,18.85 L590.50,18.58 L591.00,18.32 L591.50,18.06 L592.00,17.80 L592.50,17.55 L593.00,17.32 L593.50,17.12 L594.00,16.93 L594.50,16.77 L595.00,16.63 L595.50,16.51 L596.00,16.42 L596.50,16.36 L597.00,16.31 L597.50,16.30 L598.00,16.31 L598.50,16.36 L599.00,16.45 L599.50,16.57 L600.00,16.73 L600.50,16.92 L601.00,17.15 L601.50,17.41 L602.00,17.71 L602.50,18.04 L603.00,18.40 L603.50,18.79 L604.00,19.20 L604.50,19.62 L605.00,20.04 L605.50,20.47 L606.00,20.89 L606.50,21.29 L607.00,21.68 L607.50,22.05 L608.00,22.42 L608.50,22.79 L609.00,23.16 L609.50,23.52 L610.00,23.88 L610.50,24.24 L611.00,24.59 L611.50,24.95 L612.00,25.30 L612.50,25.65 L613.00,25.99 L613.50,26.34 L614.00,26.68 L614.50,27.02 L615.00,27.36 L615.50,27.70 L616.00,28.03 L616.50,28.37 L617.00,28.70 L617.50,29.03 L618.00,29.34 L618.50,29.64 L619.00,29.93 L619.50,30.20 L620.00,30.45 L620.50,30.69 L621.00,30.91 L621.50,31.12 L622.00,31.30 L622.50,31.47 L623.00,31.61 L623.50,31.74 L624.00,31.84 L624.50,31.92 L625.00,31.97 L625.50,32.00 L626.00,32.00 L626.50,31.96 L627.00,31.89 L627.50,31.79 L628.00,31.65 L628.50,31.49 L629.00,31.31 L629.50,31.10 L630.00,30.87 L630.50,30.61 L631.00,30.34 L631.50,30.06 L632.00,29.76 L632.50,29.45 L633.00,29.13 L633.50,28.80 L634.00,28.46 L634.50,28.11 L635.00,27.73 L635.50,27.34 L636.00,26.94 L636.50,26.52 L637.00,26.09 L637.50,25.66 L638.00,25.22 L638.50,24.79 L639.00,24.35 L639.50,23.92 L640.00,23.50 L640.50,23.09 L641.00,22.69 L641.50,22.30 L642.00,21.94 L642.50,21.59 L643.00,21.22 L643.50,20.85 L644.00,20.47 L644.50,20.11 L645.00,19.78 L645.50,19.48 L646.00,19.22 L646.50,19.02 L647.00,18.89 L647.50,18.84 L648.00,18.88 L648.50,19.01 L649.00,19.26 L649.50,19.55 L650.00,19.85 L650.50,20.16 L651.00,20.48 L651.50,20.81 L652.00,21.14 L652.50,21.47 L653.00,21.81 L653.50,22.14 L654.00,22.48 L654.50,22.80 L655.00,23.12 L655.50,23.44 L656.00,23.75 L656.50,24.05 L657.00,24.36 L657.50,24.67 L658.00,24.97 L658.50,25.28 L659.00,25.58 L659.50,25.89 L660.00,26.19 L660.50,26.50 L661.00,26.80 L661.50,27.10 L662.00,27.40 L662.50,27.70 L663.00,28.00 L663.50,28.30 L664.00,28.60 L664.50,28.89 L665.00,29.16 L665.50,29.42 L666.00,29.65 L666.50,29.86 L667.00,30.04 L667.50,30.19 L668.00,30.30 L668.50,30.39 L669.00,30.43 L669.50,30.43 L670.00,30.39 L670.50,30.30 L671.00,30.18 L671.50,30.03 L672.00,29.85 L672.50,29.64 L673.00,29.41 L673.50,29.15 L674.00,28.89 L674.50,28.61 L675.00,28.32 L675.50,28.02 L676.00,27.72 L676.50,27.42 L677.00,27.13 L677.50,26.84 L678.00,26.51 L678.50,26.11 L679.00,25.67 L679.50,25.19 L680.00,24.68 L680.50,24.17 L681.00,23.67 L681.50,23.18 L682.00,22.72 L682.50,22.31 L683.00,21.96 L683.50,21.68 L684.00,21.48 L684.50,21.38 L685.00,21.40 L685.50,21.50 L686.00,21.65 L686.50,21.84 L687.00,22.06 L687.50,22.31 L688.00,22.59 L688.50,22.88 L689.00,23.18 L689.50,23.50 L690.00,23.81 L690.50,24.12 L691.00,24.42 L691.50,24.70 L692.00,24.96 L692.50,25.20 L693.00,25.43 L693.50,25.67 L694.00,25.92 L694.50,26.18 L695.00,26.43 L695.50,26.68 L696.00,26.92 L696.50,27.14 L697.00,27.35 L697.50,27.53 L698.00,27.68 L698.50,27.80 L699.00,27.88 L699.50,27.92 L700.00,27.90 L700.50,27.83 L701.00,27.72 L701.50,27.58 L702.00,27.41 L702.50,27.22 L703.00,27.01 L703.50,26.80 L704.00,26.59 L704.50,26.39 L705.00,26.20 L705.50,26.00 L706.00,25.77 L706.50,25.50 L707.00,25.23 L707.50,24.95 L708.00,24.67 L708.50,24.41 L709.00,24.17 L709.50,23.97 L710.00,23.82 L710.50,23.73 L711.00,23.70 L711.50,23.73 L712.00,23.79 L712.50,23.89 L713.00,24.00 L713.50,24.14 L714.00,24.30 L714.50,24.47 L715.00,24.65 L715.50,24.82 L716.00,25.00 L716.50,25.17 L717.00,25.33 L717.50,25.48 L718.00,25.60 L718.50,25.72 L719.00,25.85 L719.50,25.99 L720.00,26.13 L720.50,26.27 L721.00,26.41 L721.50,26.53 L722.00,26.63 L722.50,26.72 L723.00,26.78 L723.50,26.81 L724.00,26.80 L724.50,26.77 L725.00,26.72 L725.50,26.65 L726.00,26.58 L726.50,26.49 L727.00,26.40 L727.50,26.30 L728.00,26.20 L728.50,26.10 L729.00,25.99 L729.50,25.89 L730.00,25.80 L730.50,25.70 L731.00,25.60 L731.50,25.50 L732.00,25.39 L732.50,25.28 L733.00,25.17 L733.50,25.07 L734.00,24.97 L734.50,24.88 L735.00,24.80 L735.50,24.75 L736.00,24.73 L736.50,24.75 L737.00,24.81 L737.50,24.88 L738.00,24.98 L738.50,25.10 L739.00,25.23 L739.50,25.37 L740.00,25.52 L740.50,25.66 L741.00,25.80 L741.50,25.93 L742.00,26.05 L742.50,26.15 L743.00,26.23 L743.50,26.28 L744.00,26.30 L744.50,26.29 L745.00,26.28 L745.50,26.26 L746.00,26.23 L746.50,26.21 L747.00,26.18 L747.50,26.15 L748.00,26.12 L748.50,26.09 L749.00,26.06 L749.50,26.03 L750.00,25.99 L750.50,25.96 L751.00,25.93 L751.50,25.91 L752.00,25.88 L752.50,25.86 L753.00,25.84 L753.50,25.82 L754.00,25.81 L754.50,25.80 L755.00,25.80 L755.50,25.80 L756.00,25.80 L756.50,25.80 L757.00,25.80 L757.50,25.80 L758.00,25.80 L758.50,25.80 L759.00,25.80 L759.50,25.80 L760.00,25.80 L760.50,25.80 L761.00,25.80 L761.50,25.80 L762.00,25.80 L762.50,25.80 L763.00,25.80 L763.50,25.80 L764.00,25.80 L764.50,25.80 L765.00,25.80 L765.50,25.80 L766.00,25.80 L766.50,25.80 L767.00,25.80 L767.50,25.80 L768.00,25.80 L768.50,25.80 L769.00,25.80 L769.50,25.80 L770.00,25.80 L770.50,25.80 L771.00,25.80 L771.50,25.80 L772.00,25.80 L772.50,25.80 L773.00,25.80 L773.50,25.80 L774.00,25.80 L774.50,25.80 L775.00,25.80 L775.50,25.80 L776.00,25.80 L776.50,25.80 L777.00,25.80 L777.50,25.80 L778.00,25.80 L778.50,25.80 L779.00,25.80 L779.50,25.80 L780.00,25.80 L780.50,25.80 L781.00,25.80 L781.50,25.80 L782.00,25.80 L782.50,25.80 L783.00,25.80 L783.50,25.80 L784.00,25.80 L784.50,25.80 L785.00,25.80 L785.50,25.80 L786.00,25.80 L786.50,25.80 L787.00,25.80 L787.50,25.80 L788.00,25.80 L788.50,25.80 L789.00,25.80 L789.50,25.80 L790.00,25.80 L790.50,25.80 L791.00,25.80 L791.50,25.80 L792.00,25.80 L792.50,25.80 L793.00,25.80 L793.50,25.80 L794.00,25.80 L794.50,25.80 L795.00,25.80 L795.50,25.80 L796.00,25.80 L796.50,25.80 L797.00,25.80 L797.50,25.80 L798.00,25.80 L798.50,25.80 L799.00,25.80 L799.50,25.80 L800.00,25.80 L800.50,25.80 L801.00,25.81 L801.50,25.83 L802.00,25.84 L802.50,25.87 L803.00,25.90 L803.50,25.93 L804.00,25.96 L804.50,26.00 L805.00,26.04 L805.50,26.08 L806.00,26.12 L806.50,26.17 L807.00,26.21 L807.50,26.26 L808.00,26.30 L808.50,26.35 L809.00,26.39 L809.50,26.44 L810.00,26.48 L810.50,26.52 L811.00,26.55 L811.50,26.59 L812.00,26.62 L812.50,26.64 L813.00,26.66 L813.50,26.68 L814.00,26.69 L814.50,26.70 L815.00,26.70 L815.50,26.70 L816.00,26.69 L816.50,26.67 L817.00,26.65 L817.50,26.63 L818.00,26.61 L818.50,26.58 L819.00,26.55 L819.50,26.52 L820.00,26.48 L820.50,26.45 L821.00,26.41 L821.50,26.37 L822.00,26.33 L822.50,26.29 L823.00,26.24 L823.50,26.20 L824.00,26.16 L824.50,26.12 L825.00,26.08 L825.50,26.04 L826.00,26.01 L826.50,25.97 L827.00,25.94 L827.50,25.91 L828.00,25.88 L828.50,25.85 L829.00,25.83 L829.50,25.81 L830.00,25.80 L830.50,25.79 L831.00,25.78 L831.50,25.76 L832.00,25.75 L832.50,25.74 L833.00,25.73 L833.50,25.72 L834.00,25.71 L834.50,25.70 L835.00,25.69 L835.50,25.68 L836.00,25.67 L836.50,25.66 L837.00,25.65 L837.50,25.64 L838.00,25.63 L838.50,25.62 L839.00,25.62 L839.50,25.61 L840.00,25.60 L840.50,25.59 L841.00,25.59 L841.50,25.58 L842.00,25.58 L842.50,25.57 L843.00,25.57 L843.50,25.56 L844.00,25.56 L844.50,25.56 L845.00,25.56 L845.50,25.55 L846.00,25.55 L846.50,25.55 L847.00,25.55 L847.50,25.55 L848.00,25.56 L848.50,25.56 L849.00,25.56 L849.50,25.56 L850.00,25.57 L850.50,25.57 L851.00,25.58 L851.50,25.58 L852.00,25.59 L852.50,25.60" stroke="#E19C24" stroke-width="2.15" stroke-dasharray="7 2.8" stroke-dashoffset="1.1"/>
<path d="M81.00,12.50 L81.50,12.50 L82.00,12.50 L82.50,12.51 L83.00,12.51 L83.50,12.51 L84.00,12.51 L84.50,12.52 L85.00,12.52 L85.50,12.52 L86.00,12.53 L86.50,12.53 L87.00,12.53 L87.50,12.54 L88.00,12.54 L88.50,12.54 L89.00,12.55 L89.50,12.55 L90.00,12.56 L90.50,12.56 L91.00,12.57 L91.50,12.57 L92.00,12.57 L92.50,12.58 L93.00,12.58 L93.50,12.59 L94.00,12.59 L94.50,12.60 L95.00,12.60 L95.50,12.61 L96.00,12.62 L96.50,12.62 L97.00,12.63 L97.50,12.63 L98.00,12.64 L98.50,12.64 L99.00,12.65 L99.50,12.66 L100.00,12.66 L100.50,12.67 L101.00,12.67 L101.50,12.68 L102.00,12.69 L102.50,12.69 L103.00,12.70 L103.50,12.71 L104.00,12.71 L104.50,12.72 L105.00,12.73 L105.50,12.73 L106.00,12.74 L106.50,12.75 L107.00,12.75 L107.50,12.76 L108.00,12.77 L108.50,12.78 L109.00,12.78 L109.50,12.79 L110.00,12.80 L110.50,12.80 L111.00,12.81 L111.50,12.82 L112.00,12.83 L112.50,12.83 L113.00,12.84 L113.50,12.85 L114.00,12.86 L114.50,12.86 L115.00,12.87 L115.50,12.88 L116.00,12.89 L116.50,12.90 L117.00,12.90 L117.50,12.91 L118.00,12.92 L118.50,12.93 L119.00,12.93 L119.50,12.94 L120.00,12.95 L120.50,12.96 L121.00,12.97 L121.50,12.97 L122.00,12.98 L122.50,12.99 L123.00,13.00 L123.50,13.01 L124.00,13.02 L124.50,13.03 L125.00,13.04 L125.50,13.05 L126.00,13.06 L126.50,13.07 L127.00,13.08 L127.50,13.09 L128.00,13.10 L128.50,13.11 L129.00,13.12 L129.50,13.13 L130.00,13.14 L130.50,13.16 L131.00,13.17 L131.50,13.18 L132.00,13.19 L132.50,13.20 L133.00,13.22 L133.50,13.23 L134.00,13.24 L134.50,13.25 L135.00,13.27 L135.50,13.28 L136.00,13.29 L136.50,13.31 L137.00,13.32 L137.50,13.33 L138.00,13.35 L138.50,13.36 L139.00,13.38 L139.50,13.39 L140.00,13.40 L140.50,13.42 L141.00,13.43 L141.50,13.45 L142.00,13.46 L142.50,13.48 L143.00,13.49 L143.50,13.51 L144.00,13.52 L144.50,13.54 L145.00,13.55 L145.50,13.57 L146.00,13.59 L146.50,13.60 L147.00,13.62 L147.50,13.63 L148.00,13.65 L148.50,13.66 L149.00,13.68 L149.50,13.70 L150.00,13.71 L150.50,13.73 L151.00,13.75 L151.50,13.76 L152.00,13.78 L152.50,13.80 L153.00,13.81 L153.50,13.83 L154.00,13.85 L154.50,13.87 L155.00,13.88 L155.50,13.90 L156.00,13.92 L156.50,13.94 L157.00,13.95 L157.50,13.97 L158.00,13.99 L158.50,14.02 L159.00,14.04 L159.50,14.06 L160.00,14.08 L160.50,14.11 L161.00,14.13 L161.50,14.16 L162.00,14.18 L162.50,14.21 L163.00,14.23 L163.50,14.26 L164.00,14.29 L164.50,14.32 L165.00,14.35 L165.50,14.38 L166.00,14.41 L166.50,14.44 L167.00,14.47 L167.50,14.51 L168.00,14.54 L168.50,14.57 L169.00,14.61 L169.50,14.64 L170.00,14.68 L170.50,14.72 L171.00,14.75 L171.50,14.79 L172.00,14.83 L172.50,14.87 L173.00,14.91 L173.50,14.95 L174.00,14.99 L174.50,15.03 L175.00,15.07 L175.50,15.12 L176.00,15.16 L176.50,15.20 L177.00,15.25 L177.50,15.29 L178.00,15.34 L178.50,15.39 L179.00,15.43 L179.50,15.48 L180.00,15.53 L180.50,15.58 L181.00,15.63 L181.50,15.68 L182.00,15.73 L182.50,15.78 L183.00,15.84 L183.50,15.89 L184.00,15.95 L184.50,16.00 L185.00,16.06 L185.50,16.11 L186.00,16.17 L186.50,16.23 L187.00,16.29 L187.50,16.35 L188.00,16.41 L188.50,16.47 L189.00,16.53 L189.50,16.59 L190.00,16.66 L190.50,16.72 L191.00,16.78 L191.50,16.85 L192.00,16.91 L192.50,16.98 L193.00,17.04 L193.50,17.11 L194.00,17.18 L194.50,17.25 L195.00,17.31 L195.50,17.38 L196.00,17.45 L196.50,17.52 L197.00,17.59 L197.50,17.66 L198.00,17.73 L198.50,17.81 L199.00,17.88 L199.50,17.95 L200.00,18.02 L200.50,18.09 L201.00,18.17 L201.50,18.24 L202.00,18.31 L202.50,18.39 L203.00,18.46 L203.50,18.54 L204.00,18.61 L204.50,18.69 L205.00,18.76 L205.50,18.84 L206.00,18.92 L206.50,18.99 L207.00,19.07 L207.50,19.15 L208.00,19.22 L208.50,19.30 L209.00,19.38 L209.50,19.46 L210.00,19.54 L210.50,19.62 L211.00,19.70 L211.50,19.78 L212.00,19.86 L212.50,19.94 L213.00,20.02 L213.50,20.11 L214.00,20.19 L214.50,20.27 L215.00,20.36 L215.50,20.44 L216.00,20.52 L216.50,20.61 L217.00,20.69 L217.50,20.78 L218.00,20.86 L218.50,20.95 L219.00,21.04 L219.50,21.12 L220.00,21.21 L220.50,21.30 L221.00,21.39 L221.50,21.47 L222.00,21.56 L222.50,21.65 L223.00,21.74 L223.50,21.83 L224.00,21.92 L224.50,22.01 L225.00,22.10 L225.50,22.19 L226.00,22.28 L226.50,22.37 L227.00,22.46 L227.50,22.55 L228.00,22.65 L228.50,22.74 L229.00,22.83 L229.50,22.92 L230.00,23.01 L230.50,23.11 L231.00,23.20 L231.50,23.29 L232.00,23.39 L232.50,23.48 L233.00,23.58 L233.50,23.67 L234.00,23.77 L234.50,23.86 L235.00,23.96 L235.50,24.06 L236.00,24.16 L236.50,24.26 L237.00,24.36 L237.50,24.46 L238.00,24.56 L238.50,24.66 L239.00,24.76 L239.50,24.87 L240.00,24.97 L240.50,25.08 L241.00,25.18 L241.50,25.29 L242.00,25.40 L242.50,25.51 L243.00,25.62 L243.50,25.73 L244.00,25.85 L244.50,25.96 L245.00,26.07 L245.50,26.19 L246.00,26.31 L246.50,26.43 L247.00,26.55 L247.50,26.67 L248.00,26.79 L248.50,26.91 L249.00,27.04 L249.50,27.16 L250.00,27.29 L250.50,27.42 L251.00,27.55 L251.50,27.68 L252.00,27.82 L252.50,27.95 L253.00,28.09 L253.50,28.23 L254.00,28.37 L254.50,28.51 L255.00,28.65 L255.50,28.79 L256.00,28.94 L256.50,29.09 L257.00,29.24 L257.50,29.39 L258.00,29.54 L258.50,29.70 L259.00,29.85 L259.50,30.01 L260.00,30.17 L260.50,30.33 L261.00,30.50 L261.50,30.66 L262.00,30.82 L262.50,30.99 L263.00,31.16 L263.50,31.33 L264.00,31.50 L264.50,31.67 L265.00,31.84 L265.50,32.01 L266.00,32.19 L266.50,32.36 L267.00,32.54 L267.50,32.71 L268.00,32.89 L268.50,33.07 L269.00,33.25 L269.50,33.43 L270.00,33.61 L270.50,33.79 L271.00,33.97 L271.50,34.15 L272.00,34.34 L272.50,34.52 L273.00,34.70 L273.50,34.89 L274.00,35.07 L274.50,35.26 L275.00,35.44 L275.50,35.62 L276.00,35.81 L276.50,35.99 L277.00,36.18 L277.50,36.36 L278.00,36.55 L278.50,36.73 L279.00,36.92 L279.50,37.10 L280.00,37.29 L280.50,37.47 L281.00,37.65 L281.50,37.84 L282.00,38.02 L282.50,38.20 L283.00,38.39 L283.50,38.57 L284.00,38.76 L284.50,38.95 L285.00,39.13 L285.50,39.32 L286.00,39.51 L286.50,39.70 L287.00,39.90 L287.50,40.09 L288.00,40.28 L288.50,40.48 L289.00,40.67 L289.50,40.87 L290.00,41.07 L290.50,41.27 L291.00,41.48 L291.50,41.68 L292.00,41.89 L292.50,42.09 L293.00,42.30 L293.50,42.51 L294.00,42.73 L294.50,42.94 L295.00,43.16 L295.50,43.38 L296.00,43.60 L296.50,43.82 L297.00,44.05 L297.50,44.29 L298.00,44.52 L298.50,44.77 L299.00,45.01 L299.50,45.26 L300.00,45.52 L300.50,45.78 L301.00,46.04 L301.50,46.30 L302.00,46.57 L302.50,46.85 L303.00,47.12 L303.50,47.40 L304.00,47.69 L304.50,47.97 L305.00,48.27 L305.50,48.56 L306.00,48.86 L306.50,49.16 L307.00,49.46 L307.50,49.77 L308.00,50.08 L308.50,50.39 L309.00,50.71 L309.50,51.03 L310.00,51.35 L310.50,51.67 L311.00,52.00 L311.50,52.33 L312.00,52.66 L312.50,52.99 L313.00,53.33 L313.50,53.67 L314.00,54.01 L314.50,54.36 L315.00,54.70 L315.50,55.05 L316.00,55.40 L316.50,55.75 L317.00,56.11 L317.50,56.46 L318.00,56.82 L318.50,57.18 L319.00,57.54 L319.50,57.90 L320.00,58.27 L320.50,58.63 L321.00,59.00 L321.50,59.37 L322.00,59.74 L322.50,60.11 L323.00,60.48 L323.50,60.85 L324.00,61.22 L324.50,61.60 L325.00,61.97 L325.50,62.35 L326.00,62.73 L326.50,63.11 L327.00,63.49 L327.50,63.88 L328.00,64.26 L328.50,64.65 L329.00,65.04 L329.50,65.43 L330.00,65.82 L330.50,66.21 L331.00,66.61 L331.50,67.01 L332.00,67.41 L332.50,67.82 L333.00,68.22 L333.50,68.63 L334.00,69.04 L334.50,69.46 L335.00,69.87 L335.50,70.29 L336.00,70.71 L336.50,71.14 L337.00,71.57 L337.50,72.00 L338.00,72.43 L338.50,72.87 L339.00,73.30 L339.50,73.73 L340.00,74.17 L340.50,74.60 L341.00,75.04 L341.50,75.47 L342.00,75.91 L342.50,76.35 L343.00,76.78 L343.50,77.22 L344.00,77.66 L344.50,78.10 L345.00,78.53 L345.50,78.97 L346.00,79.41 L346.50,79.85 L347.00,80.29 L347.50,80.73 L348.00,81.17 L348.50,81.61 L349.00,82.06 L349.50,82.50 L350.00,82.94 L350.50,83.38 L351.00,83.83 L351.50,84.27 L352.00,84.71 L352.50,85.16 L353.00,85.61 L353.50,86.05 L354.00,86.50 L354.50,86.94 L355.00,87.39 L355.50,87.84 L356.00,88.29 L356.50,88.74 L357.00,89.19 L357.50,89.64 L358.00,90.09 L358.50,90.54 L359.00,90.99 L359.50,91.44 L360.00,91.89 L360.50,92.34 L361.00,92.79 L361.50,93.24 L362.00,93.69 L362.50,94.14 L363.00,94.59 L363.50,95.04 L364.00,95.48 L364.50,95.93 L365.00,96.38 L365.50,96.83 L366.00,97.28 L366.50,97.74 L367.00,98.19 L367.50,98.64 L368.00,99.10 L368.50,99.55 L369.00,100.01 L369.50,100.47 L370.00,100.93 L370.50,101.39 L371.00,101.85 L371.50,102.32 L372.00,102.78 L372.50,103.25 L373.00,103.73 L373.50,104.20 L374.00,104.68 L374.50,105.16 L375.00,105.64 L375.50,106.12 L376.00,106.61 L376.50,107.10 L377.00,107.59 L377.50,108.09 L378.00,108.58 L378.50,109.08 L379.00,109.58 L379.50,110.07 L380.00,110.57 L380.50,111.07 L381.00,111.57 L381.50,112.07 L382.00,112.57 L382.50,113.07 L383.00,113.57 L383.50,114.08 L384.00,114.58 L384.50,115.08 L385.00,115.58 L385.50,116.08 L386.00,116.59 L386.50,117.09 L387.00,117.59 L387.50,118.09 L388.00,118.60 L388.50,119.10 L389.00,119.60 L389.50,120.10 L390.00,120.60 L390.50,121.11 L391.00,121.61 L391.50,122.11 L392.00,122.62 L392.50,123.12 L393.00,123.63 L393.50,124.13 L394.00,124.64 L394.50,125.14 L395.00,125.65 L395.50,126.15 L396.00,126.66 L396.50,127.16 L397.00,127.67 L397.50,128.17 L398.00,128.68 L398.50,129.18 L399.00,129.69 L399.50,130.19 L400.00,130.69 L400.50,131.20 L401.00,131.70 L401.50,132.20 L402.00,132.70 L402.50,133.19 L403.00,133.66 L403.50,134.13 L404.00,134.59 L404.50,135.03 L405.00,135.48 L405.50,135.91 L406.00,136.34 L406.50,136.76 L407.00,137.18 L407.50,137.59 L408.00,138.00 L408.50,138.41 L409.00,138.82 L409.50,139.23 L410.00,139.64 L410.50,140.04 L411.00,140.45 L411.50,140.85 L412.00,141.24 L412.50,141.63 L413.00,142.01 L413.50,142.38 L414.00,142.76 L414.50,143.12 L415.00,143.48 L415.50,143.83 L416.00,144.18 L416.50,144.52 L417.00,144.85 L417.50,145.18 L418.00,145.50 L418.50,145.82 L419.00,146.13 L419.50,146.43 L420.00,146.73 L420.50,147.01 L421.00,147.29 L421.50,147.55 L422.00,147.80 L422.50,148.04 L423.00,148.26 L423.50,148.48 L424.00,148.68 L424.50,148.88 L425.00,149.06 L425.50,149.24 L426.00,149.40 L426.50,149.56 L427.00,149.72 L427.50,149.87 L428.00,150.01 L428.50,150.15 L429.00,150.28 L429.50,150.40 L430.00,150.51 L430.50,150.61 L431.00,150.70 L431.50,150.78 L432.00,150.85 L432.50,150.90 L433.00,150.95 L433.50,150.99 L434.00,151.03 L434.50,151.05 L435.00,151.06 L435.50,151.06 L436.00,151.05 L436.50,151.02 L437.00,150.98 L437.50,150.93 L438.00,150.87 L438.50,150.79 L439.00,150.71 L439.50,150.61 L440.00,150.49 L440.50,150.37 L441.00,150.24 L441.50,150.09 L442.00,149.93 L442.50,149.76 L443.00,149.57 L443.50,149.37 L444.00,149.14 L444.50,148.90 L445.00,148.63 L445.50,148.35 L446.00,148.05 L446.50,147.73 L447.00,147.39 L447.50,147.03 L448.00,146.65 L448.50,146.25 L449.00,145.83 L449.50,145.40 L450.00,144.95 L450.50,144.49 L451.00,144.02 L451.50,143.54 L452.00,143.05 L452.50,142.54 L453.00,142.03 L453.50,141.50 L454.00,140.97 L454.50,140.42 L455.00,139.86 L455.50,139.30 L456.00,138.72 L456.50,138.14 L457.00,137.54 L457.50,136.93 L458.00,136.32 L458.50,135.69 L459.00,135.06 L459.50,134.42 L460.00,133.78 L460.50,133.13 L461.00,132.48 L461.50,131.82 L462.00,131.16 L462.50,130.50 L463.00,129.84 L463.50,129.17 L464.00,128.49 L464.50,127.79 L465.00,127.06 L465.50,126.32 L466.00,125.54 L466.50,124.73 L467.00,123.88 L467.50,122.98 L468.00,122.04 L468.50,121.05 L469.00,120.00 L469.50,118.89 L470.00,117.70 L470.50,116.46 L471.00,115.17 L471.50,113.83 L472.00,112.45 L472.50,111.03 L473.00,109.60 L473.50,108.14 L474.00,106.67 L474.50,105.20 L475.00,103.72 L475.50,102.26 L476.00,100.81 L476.50,99.39 L477.00,97.99 L477.50,96.63 L478.00,95.31 L478.50,94.05 L479.00,92.82 L479.50,91.62 L480.00,90.43 L480.50,89.25 L481.00,88.09 L481.50,86.93 L482.00,85.78 L482.50,84.63 L483.00,83.48 L483.50,82.33 L484.00,81.17 L484.50,80.01 L485.00,78.84 L485.50,77.66 L486.00,76.46 L486.50,75.25 L487.00,74.02 L487.50,72.76 L488.00,71.48 L488.50,70.17 L489.00,68.82 L489.50,67.44 L490.00,66.04 L490.50,64.63 L491.00,63.22 L491.50,61.82 L492.00,60.42 L492.50,59.05 L493.00,57.71 L493.50,56.41 L494.00,55.15 L494.50,53.91 L495.00,52.69 L495.50,51.48 L496.00,50.29 L496.50,49.10 L497.00,47.92 L497.50,46.74 L498.00,45.56 L498.50,44.40 L499.00,43.26 L499.50,42.13 L500.00,41.03 L500.50,39.94 L501.00,38.88 L501.50,37.83 L502.00,36.80 L502.50,35.82 L503.00,34.95 L503.50,34.18 L504.00,33.51 L504.50,32.93 L505.00,32.43 L505.50,32.02 L506.00,31.69 L506.50,31.42 L507.00,31.22 L507.50,31.09 L508.00,31.00 L508.50,30.97 L509.00,30.99 L509.50,31.07 L510.00,31.20 L510.50,31.39 L511.00,31.63 L511.50,31.93 L512.00,32.28 L512.50,32.68 L513.00,33.14 L513.50,33.65 L514.00,34.22 L514.50,34.81 L515.00,35.41 L515.50,36.03 L516.00,36.67 L516.50,37.33 L517.00,38.03 L517.50,38.75 L518.00,39.50 L518.50,40.29 L519.00,41.13 L519.50,42.00 L520.00,42.93 L520.50,43.90 L521.00,44.91 L521.50,45.95 L522.00,47.01 L522.50,48.08 L523.00,49.17 L523.50,50.28 L524.00,51.41 L524.50,52.55 L525.00,53.71 L525.50,54.88 L526.00,56.06 L526.50,57.26 L527.00,58.47 L527.50,59.69 L528.00,60.90 L528.50,62.12 L529.00,63.36 L529.50,64.63 L530.00,65.93 L530.50,67.29 L531.00,68.71 L531.50,70.21 L532.00,71.80 L532.50,73.47 L533.00,75.19 L533.50,76.96 L534.00,78.76 L534.50,80.60 L535.00,82.46 L535.50,84.34 L536.00,86.22 L536.50,88.10 L537.00,89.97 L537.50,91.82 L538.00,93.65 L538.50,95.45 L539.00,97.20 L539.50,98.92 L540.00,100.62 L540.50,102.31 L541.00,103.99 L541.50,105.66 L542.00,107.33 L542.50,108.99 L543.00,110.65 L543.50,112.32 L544.00,114.00 L544.50,115.69 L545.00,117.39 L545.50,119.11 L546.00,120.87 L546.50,122.76 L547.00,124.75 L547.50,126.77 L548.00,128.79 L548.50,130.75 L549.00,132.60 L549.50,134.34 L550.00,135.99 L550.50,137.57 L551.00,139.08 L551.50,140.53 L552.00,141.91 L552.50,143.23 L553.00,144.50 L553.50,145.72 L554.00,146.90 L554.50,148.03 L555.00,149.10 L555.50,150.10 L556.00,151.06 L556.50,151.96 L557.00,152.81 L557.50,153.61 L558.00,154.36 L558.50,155.07 L559.00,155.74 L559.50,156.37 L560.00,156.94 L560.50,157.45 L561.00,157.90 L561.50,158.29 L562.00,158.62 L562.50,158.90 L563.00,159.12 L563.50,159.27 L564.00,159.38 L564.50,159.41 L565.00,159.36 L565.50,159.22 L566.00,159.00 L566.50,158.70 L567.00,158.33 L567.50,157.89 L568.00,157.40 L568.50,156.85 L569.00,156.25 L569.50,155.60 L570.00,154.86 L570.50,154.04 L571.00,153.12 L571.50,152.13 L572.00,151.06 L572.50,149.91 L573.00,148.69 L573.50,147.40 L574.00,146.04 L574.50,144.62 L575.00,143.10 L575.50,141.46 L576.00,139.71 L576.50,137.84 L577.00,135.85 L577.50,133.73 L578.00,131.48 L578.50,129.10 L579.00,126.58 L579.50,123.88 L580.00,120.77 L580.50,117.38 L581.00,113.99 L581.50,110.84 L582.00,108.13 L582.50,105.76 L583.00,103.50 L583.50,101.15 L584.00,98.50 L584.50,95.52 L585.00,92.35 L585.50,89.06 L586.00,85.72 L586.50,82.37 L587.00,79.10 L587.50,75.95 L588.00,73.00 L588.50,70.20 L589.00,67.47 L589.50,64.79 L590.00,62.17 L590.50,59.58 L591.00,57.03 L591.50,54.51 L592.00,52.00 L592.50,49.54 L593.00,47.17 L593.50,44.87 L594.00,42.65 L594.50,40.50 L595.00,38.43 L595.50,36.43 L596.00,34.50 L596.50,32.79 L597.00,31.45 L597.50,30.43 L598.00,29.70 L598.50,29.25 L599.00,29.03 L599.50,29.01 L600.00,29.17 L600.50,29.52 L601.00,30.09 L601.50,30.90 L602.00,31.97 L602.50,33.33 L603.00,35.00 L603.50,36.87 L604.00,38.82 L604.50,40.84 L605.00,42.93 L605.50,45.09 L606.00,47.33 L606.50,49.63 L607.00,52.00 L607.50,54.41 L608.00,56.84 L608.50,59.31 L609.00,61.85 L609.50,64.47 L610.00,67.19 L610.50,70.03 L611.00,73.02 L611.50,76.23 L612.00,79.64 L612.50,83.20 L613.00,86.86 L613.50,90.58 L614.00,94.32 L614.50,98.02 L615.00,101.64 L615.50,105.13 L616.00,108.45 L616.50,111.67 L617.00,114.83 L617.50,117.92 L618.00,120.94 L618.50,123.86 L619.00,126.70 L619.50,129.43 L620.00,132.05 L620.50,134.56 L621.00,136.92 L621.50,139.02 L622.00,140.86 L622.50,142.47 L623.00,143.90 L623.50,145.19 L624.00,146.38 L624.50,147.50 L625.00,148.52 L625.50,149.38 L626.00,150.07 L626.50,150.58 L627.00,150.90 L627.50,151.03 L628.00,150.97 L628.50,150.73 L629.00,150.30 L629.50,149.69 L630.00,148.90 L630.50,147.93 L631.00,146.78 L631.50,145.45 L632.00,143.93 L632.50,142.22 L633.00,140.33 L633.50,138.26 L634.00,136.00 L634.50,133.56 L635.00,130.94 L635.50,128.17 L636.00,125.24 L636.50,122.18 L637.00,118.98 L637.50,115.66 L638.00,112.24 L638.50,108.72 L639.00,104.97 L639.50,100.80 L640.00,96.35 L640.50,91.75 L641.00,87.17 L641.50,82.73 L642.00,78.60 L642.50,74.90 L643.00,71.80 L643.50,69.15 L644.00,66.69 L644.50,64.38 L645.00,62.17 L645.50,60.00 L646.00,57.86 L646.50,55.76 L647.00,53.72 L647.50,51.74 L648.00,49.83 L648.50,48.21 L649.00,47.04 L649.50,46.36 L650.00,46.22 L650.50,46.59 L651.00,47.42 L651.50,48.65 L652.00,50.20 L652.50,51.93 L653.00,53.73 L653.50,55.60 L654.00,57.55 L654.50,59.58 L655.00,61.66 L655.50,63.76 L656.00,65.98 L656.50,68.42 L657.00,71.20 L657.50,74.31 L658.00,77.61 L658.50,81.06 L659.00,84.61 L659.50,88.25 L660.00,91.93 L660.50,95.62 L661.00,99.28 L661.50,102.90 L662.00,106.42 L662.50,109.84 L663.00,113.21 L663.50,116.51 L664.00,119.75 L664.50,122.92 L665.00,126.01 L665.50,129.00 L666.00,131.64 L666.50,133.71 L667.00,135.27 L667.50,136.37 L668.00,137.07 L668.50,137.43 L669.00,137.50 L669.50,137.35 L670.00,137.03 L670.50,136.51 L671.00,135.77 L671.50,134.79 L672.00,133.55 L672.50,132.02 L673.00,130.18 L673.50,128.00 L674.00,125.60 L674.50,123.10 L675.00,120.51 L675.50,117.83 L676.00,115.05 L676.50,112.18 L677.00,109.21 L677.50,106.13 L678.00,102.85 L678.50,99.43 L679.00,95.93 L679.50,92.41 L680.00,88.94 L680.50,85.58 L681.00,82.39 L681.50,79.43 L682.00,76.88 L682.50,74.71 L683.00,72.81 L683.50,71.07 L684.00,69.44 L684.50,68.07 L685.00,67.14 L685.50,66.80 L686.00,67.12 L686.50,68.02 L687.00,69.39 L687.50,71.11 L688.00,72.94 L688.50,74.90 L689.00,77.05 L689.50,79.48 L690.00,82.17 L690.50,84.98 L691.00,87.88 L691.50,90.84 L692.00,93.83 L692.50,96.83 L693.00,99.81 L693.50,102.73 L694.00,105.59 L694.50,108.34 L695.00,111.00 L695.50,113.49 L696.00,115.70 L696.50,117.51 L697.00,118.92 L697.50,120.03 L698.00,120.94 L698.50,121.76 L699.00,122.47 L699.50,122.98 L700.00,123.20 L700.50,123.06 L701.00,122.60 L701.50,121.92 L702.00,121.09 L702.50,120.13 L703.00,118.99 L703.50,117.62 L704.00,115.97 L704.50,113.96 L705.00,111.59 L705.50,109.00 L706.00,106.30 L706.50,103.35 L707.00,100.07 L707.50,96.67 L708.00,93.39 L708.50,90.43 L709.00,87.97 L709.50,85.94 L710.00,84.34 L710.50,83.15 L711.00,82.34 L711.50,81.91 L712.00,81.82 L712.50,82.07 L713.00,82.49 L713.50,83.02 L714.00,83.67 L714.50,84.48 L715.00,85.45 L715.50,86.61 L716.00,87.97 L716.50,89.55 L717.00,91.30 L717.50,93.08 L718.00,94.91 L718.50,96.81 L719.00,98.81 L719.50,100.88 L720.00,102.95 L720.50,105.00 L721.00,106.97 L721.50,108.82 L722.00,110.50 L722.50,111.81 L723.00,112.73 L723.50,113.46 L724.00,114.13 L724.50,114.56 L725.00,114.52 L725.50,114.02 L726.00,113.20 L726.50,112.22 L727.00,111.10 L727.50,109.80 L728.00,108.37 L728.50,106.86 L729.00,105.27 L729.50,103.46 L730.00,101.52 L730.50,99.70 L731.00,98.06 L731.50,96.55 L732.00,95.18 L732.50,93.95 L733.00,92.89 L733.50,92.02 L734.00,91.34 L734.50,90.87 L735.00,90.66 L735.50,90.78 L736.00,91.17 L736.50,91.80 L737.00,92.62 L737.50,93.56 L738.00,94.56 L738.50,95.64 L739.00,96.79 L739.50,98.04 L740.00,99.49 L740.50,101.20 L741.00,102.84 L741.50,104.15 L742.00,105.22 L742.50,106.02 L743.00,106.51 L743.50,106.62 L744.00,106.43 L744.50,106.13 L745.00,105.73 L745.50,105.24 L746.00,104.66 L746.50,104.00 L747.00,103.27 L747.50,102.48 L748.00,101.69 L748.50,100.92 L749.00,100.23 L749.50,99.55 L750.00,98.89 L750.50,98.27 L751.00,97.68 L751.50,97.15 L752.00,96.69 L752.50,96.31 L753.00,96.03 L753.50,95.85 L754.00,95.80 L754.50,95.88 L755.00,96.10 L755.50,96.43 L756.00,96.84 L756.50,97.33 L757.00,97.86 L757.50,98.43 L758.00,99.00 L758.50,99.62 L759.00,100.31 L759.50,101.03 L760.00,101.74 L760.50,102.41 L761.00,103.00 L761.50,103.49 L762.00,103.87 L762.50,104.10 L763.00,104.16 L763.50,104.00 L764.00,103.65 L764.50,103.17 L765.00,102.61 L765.50,102.02 L766.00,101.44 L766.50,100.92 L767.00,100.50 L767.50,100.13 L768.00,99.74 L768.50,99.39 L769.00,99.09 L769.50,98.88 L770.00,98.80 L770.50,98.81 L771.00,98.85 L771.50,98.92 L772.00,99.01 L772.50,99.11 L773.00,99.21 L773.50,99.32 L774.00,99.43 L774.50,99.53 L775.00,99.61 L775.50,99.67 L776.00,99.71 L776.50,99.73 L777.00,99.74 L777.50,99.76 L778.00,99.76 L778.50,99.77 L779.00,99.77 L779.50,99.76 L780.00,99.76 L780.50,99.75 L781.00,99.74 L781.50,99.72 L782.00,99.71 L782.50,99.69 L783.00,99.67 L783.50,99.65 L784.00,99.63 L784.50,99.62 L785.00,99.60 L785.50,99.58 L786.00,99.56 L786.50,99.55 L787.00,99.53 L787.50,99.52 L788.00,99.52 L788.50,99.51 L789.00,99.51 L789.50,99.51 L790.00,99.51 L790.50,99.52 L791.00,99.53 L791.50,99.55 L792.00,99.58 L792.50,99.61 L793.00,99.64 L793.50,99.68 L794.00,99.73 L794.50,99.79 L795.00,99.85 L795.50,99.92 L796.00,100.00 L796.50,100.08 L797.00,100.18 L797.50,100.28 L798.00,100.39 L798.50,100.49 L799.00,100.60 L799.50,100.71 L800.00,100.82 L800.50,100.93 L801.00,101.05 L801.50,101.16 L802.00,101.27 L802.50,101.39 L803.00,101.50 L803.50,101.62 L804.00,101.74 L804.50,101.85 L805.00,101.97 L805.50,102.08 L806.00,102.20 L806.50,102.31 L807.00,102.42 L807.50,102.53 L808.00,102.64 L808.50,102.75 L809.00,102.87 L809.50,102.98 L810.00,103.09 L810.50,103.20 L811.00,103.31 L811.50,103.42 L812.00,103.53 L812.50,103.63 L813.00,103.74 L813.50,103.84 L814.00,103.94 L814.50,104.04 L815.00,104.14 L815.50,104.24 L816.00,104.33 L816.50,104.42 L817.00,104.44 L817.50,104.38 L818.00,104.25 L818.50,104.06 L819.00,103.82 L819.50,103.54 L820.00,103.24 L820.50,102.92 L821.00,102.60 L821.50,102.29 L822.00,102.00 L822.50,101.73 L823.00,101.51 L823.50,101.35 L824.00,101.24 L824.50,101.13 L825.00,101.02 L825.50,100.92 L826.00,100.82 L826.50,100.72 L827.00,100.62 L827.50,100.53 L828.00,100.44 L828.50,100.35 L829.00,100.27 L829.50,100.19 L830.00,100.11 L830.50,100.04 L831.00,99.98 L831.50,99.92 L832.00,99.86 L832.50,99.82 L833.00,99.78 L833.50,99.74 L834.00,99.72 L834.50,99.70 L835.00,99.68 L835.50,99.67 L836.00,99.66 L836.50,99.65 L837.00,99.64 L837.50,99.63 L838.00,99.63 L838.50,99.63 L839.00,99.63 L839.50,99.63 L840.00,99.64 L840.50,99.64 L841.00,99.65 L841.50,99.66 L842.00,99.68 L842.50,99.70 L843.00,99.72 L843.50,99.74 L844.00,99.76 L844.50,99.79 L845.00,99.82 L845.50,99.85 L846.00,99.89 L846.50,99.92 L847.00,99.96 L847.50,100.01 L848.00,100.05 L848.50,100.10 L849.00,100.15 L849.50,100.21 L850.00,100.27 L850.50,100.33 L851.00,100.39 L851.50,100.46 L852.00,100.53 L852.50,100.60" stroke="#8FB032" stroke-width="2.15" stroke-dasharray="7 2.8" stroke-dashoffset="1.1"/>
</g>
<path d="M81.00,236.3 v-7.0 M81.00,4.75 v7.0 M260.73,236.3 v-7.0 M260.73,4.75 v7.0 M338.13,236.3 v-7.0 M338.13,4.75 v7.0 M517.86,236.3 v-7.0 M517.86,4.75 v7.0 M595.27,236.3 v-7.0 M595.27,4.75 v7.0 M775.00,236.3 v-7.0 M775.00,4.75 v7.0 M852.40,236.3 v-7.0 M852.40,4.75 v7.0 M158.40,236.3 v-4.2 M158.40,4.75 v4.2 M203.68,236.3 v-4.2 M203.68,4.75 v4.2 M235.81,236.3 v-4.2 M235.81,4.75 v4.2 M281.09,236.3 v-4.2 M281.09,4.75 v4.2 M298.30,236.3 v-4.2 M298.30,4.75 v4.2 M313.21,236.3 v-4.2 M313.21,4.75 v4.2 M326.37,236.3 v-4.2 M326.37,4.75 v4.2 M415.54,236.3 v-4.2 M415.54,4.75 v4.2 M460.82,236.3 v-4.2 M460.82,4.75 v4.2 M492.94,236.3 v-4.2 M492.94,4.75 v4.2 M538.22,236.3 v-4.2 M538.22,4.75 v4.2 M555.44,236.3 v-4.2 M555.44,4.75 v4.2 M570.35,236.3 v-4.2 M570.35,4.75 v4.2 M583.50,236.3 v-4.2 M583.50,4.75 v4.2 M672.67,236.3 v-4.2 M672.67,4.75 v4.2 M717.95,236.3 v-4.2 M717.95,4.75 v4.2 M750.08,236.3 v-4.2 M750.08,4.75 v4.2 M795.36,236.3 v-4.2 M795.36,4.75 v4.2 M812.57,236.3 v-4.2 M812.57,4.75 v4.2 M827.48,236.3 v-4.2 M827.48,4.75 v4.2 M840.63,236.3 v-4.2 M840.63,4.75 v4.2" stroke="#c2c2c2" stroke-width="0.8" fill="none"/>
<path d="M81.0,229.52 h3.0 M81.0,222.92 h3.0 M81.0,216.31 h3.0 M81.0,209.70 h5.0 M81.0,203.09 h3.0 M81.0,196.48 h3.0 M81.0,189.88 h3.0 M81.0,183.27 h3.0 M81.0,176.66 h5.0 M81.0,170.05 h3.0 M81.0,163.44 h3.0 M81.0,156.84 h3.0 M81.0,150.23 h3.0 M81.0,143.62 h5.0 M81.0,137.01 h3.0 M81.0,130.40 h3.0 M81.0,123.80 h3.0 M81.0,117.19 h3.0 M81.0,110.58 h5.0 M81.0,103.97 h3.0 M81.0,97.36 h3.0 M81.0,90.76 h3.0 M81.0,84.15 h3.0 M81.0,77.54 h5.0 M81.0,70.93 h3.0 M81.0,64.32 h3.0 M81.0,57.72 h3.0 M81.0,51.11 h3.0 M81.0,44.50 h5.0 M81.0,37.89 h3.0 M81.0,31.28 h3.0 M81.0,24.68 h3.0 M81.0,18.07 h3.0 M81.0,11.46 h5.0" stroke="#6e6e6e" stroke-width="1" fill="none"/>
<path d="M852.4,229.52 h-3.0 M852.4,222.92 h-3.0 M852.4,216.31 h-3.0 M852.4,209.70 h-5.0 M852.4,203.09 h-3.0 M852.4,196.48 h-3.0 M852.4,189.88 h-3.0 M852.4,183.27 h-3.0 M852.4,176.66 h-5.0 M852.4,170.05 h-3.0 M852.4,163.44 h-3.0 M852.4,156.84 h-3.0 M852.4,150.23 h-3.0 M852.4,143.62 h-5.0 M852.4,137.01 h-3.0 M852.4,130.40 h-3.0 M852.4,123.80 h-3.0 M852.4,117.19 h-3.0 M852.4,110.58 h-5.0 M852.4,103.97 h-3.0 M852.4,97.36 h-3.0 M852.4,90.76 h-3.0 M852.4,84.15 h-3.0 M852.4,77.54 h-5.0 M852.4,70.93 h-3.0 M852.4,64.32 h-3.0 M852.4,57.72 h-3.0 M852.4,51.11 h-3.0 M852.4,44.50 h-5.0 M852.4,37.89 h-3.0 M852.4,31.28 h-3.0 M852.4,24.68 h-3.0 M852.4,18.07 h-3.0 M852.4,11.46 h-5.0" stroke="#3a3a3a" stroke-width="1" fill="none"/>
<path d="M81.0,236.3 V4.75 H852.4" stroke="#7a7a7a" stroke-width="1.5" fill="none" stroke-linecap="square"/>
<path d="M81.0,236.3 H852.4 V4.75" stroke="#2c2c2c" stroke-width="1.12" fill="none" stroke-linecap="square"/>
<g font-family="Liberation Serif, serif" font-size="17" fill="#6c6c6c">
<text x="76.3" y="14.61" text-anchor="end">1.000</text>
<text x="76.3" y="47.65" text-anchor="end">0.995</text>
<text x="76.3" y="80.69" text-anchor="end">0.990</text>
<text x="76.3" y="113.73" text-anchor="end">0.985</text>
<text x="76.3" y="146.77" text-anchor="end">0.980</text>
<text x="76.3" y="179.81" text-anchor="end">0.975</text>
<text x="76.3" y="212.85" text-anchor="end">0.970</text>
<text x="80.30" y="252.1" text-anchor="middle">0.001</text>
<text x="260.03" y="252.1" text-anchor="middle">0.005</text>
<text x="337.43" y="252.1" text-anchor="middle">0.010</text>
<text x="517.16" y="252.1" text-anchor="middle">0.050</text>
<text x="594.57" y="252.1" text-anchor="middle">0.100</text>
<text x="774.30" y="252.1" text-anchor="middle">0.500</text>
<text x="851.70" y="252.1" text-anchor="middle">1</text>
<text x="431.2" y="280.85"><tspan font-style="italic">k</tspan><tspan dx="1.2"> [Mpc</tspan><tspan font-size="11.5" dy="-7.1" dx="0.3">&#8722;1</tspan><tspan dy="7.1" dx="-2.2"> ]</tspan></text>
</g>
<text x="98.8" y="199.7" font-family="Liberation Serif, serif" font-size="17" fill="#000">z<tspan dx="0.6"> =</tspan><tspan dx="1.3"> 100</tspan></text>
<g transform="translate(25.6,206.0) rotate(-90)" font-family="Liberation Serif, serif" font-size="17" fill="#6c6c6c">
<text x="14.3" y="0" font-style="italic">P</text>
<text x="24.65" y="2.4" font-size="12" font-style="italic">b</text>
<text x="36.05" y="0">(</text>
<text x="40.5" y="0" font-style="italic">k</text>
<text x="48.1" y="0">)</text>
<text x="56.0" y="0">/</text>
<text x="62.9" y="0" font-style="italic">P</text>
<text x="73.75" y="2.4" font-size="12" font-style="italic">b</text>
<text x="85.55" y="0">(</text>
<text x="90.0" y="0" font-style="italic">k</text>
<text x="97.85" y="0">,</text>
<text x="108.0" y="0" font-style="italic">p</text>
<text x="116.4" y="2.4" font-size="12">ann</text>
<text x="139.15" y="0">=</text>
<text x="153.35" y="0">0</text>
<text x="162.2" y="0">)</text>
<path d="M-0.8,-6.0 L2.0,-7.4" stroke="#6c6c6c" stroke-width="0.8" fill="none"/>
<path d="M2.0,-7.4 L5.3,2.0" stroke="#6c6c6c" stroke-width="1.7" fill="none"/>
<path d="M5.5,2.4 L10.8,-15.1 H169.9" stroke="#6c6c6c" stroke-width="0.95" fill="none" stroke-linejoin="miter"/>
</g>
<g font-family="Liberation Sans, sans-serif" font-size="20" fill="#000">
<path d="M700.2,140.7 H723.3" stroke="#5E81B5" stroke-width="1.7" fill="none"/>
<text y="146.3"><tspan x="734.9" font-style="italic">p</tspan><tspan x="745.0" font-size="14" dy="2.9">ann</tspan><tspan x="774.67" dy="-2.9">=</tspan><tspan x="791.33">10</tspan><tspan x="813.1" font-size="14" dy="-7.9">&#8722;28</tspan></text>
<path d="M700.2,178.7 H723.3" stroke="#E19C24" stroke-width="1.7" fill="none"/>
<text y="184.3"><tspan x="734.9" font-style="italic">p</tspan><tspan x="745.0" font-size="14" dy="2.9">ann</tspan><tspan x="774.67" dy="-2.9">=</tspan><tspan x="791.33">10</tspan><tspan x="813.1" font-size="14" dy="-7.9">&#8722;27</tspan></text>
<path d="M700.2,216.7 H723.3" stroke="#8FB032" stroke-width="1.7" fill="none"/>
<text y="222.3"><tspan x="734.9" font-style="italic">p</tspan><tspan x="745.0" font-size="14" dy="2.9">ann</tspan><tspan x="774.67" dy="-2.9">=</tspan><tspan x="791.33">10</tspan><tspan x="813.1" font-size="14" dy="-7.9">&#8722;26</tspan></text>
</g>
</svg>
</body></html>
